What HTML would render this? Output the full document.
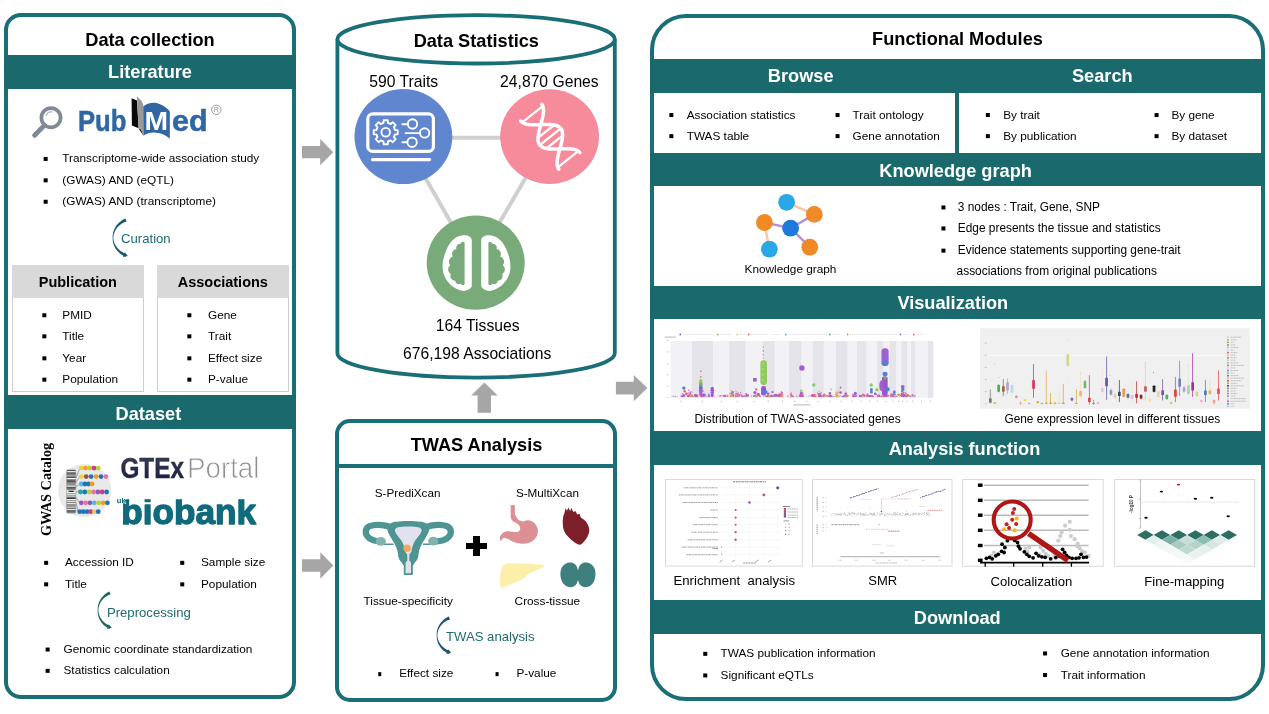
<!DOCTYPE html>
<html lang="en">
<head>
<meta charset="utf-8">
<title>TWAS Atlas overview</title>
<style>
html,body{margin:0;padding:0;background:#fff}
body{width:1269px;height:714px;position:relative;overflow:hidden;font-family:"Liberation Sans", Arial, sans-serif}
.abs{position:absolute;display:block}
.t{position:absolute;white-space:nowrap;margin:0}
.b{position:absolute;display:block;left:0;top:0;width:3.5px;height:3.5px;background:#000}
svg{overflow:visible}
</style>
</head>
<body>
<!-- left: data collection -->
<div class="abs" style="left:4px;top:13px;width:292px;height:686px;box-sizing:border-box;border:4px solid #1a6e75;border-radius:17px;background:#fff">
</div>
<div class="t" style="top:28.9px;font-size:18.2px;line-height:23.7px;color:#000;font-weight:700;left:-50.0px;width:400px;text-align:center;">Data collection</div>
<div class="abs" style="left:4px;top:55px;width:292px;height:33.8px;background:#1a6a6d">
</div>
<div class="t" style="top:61.1px;font-size:18.2px;line-height:23.7px;color:#fff;font-weight:700;left:-50.0px;width:400px;text-align:center;">Literature</div>
<svg class="abs" style="left:28px;top:94px" width="200" height="48" viewBox="28 94 200 48">
<g fill="none" stroke="#7f8a96" stroke-linecap="round">
<circle cx="51.0" cy="117.7" r="9.6" stroke-width="3.7"/>
<path d="M44.4 125.4 L34.6 135.2" stroke-width="4.8"/>
<path d="M46.0 115.6 A5.6 5.6 0 0 1 52.4 112.0" stroke-width="1.2" stroke="#aeb6bf"/>
</g>
<text x="78.0" y="131.0" font-family='"Liberation Sans", Arial, sans-serif' font-weight="700" font-size="28.6" fill="#2f66a3" stroke="#2f66a3" stroke-width="0.5" textLength="48.4" lengthAdjust="spacingAndGlyphs">Pub</text>
<path d="M131.6 98.3 L137 100.5 L138.6 128.5 L143.4 135.6 L141 129.2 L131.9 125.4 Z" fill="#0a0a0a"/>
<path d="M137 96.2 L141.6 101 L143.2 104.6 L143.2 133.6 L138.4 126.4 L137.2 100.6 Z" fill="#9a9a9a"/>
<path d="M143.2 106.6 C147.5 102.6 155 101.2 160.6 104.6 C164.2 106.2 167.6 108.6 169.8 111.4 L169.8 138.8 C164 133.4 152 129.6 143.4 135.8 Z" fill="#2f66a3"/>
<text x="144.6" y="129.6" font-family='"Liberation Sans", Arial, sans-serif' font-weight="700" font-size="25" fill="#fff" textLength="23.6" lengthAdjust="spacingAndGlyphs">M</text>
<text x="172.0" y="131.0" font-family='"Liberation Sans", Arial, sans-serif' font-weight="700" font-size="28.6" fill="#2f66a3" stroke="#2f66a3" stroke-width="0.5" textLength="35.6" lengthAdjust="spacingAndGlyphs">ed</text>
<circle cx="216.3" cy="109.8" r="4.7" fill="none" stroke="#8e9399" stroke-width="0.9"/>
<text x="216.3" y="112.3" font-family='"Liberation Sans", Arial, sans-serif' font-size="7" fill="#8e9399" text-anchor="middle">R</text>
</svg>
<i class="b" style="transform:translate(43.65px,156.95px)">
</i>
<div class="t" style="top:151.4px;font-size:11.8px;line-height:15.3px;color:#000;left:62.3px;">Transcriptome-wide association study</div>
<i class="b" style="transform:translate(43.65px,178.35px)">
</i>
<div class="t" style="top:172.8px;font-size:11.8px;line-height:15.3px;color:#000;left:62.3px;">(GWAS) AND (eQTL)</div>
<i class="b" style="transform:translate(43.65px,199.75px)">
</i>
<div class="t" style="top:194.2px;font-size:11.8px;line-height:15.3px;color:#000;left:62.3px;">(GWAS) AND (transcriptome)</div>
<svg class="abs" style="left:110.4px;top:216.0px" width="23.0" height="44.400000000000006" viewBox="110.4 216.0 23.0 44.400000000000006">
<path d="M125.84 218.50 L124.53 219.12 L123.27 219.82 L122.06 220.58 L120.91 221.42 L119.83 222.32 L118.81 223.28 L117.87 224.30 L117.00 225.37 L116.22 226.48 L115.51 227.64 L114.90 228.83 L114.37 230.05 L113.92 231.30 L113.57 232.56 L113.31 233.84 L113.14 235.13 L113.05 236.41 L113.05 237.70 L113.05 238.99 L113.14 240.27 L113.31 241.56 L113.57 242.84 L113.92 244.10 L114.37 245.35 L114.90 246.57 L115.51 247.76 L116.22 248.92 L117.00 250.03 L117.87 251.10 L118.81 252.12 L119.83 253.08 L120.91 253.98 L122.06 254.82 L123.33 255.46 L124.59 256.14 L125.90 256.75 L126.90 254.05 L125.70 253.64 L124.53 253.16 L123.47 252.48 L122.38 251.87 L121.33 251.18 L120.34 250.44 L119.39 249.63 L118.51 248.76 L117.69 247.83 L116.94 246.86 L116.25 245.83 L115.65 244.77 L115.12 243.66 L114.67 242.52 L114.30 241.34 L114.03 240.15 L113.84 238.93 L113.75 237.70 L113.84 236.47 L114.03 235.25 L114.30 234.06 L114.67 232.88 L115.12 231.74 L115.65 230.63 L116.25 229.57 L116.94 228.54 L117.69 227.57 L118.51 226.64 L119.39 225.77 L120.34 224.96 L121.33 224.22 L122.38 223.53 L123.47 222.92 L124.60 222.37 L125.76 221.90 L126.96 221.50 Z" fill="#1d5870"/>
<path d="M128.28 256.10 L123.28 256.91 L125.02 252.22 Z" fill="#1d5870"/>
</svg>
<div class="t" style="top:229.6px;font-size:13.15px;line-height:17.1px;color:#1f6b70;left:121.0px;">Curation</div>
<div class="abs" style="left:12px;top:265.3px;width:131.7px;height:127px;box-sizing:border-box;border:1px solid #cdcdcd;background:#fff">
</div>
<div class="abs" style="left:12px;top:265.3px;width:131.7px;height:32.9px;background:#d9d9d9">
</div>
<div class="t" style="top:273.4px;font-size:14.5px;line-height:18.9px;color:#000;font-weight:700;left:-122.2px;width:400px;text-align:center;">Publication</div>
<i class="b" style="transform:translate(42.35px,313.25px)">
</i>
<div class="t" style="top:307.8px;font-size:11.8px;line-height:15.3px;color:#000;left:62.3px;">PMID</div>
<i class="b" style="transform:translate(42.35px,334.35px)">
</i>
<div class="t" style="top:328.9px;font-size:11.8px;line-height:15.3px;color:#000;left:62.3px;">Title</div>
<i class="b" style="transform:translate(42.35px,356.35px)">
</i>
<div class="t" style="top:350.9px;font-size:11.8px;line-height:15.3px;color:#000;left:62.3px;">Year</div>
<i class="b" style="transform:translate(42.35px,377.65px)">
</i>
<div class="t" style="top:372.2px;font-size:11.8px;line-height:15.3px;color:#000;left:62.3px;">Population</div>
<div class="abs" style="left:157px;top:265.3px;width:131.7px;height:127px;box-sizing:border-box;border:1px solid #cdcdcd;background:#fff">
</div>
<div class="abs" style="left:157px;top:265.3px;width:131.7px;height:32.9px;background:#d9d9d9">
</div>
<div class="t" style="top:273.4px;font-size:14.5px;line-height:18.9px;color:#000;font-weight:700;left:22.8px;width:400px;text-align:center;">Associations</div>
<i class="b" style="transform:translate(187.35px,313.25px)">
</i>
<div class="t" style="top:307.8px;font-size:11.8px;line-height:15.3px;color:#000;left:208.0px;">Gene</div>
<i class="b" style="transform:translate(187.35px,334.35px)">
</i>
<div class="t" style="top:328.9px;font-size:11.8px;line-height:15.3px;color:#000;left:208.0px;">Trait</div>
<i class="b" style="transform:translate(187.35px,356.35px)">
</i>
<div class="t" style="top:350.9px;font-size:11.8px;line-height:15.3px;color:#000;left:208.0px;">Effect size</div>
<i class="b" style="transform:translate(187.35px,377.65px)">
</i>
<div class="t" style="top:372.2px;font-size:11.8px;line-height:15.3px;color:#000;left:208.0px;">P-value</div>
<div class="abs" style="left:4px;top:395px;width:292px;height:33.8px;background:#1a6a6d">
</div>
<div class="t" style="top:402.8px;font-size:18.2px;line-height:23.7px;color:#fff;font-weight:700;left:-51.6px;width:400px;text-align:center;">Dataset</div>
<svg class="abs" style="left:55px;top:462px" width="60" height="58" viewBox="55 462 60 58">
<circle cx="84.7" cy="490.5" r="26.6" fill="#e9e9ea"/>
<path d="M75.8 478.2 L79.8 468.1" stroke="#555" stroke-width="0.45" fill="none"/>
<path d="M75.8 482.9 L79.8 476.6" stroke="#555" stroke-width="0.45" fill="none"/>
<path d="M75.8 486.9 L79.8 484.0" stroke="#555" stroke-width="0.45" fill="none"/>
<path d="M75.8 491.3 L79.0 492.0" stroke="#555" stroke-width="0.45" fill="none"/>
<path d="M75.8 497.3 L79.8 502.8" stroke="#555" stroke-width="0.45" fill="none"/>
<path d="M75.8 502.2 L78.2 511.7" stroke="#555" stroke-width="0.45" fill="none"/>
<rect x="66.6" y="469.7" width="9.2" height="43.9" rx="2" fill="#fafafa" stroke="#666" stroke-width="0.4"/>
<rect x="66.8" y="470.2" width="8.8" height="0.9" fill="#333"/>
<rect x="66.8" y="472.4" width="8.8" height="0.5" fill="#111"/>
<rect x="66.8" y="473.3" width="8.8" height="0.9" fill="#222"/>
<rect x="66.8" y="474.6" width="8.8" height="0.7" fill="#111"/>
<rect x="66.8" y="475.7" width="8.8" height="1.2" fill="#777"/>
<rect x="66.8" y="477.3" width="8.8" height="0.7" fill="#111"/>
<rect x="66.8" y="479.3" width="8.8" height="0.5" fill="#222"/>
<rect x="66.8" y="480.2" width="8.8" height="0.7" fill="#222"/>
<rect x="66.8" y="481.3" width="8.8" height="1.2" fill="#111"/>
<rect x="66.8" y="483.1" width="8.8" height="0.5" fill="#222"/>
<rect x="66.8" y="484.2" width="8.8" height="0.9" fill="#777"/>
<rect x="66.8" y="485.7" width="8.8" height="0.5" fill="#222"/>
<rect x="66.8" y="487.1" width="8.8" height="0.7" fill="#111"/>
<rect x="66.8" y="488.4" width="8.8" height="0.9" fill="#111"/>
<rect x="66.8" y="489.7" width="8.8" height="0.5" fill="#222"/>
<rect x="66.8" y="490.8" width="8.8" height="1.2" fill="#222"/>
<rect x="66.8" y="493.3" width="8.8" height="0.9" fill="#777"/>
<rect x="66.8" y="495.5" width="8.8" height="0.9" fill="#555"/>
<rect x="66.8" y="497.0" width="8.8" height="0.7" fill="#333"/>
<rect x="66.8" y="498.1" width="8.8" height="0.9" fill="#222"/>
<rect x="66.8" y="500.3" width="8.8" height="0.9" fill="#777"/>
<rect x="66.8" y="502.1" width="8.8" height="0.5" fill="#111"/>
<rect x="66.8" y="503.9" width="8.8" height="0.7" fill="#555"/>
<rect x="66.8" y="505.2" width="8.8" height="1.2" fill="#777"/>
<rect x="66.8" y="506.8" width="8.8" height="0.5" fill="#222"/>
<rect x="66.8" y="508.2" width="8.8" height="0.9" fill="#555"/>
<rect x="66.8" y="510.4" width="8.8" height="1.2" fill="#111"/>
<rect x="66.8" y="512.0" width="8.8" height="0.9" fill="#777"/>
<path d="M66.6 489.6 L69.6 491 L66.6 492.4 Z M75.8 489.6 L72.8 491 L75.8 492.4 Z" fill="#e9e9ea"/>
<circle cx="81.3" cy="468.1" r="2.4" fill="#e6d447"/>
<circle cx="85.5" cy="468.1" r="2.4" fill="#f39a2c"/>
<circle cx="89.8" cy="468.1" r="2.4" fill="#b9d531"/>
<circle cx="94.0" cy="468.1" r="2.4" fill="#d6338a"/>
<circle cx="98.2" cy="468.1" r="2.4" fill="#b9d531"/>
<circle cx="81.3" cy="476.6" r="2.4" fill="#e6d447"/>
<circle cx="86.2" cy="476.6" r="2.4" fill="#a0522d"/>
<circle cx="91.1" cy="476.6" r="2.4" fill="#1f74b7"/>
<circle cx="96.1" cy="476.6" r="2.4" fill="#f39a2c"/>
<circle cx="101.0" cy="476.6" r="2.4" fill="#1f74b7"/>
<circle cx="105.9" cy="476.6" r="2.4" fill="#ee6fa8"/>
<circle cx="81.3" cy="484.0" r="2.4" fill="#56b4e9"/>
<circle cx="84.9" cy="484.0" r="2.4" fill="#1f74b7"/>
<circle cx="88.5" cy="484.0" r="2.4" fill="#1f74b7"/>
<circle cx="92.1" cy="484.0" r="2.4" fill="#f39a2c"/>
<circle cx="80.5" cy="492.0" r="2.4" fill="#1aa6a6"/>
<circle cx="84.8" cy="492.0" r="2.4" fill="#1f74b7"/>
<circle cx="89.2" cy="492.0" r="2.4" fill="#b9d531"/>
<circle cx="93.5" cy="492.0" r="2.4" fill="#ee6fa8"/>
<circle cx="97.9" cy="492.0" r="2.4" fill="#8e5bb5"/>
<circle cx="102.2" cy="492.0" r="2.4" fill="#d6338a"/>
<circle cx="106.6" cy="492.0" r="2.4" fill="#1f74b7"/>
<circle cx="81.3" cy="502.8" r="2.4" fill="#8e5bb5"/>
<circle cx="85.7" cy="502.8" r="2.4" fill="#ee6fa8"/>
<circle cx="90.0" cy="502.8" r="2.4" fill="#8e5bb5"/>
<circle cx="94.3" cy="502.8" r="2.4" fill="#56b4e9"/>
<circle cx="98.7" cy="502.8" r="2.4" fill="#b9d531"/>
<circle cx="103.1" cy="502.8" r="2.4" fill="#f39a2c"/>
<circle cx="107.4" cy="502.8" r="2.4" fill="#1f74b7"/>
<circle cx="79.7" cy="511.7" r="2.4" fill="#1f74b7"/>
<circle cx="83.4" cy="511.7" r="2.4" fill="#1f74b7"/>
<circle cx="87.1" cy="511.7" r="2.4" fill="#1f74b7"/>
<circle cx="90.8" cy="511.7" r="2.4" fill="#d6338a"/>
<circle cx="94.5" cy="511.7" r="2.4" fill="#e6d447"/>
<circle cx="98.2" cy="511.7" r="2.4" fill="#1f74b7"/>
</svg>
<svg class="abs" style="left:38px;top:438px" width="20" height="102" viewBox="38 438 20 102">
<text transform="translate(51.4 536) rotate(-90)" font-family='"Liberation Serif","Times New Roman",serif' font-weight="700" font-size="14.25" fill="#000" textLength="93.2" lengthAdjust="spacingAndGlyphs">GWAS Catalog</text>
</svg>
<svg class="abs" style="left:112px;top:450px" width="152" height="80" viewBox="112 450 152 80">
<defs>
<linearGradient id="gtx" x1="0" y1="0" x2="0" y2="1">
<stop offset="0" stop-color="#3a4258"/>
<stop offset="1" stop-color="#141c3c"/>
</linearGradient>
</defs>
<text x="120.4" y="478.0" font-family='"Liberation Sans", Arial, sans-serif' font-weight="700" font-size="28.6" fill="url(#gtx)" stroke="#232a45" stroke-width="0.4" textLength="63.6" lengthAdjust="spacingAndGlyphs">GTEx</text>
<text x="186.9" y="478.0" font-family='"Liberation Sans", Arial, sans-serif' font-size="28.6" fill="#8f8f8f" stroke="#fff" stroke-width="0.75" style="paint-order:fill stroke" textLength="72.6" lengthAdjust="spacingAndGlyphs">Portal</text>
<clipPath id="bbclip">
<rect x="112" y="499.3" width="152" height="32"/>
</clipPath>
<text x="121.3" y="523.8" clip-path="url(#bbclip)" font-family='"Liberation Sans", Arial, sans-serif' font-weight="700" font-size="34.6" fill="#0f6a7c" stroke="#0f6a7c" stroke-width="1.3" stroke-linejoin="round" textLength="134.8" lengthAdjust="spacingAndGlyphs">biobank</text>
<text x="116.8" y="503.4" font-family='"Liberation Sans", Arial, sans-serif' font-weight="700" font-size="7.6" fill="#0f6a7c" stroke="#fff" stroke-width="0.9" style="paint-order:stroke fill">uk</text>
</svg>
<i class="b" style="transform:translate(44.15px,560.85px)">
</i>
<div class="t" style="top:555.4px;font-size:11.8px;line-height:15.3px;color:#000;left:65.0px;">Accession ID</div>
<i class="b" style="transform:translate(180.25px,560.85px)">
</i>
<div class="t" style="top:555.4px;font-size:11.8px;line-height:15.3px;color:#000;left:201.0px;">Sample size</div>
<i class="b" style="transform:translate(44.15px,582.35px)">
</i>
<div class="t" style="top:576.9px;font-size:11.8px;line-height:15.3px;color:#000;left:65.0px;">Title</div>
<i class="b" style="transform:translate(180.25px,582.35px)">
</i>
<div class="t" style="top:576.9px;font-size:11.8px;line-height:15.3px;color:#000;left:201.0px;">Population</div>
<svg class="abs" style="left:95.0px;top:589.2px" width="22.0" height="43.39999999999998" viewBox="95.0 589.2 22.0 43.39999999999998">
<path d="M109.42 591.71 L108.20 592.32 L107.03 593.00 L105.91 593.75 L104.85 594.57 L103.85 595.45 L102.92 596.39 L102.05 597.38 L101.25 598.42 L100.53 599.50 L99.89 600.63 L99.32 601.79 L98.84 602.97 L98.43 604.18 L98.11 605.41 L97.88 606.65 L97.72 607.90 L97.65 609.15 L97.65 610.40 L97.65 611.65 L97.72 612.90 L97.88 614.15 L98.11 615.39 L98.43 616.62 L98.84 617.83 L99.32 619.01 L99.89 620.17 L100.53 621.30 L101.25 622.38 L102.05 623.42 L102.92 624.41 L103.85 625.35 L104.85 626.23 L105.91 627.05 L107.10 627.67 L108.26 628.34 L109.48 628.94 L110.52 626.26 L109.42 625.86 L108.35 625.40 L107.38 624.75 L106.37 624.16 L105.40 623.50 L104.48 622.77 L103.61 621.99 L102.79 621.15 L102.03 620.25 L101.33 619.30 L100.69 618.31 L100.13 617.27 L99.63 616.19 L99.21 615.08 L98.87 613.94 L98.61 612.78 L98.44 611.60 L98.35 610.40 L98.44 609.20 L98.61 608.02 L98.87 606.86 L99.21 605.72 L99.63 604.61 L100.13 603.53 L100.69 602.49 L101.33 601.50 L102.03 600.55 L102.79 599.65 L103.61 598.81 L104.48 598.03 L105.40 597.30 L106.37 596.64 L107.38 596.05 L108.42 595.53 L109.49 595.07 L110.58 594.69 Z" fill="#1f6866"/>
<path d="M111.86 628.33 L106.85 629.06 L108.67 624.40 Z" fill="#1f6866"/>
</svg>
<div class="t" style="top:604.0px;font-size:13.15px;line-height:17.1px;color:#1f6b70;left:106.9px;">Preprocessing</div>
<i class="b" style="transform:translate(45.65px,647.55px)">
</i>
<div class="t" style="top:642.1px;font-size:11.8px;line-height:15.3px;color:#000;left:63.5px;">Genomic coordinate standardization</div>
<i class="b" style="transform:translate(45.65px,668.85px)">
</i>
<div class="t" style="top:663.4px;font-size:11.8px;line-height:15.3px;color:#000;left:63.5px;">Statistics calculation</div>
<!-- middle: statistics + TWAS analysis -->
<svg class="abs" style="left:330px;top:8px" width="294" height="378" viewBox="330 8 294 378">
<path d="M337.4 39.3 V353.2 A138.7 24.4 0 0 0 614.8 353.2 V39.3" fill="#fff" stroke="#1a6e75" stroke-width="3.8"/>
<ellipse cx="476.1" cy="39.3" rx="138.7" ry="24.2" fill="#fff" stroke="#1a6e75" stroke-width="3.8"/>
<g stroke="#cfcfcf" stroke-width="4">
<path d="M403.4 137.8 H549.5"/>
<path d="M401.6 136.6 L473.9 262.7"/>
<path d="M549.8 136.6 L476.0 262.7"/>
</g>
<ellipse cx="403.4" cy="136.6" rx="48.9" ry="47.5" fill="#6086cf"/>
<ellipse cx="549.6" cy="136.6" rx="49.4" ry="47.3" fill="#f58b9b"/>
<ellipse cx="475.7" cy="262.7" rx="49.0" ry="47.1" fill="#79aa79"/>
<g fill="none" stroke="#fff" stroke-linecap="round" stroke-linejoin="round">
<rect x="367.8" y="113.8" width="65.6" height="37.6" rx="5" stroke-width="3.2"/>
<path d="M372.5 159.6 H429.6" stroke-width="3.1"/>
<path d="M397.7 130.1 L397.7 134.3 L395.0 134.4 L393.9 137.2 L395.7 139.2 L392.7 142.2 L390.7 140.4 L387.9 141.5 L387.8 144.2 L383.6 144.2 L383.5 141.5 L380.7 140.4 L378.7 142.2 L375.7 139.2 L377.5 137.2 L376.4 134.4 L373.7 134.3 L373.7 130.1 L376.4 130.0 L377.5 127.2 L375.7 125.2 L378.7 122.2 L380.7 124.0 L383.5 122.9 L383.6 120.2 L387.8 120.2 L387.9 122.9 L390.7 124.0 L392.7 122.2 L395.7 125.2 L393.9 127.2 L395.0 130.0 Z" stroke-width="1.9"/>
<circle cx="385.7" cy="132.2" r="4.3" stroke-width="1.9"/>
<circle cx="412.5" cy="124.0" r="4.7" stroke-width="1.9"/>
<path d="M402.4 124.2 H407.6" stroke-width="1.9"/>
<circle cx="424.6" cy="132.9" r="4.7" stroke-width="1.9"/>
<path d="M405.6 133.1 H419.6" stroke-width="1.9"/>
<circle cx="412.1" cy="142.3" r="4.7" stroke-width="1.9"/>
<path d="M402.4 142.3 H407.2" stroke-width="1.9"/>
</g>
<g fill="none" stroke="#fff" stroke-linecap="round" stroke-linejoin="round">
<path d="M520.7 120.9 L521.4 121.7 L522.2 122.3 L523.1 122.9 L524.1 123.4 L525.3 123.8 L526.5 124.2 L527.8 124.4 L529.3 124.6 L530.8 124.7 L532.3 124.8 L533.9 124.8 L535.6 124.8 L537.3 124.8 L539.0 124.7 L540.8 124.7 L542.5 124.6 L544.2 124.6 L545.9 124.5 L547.6 124.5 L549.2 124.5 L550.7 124.6 L552.2 124.7 L553.7 124.9 L555.0 125.2 L556.2 125.5 L557.4 125.9 L558.4 126.4 L559.3 127.0 L560.1 127.7 L560.8 128.4 L561.4 129.3 L561.9 130.2 L562.2 131.3 L562.4 132.4 L562.6 133.6 L562.6 134.9 L562.6 136.2 L562.4 137.6 L562.2 139.1 L561.9 140.6 L561.6 142.2 L561.2 143.8 L560.8 145.5 L560.3 147.2 L559.9 148.8 L559.4 150.5 L558.9 152.2 L558.5 153.8 L558.1 155.4 L557.8 157.0 L557.5 158.5 L557.3 160.0 L557.1 161.4 L557.1 162.8 L557.1 164.1 L557.3 165.3 L557.5 166.4 L557.8 167.4 L558.3 168.4 L558.9 169.2" stroke-width="3.5"/>
<path d="M541.7 104.3 L542.3 105.1 L542.8 106.1 L543.1 107.1 L543.3 108.2 L543.5 109.4 L543.5 110.7 L543.5 112.1 L543.3 113.5 L543.1 115.0 L542.8 116.5 L542.5 118.1 L542.1 119.7 L541.7 121.3 L541.2 123.0 L540.8 124.7 L540.3 126.3 L539.8 128.0 L539.4 129.7 L539.0 131.3 L538.7 132.9 L538.4 134.4 L538.2 135.9 L538.0 137.3 L538.0 138.6 L538.0 139.9 L538.2 141.1 L538.4 142.2 L538.7 143.3 L539.2 144.2 L539.8 145.1 L540.5 145.8 L541.3 146.5 L542.2 147.1 L543.2 147.6 L544.4 148.0 L545.6 148.3 L546.9 148.6 L548.4 148.8 L549.9 148.9 L551.4 149.0 L553.0 149.0 L554.7 149.0 L556.4 148.9 L558.1 148.9 L559.9 148.8 L561.6 148.8 L563.3 148.7 L565.0 148.7 L566.7 148.7 L568.3 148.7 L569.8 148.8 L571.3 148.9 L572.8 149.1 L574.1 149.3 L575.3 149.7 L576.5 150.1 L577.5 150.6 L578.4 151.2 L579.2 151.8 L579.9 152.6" stroke-width="3.5"/>
<path d="M522.3 122.4 L542.8 106.2" stroke-width="2.3"/>
<path d="M538.0 137.8 L554.2 125.0" stroke-width="2.3"/>
<path d="M539.8 145.1 L560.8 128.4" stroke-width="2.3"/>
<path d="M546.4 148.5 L562.6 135.7" stroke-width="2.3"/>
<path d="M557.8 167.3 L578.3 151.1" stroke-width="2.3"/>
</g>
<g>
<path d="M471.8 240.6 C471.8 236.8 468 234.9 463 235.3 C456 236 450 241 446.4 250 C443 258 441.4 266 443.4 273 C445.4 280.4 451 286.4 458 289.6 C463 291.8 468.4 291.6 471.8 286.6 Z" fill="#fff"/>
<path d="M464.6 242.4 A2.54 2.54 0 0 0 460.6 243.8 A4.01 4.01 0 0 0 456.4 249.0 A4.94 4.94 0 0 0 452.8 256.4 A5.51 5.51 0 0 0 450.2 265.2 A5.41 5.41 0 0 0 450.8 274.2 A4.76 4.76 0 0 0 455.2 280.8 A3.71 3.71 0 0 0 460.6 283.8 A2.41 2.41 0 0 0 464.6 284.2 Z" fill="#79aa79"/>
</g>
<g transform="translate(953.0 0) scale(-1 1)">
<path d="M471.8 240.6 C471.8 236.8 468 234.9 463 235.3 C456 236 450 241 446.4 250 C443 258 441.4 266 443.4 273 C445.4 280.4 451 286.4 458 289.6 C463 291.8 468.4 291.6 471.8 286.6 Z" fill="#fff"/>
<path d="M464.6 242.4 A2.54 2.54 0 0 0 460.6 243.8 A4.01 4.01 0 0 0 456.4 249.0 A4.94 4.94 0 0 0 452.8 256.4 A5.51 5.51 0 0 0 450.2 265.2 A5.41 5.41 0 0 0 450.8 274.2 A4.76 4.76 0 0 0 455.2 280.8 A3.71 3.71 0 0 0 460.6 283.8 A2.41 2.41 0 0 0 464.6 284.2 Z" fill="#79aa79"/>
</g>
</svg>
<div class="t" style="top:29.9px;font-size:18.2px;line-height:23.7px;color:#000;font-weight:700;left:276.3px;width:400px;text-align:center;">Data Statistics</div>
<div class="t" style="top:72.0px;font-size:15.7px;line-height:20.4px;color:#000;left:203.7px;width:400px;text-align:center;">590 Traits</div>
<div class="t" style="top:72.0px;font-size:15.7px;line-height:20.4px;color:#000;left:349.4px;width:400px;text-align:center;">24,870 Genes</div>
<div class="t" style="top:315.6px;font-size:15.7px;line-height:20.4px;color:#000;left:277.7px;width:400px;text-align:center;">164 Tissues</div>
<div class="t" style="top:343.6px;font-size:15.7px;line-height:20.4px;color:#000;left:277.2px;width:400px;text-align:center;">676,198 Associations</div>
<svg class="abs" style="left:0;top:0" width="1269" height="714" viewBox="0 0 1269 714">
<path d="M302 146.1 H320.2 V139.1 L333.2 152.2 L320.2 165.29999999999998 V158.29999999999998 H302 Z" fill="#a6a6a6"/>
<path d="M302 559.3 H320.3 V552.2 L333.4 565.5 L320.3 578.8 V571.7 H302 Z" fill="#a6a6a6"/>
<path d="M615.9 381.8 H633.8 V375.0 L647.3 388.1 L633.8 401.20000000000005 V394.40000000000003 H615.9 Z" fill="#a6a6a6"/>
<path d="M477.6 412.8 V395.6 H471.2 L484.4 382.4 L497.7 395.6 H491 V412.8 Z" fill="#a6a6a6"/>
</svg>
<div class="abs" style="left:335px;top:419px;width:282px;height:283px;box-sizing:border-box;border:4px solid #1a6e75;border-radius:15px;background:#fff">
</div>
<div class="abs" style="left:337px;top:464px;width:279px;height:4px;background:#1a6e75">
</div>
<div class="t" style="top:433.9px;font-size:18.2px;line-height:23.7px;color:#000;font-weight:700;left:276.5px;width:400px;text-align:center;">TWAS Analysis</div>
<div class="t" style="top:484.9px;font-size:11.7px;line-height:15.2px;color:#000;left:207.6px;width:400px;text-align:center;">S-PrediXcan</div>
<div class="t" style="top:484.9px;font-size:11.7px;line-height:15.2px;color:#000;left:347.4px;width:400px;text-align:center;">S-MultiXcan</div>
<svg class="abs" style="left:358px;top:516px" width="100" height="64" viewBox="358 516 100 64">
<g fill="none" stroke="#4d9492" stroke-width="6.3" stroke-linecap="round">
<path d="M391 527.4 C384 524.2 374 524.4 369.6 526.2 C364.6 528.6 364.6 534.6 369 538 C372.4 540.6 376.6 541.2 380 541.4"/>
<path d="M425.6 527.4 C432.6 524.2 442.6 524.4 447 526.2 C452 528.6 452 534.6 447.6 538 C444.2 540.6 440 541.2 436.6 541.4"/>
</g>
<path d="M384 544.2 H393.6 M423 544.2 H432.6" stroke="#4d9492" stroke-width="1.4"/>
<path d="M387.4 528 C388 524 392 521.6 397 521.8 C401 520.6 415.6 520.6 419.6 521.8 C424.6 521.6 428.6 524 429.2 528 C429.6 532 426.4 536 423.6 541 C420.6 546 419 549.6 418.6 554 C418.4 558 417 560.4 414.8 562.6 L412.8 566 V575 H403.8 V566 L401.8 562.6 C399.6 560.4 398.2 558 398 554 C397.6 549.6 396 546 393 541 C390.2 536 387 532 387.4 528 Z" fill="#4d9492"/>
<path d="M395.0 530.2 C395.0 527.2 399.4 526.4 408.3 526.4 C417.2 526.4 421.6 527.2 421.6 530.2 C421.6 533.4 417.6 536.6 414.6 541.6 C412.6 545.4 411.8 548.6 411.4 551.6 L409.4 554.6 L409.2 560.6 L411 562.4 V573.2 H405.6 V562.4 L407.4 560.6 L407.2 554.6 L405 551.6 C404.8 548.6 404 545.4 402 541.6 C399 536.6 395.0 533.4 395.0 530.2 Z" fill="#e2e2ef"/>
<circle cx="407.1" cy="548.2" r="3.7" fill="#f7a85a"/>
<ellipse cx="380.8" cy="541.4" rx="5.1" ry="4.4" fill="#80b3af"/>
<ellipse cx="433.2" cy="541.1" rx="5.1" ry="4.4" fill="#80b3af"/>
</svg>
<svg class="abs" style="left:495px;top:500px" width="106" height="94" viewBox="495 500 106 94">
<path d="M512.8 516.0 C513.5 515.5 514.1 514.0 514.9 514.6 C515.8 515.2 516.8 518.5 518.0 519.6 C519.3 520.8 520.8 521.2 522.5 521.3 C524.2 521.4 526.2 520.0 528.1 520.2 C530.0 520.4 532.5 521.3 534.1 522.7 C535.7 524.1 537.1 526.5 537.6 528.6 C538.1 530.8 537.9 533.5 537.1 535.6 C536.2 537.7 534.5 539.9 532.3 541.2 C530.1 542.6 526.5 543.5 523.6 543.7 C520.8 544.0 517.7 543.4 515.2 542.6 C512.7 541.9 510.2 540.1 508.5 539.3 C506.7 538.4 505.7 537.8 504.7 537.7 C503.7 537.6 502.9 538.2 502.3 538.7 C501.7 539.2 501.5 541.1 501.1 540.9 C500.6 540.8 499.7 538.9 499.8 537.7 C499.9 536.5 500.9 534.7 501.9 533.7 C503.0 532.6 504.4 531.7 506.1 531.4 C507.9 531.1 510.5 531.6 512.4 531.7 C514.3 531.8 516.1 532.3 517.3 532.0 C518.6 531.6 519.6 530.7 520.0 529.7 C520.4 528.8 520.2 527.4 519.7 526.4 C519.2 525.3 518.1 524.5 516.9 523.6 C515.7 522.7 513.7 522.1 512.7 521.1 C511.7 520.0 510.8 518.2 510.9 517.4 C510.9 516.6 512.2 516.5 512.8 516.0 Z" fill="#dc9094"/>
<rect x="510.7" y="505.1" width="4.2" height="12" fill="#dc9094"/>
<path d="M563.4 516.0 C564.0 514.1 564.6 513.3 566.3 512.9 C568.1 512.5 571.6 512.7 574.0 513.5 C576.4 514.2 578.8 516.1 580.8 517.4 C582.7 518.7 584.2 519.5 585.5 521.1 C586.8 522.6 588.1 524.9 588.7 526.7 C589.3 528.4 589.4 530.0 589.2 531.7 C588.9 533.4 588.3 535.2 587.3 537.0 C586.4 538.8 584.6 541.1 583.3 542.3 C582.0 543.6 581.2 544.8 579.6 544.7 C578.1 544.6 575.9 543.2 574.0 541.9 C572.2 540.6 570.0 538.8 568.4 537.0 C566.8 535.3 565.3 533.5 564.4 531.4 C563.4 529.3 563.0 527.0 562.8 524.4 C562.7 521.8 562.8 517.9 563.4 516.0 Z" fill="#7d1f2a"/>
<path d="M563.7 516.0 L565.6 508.3 L567.0 510.7 L568.4 507.6 L570.1 511.0 L571.4 508.0 L573.1 511.8 L575.7 511.2 L577.1 514.6 L579.6 513.8 L580.8 518.1 L574.0 518.8 L565.6 518.8 Z" fill="#7d1f2a"/>
<path d="M500.5 573.4 C500.9 571.2 501.8 567.1 502.9 565.7 C504.0 564.3 505.7 563.6 508.2 563.3 C510.7 563.1 517.1 563.5 520.8 563.6 C524.5 563.7 531.4 564.0 534.8 564.2 C538.2 564.4 544.2 564.6 544.9 565.3 C545.6 566.0 541.5 568.0 539.7 568.9 C537.9 569.9 533.8 571.4 532.0 572.3 C530.2 573.2 528.0 574.6 526.7 575.5 C525.4 576.5 524.1 578.1 522.5 579.0 C520.9 580.0 517.4 581.6 515.2 582.5 C513.0 583.5 508.8 585.0 506.8 585.8 C504.8 586.5 502.1 588.3 501.2 587.7 C500.3 587.2 500.2 583.8 500.1 581.8 C500.0 579.8 500.1 575.7 500.5 573.4 Z" fill="#fbefaa"/>
<path d="M560.4 574.1 C560.4 572.0 560.8 569.6 561.7 567.8 C562.6 566.1 564.0 564.6 565.6 563.8 C567.2 562.9 569.6 562.4 571.2 562.6 C572.9 562.9 574.6 563.9 575.7 565.0 C576.8 566.2 577.3 567.9 577.7 569.5 C578.1 571.1 578.2 573.0 578.2 574.8 C578.2 576.7 578.1 578.8 577.7 580.4 C577.3 582.1 576.8 583.8 575.7 584.9 C574.6 586.0 572.7 587.1 571.0 587.2 C569.2 587.3 566.9 586.5 565.4 585.5 C563.8 584.4 562.5 582.6 561.7 580.7 C560.9 578.8 560.4 576.3 560.4 574.1 Z" fill="#3f7f7e"/>
<path d="M595.5 574.1 C595.5 572.0 595.1 569.6 594.2 567.8 C593.3 566.1 591.9 564.6 590.3 563.8 C588.7 562.9 586.4 562.4 584.7 562.6 C583.0 562.9 581.3 563.9 580.2 565.0 C579.1 566.2 578.7 567.9 578.2 569.5 C577.8 571.1 577.7 573.0 577.7 574.8 C577.7 576.7 577.8 578.8 578.2 580.4 C578.7 582.1 579.1 583.8 580.2 584.9 C581.3 586.0 583.2 587.1 585.0 587.2 C586.7 587.3 589.0 586.5 590.6 585.5 C592.1 584.4 593.4 582.6 594.2 580.7 C595.0 578.8 595.5 576.3 595.5 574.1 Z" fill="#3f7f7e"/>
<rect x="576.4" y="570.2" width="3.2" height="10.6" fill="#3f7f7e"/>
</svg>
<div class="abs" style="left:466.1px;top:542.9px;width:21px;height:6.3px;background:#000">
</div>
<div class="abs" style="left:473.1px;top:535.9px;width:7px;height:20.3px;background:#000">
</div>
<div class="t" style="top:593.5px;font-size:11.8px;line-height:15.3px;color:#000;left:208.2px;width:400px;text-align:center;">Tissue-specificity</div>
<div class="t" style="top:593.5px;font-size:11.8px;line-height:15.3px;color:#000;left:347.4px;width:400px;text-align:center;">Cross-tissue</div>
<svg class="abs" style="left:434.0px;top:614.0px" width="22.399999999999977" height="43.39999999999998" viewBox="434.0 614.0 22.399999999999977 43.39999999999998">
<path d="M448.83 616.50 L447.58 617.11 L446.37 617.79 L445.22 618.54 L444.12 619.36 L443.09 620.24 L442.12 621.17 L441.22 622.17 L440.40 623.21 L439.65 624.29 L438.98 625.42 L438.39 626.58 L437.89 627.76 L437.47 628.98 L437.14 630.21 L436.89 631.45 L436.73 632.70 L436.65 633.95 L436.65 635.20 L436.65 636.45 L436.73 637.70 L436.89 638.95 L437.14 640.19 L437.47 641.42 L437.89 642.64 L438.39 643.82 L438.98 644.98 L439.65 646.11 L440.40 647.19 L441.22 648.23 L442.12 649.23 L443.09 650.16 L444.12 651.04 L445.22 651.86 L446.44 652.48 L447.64 653.15 L448.89 653.75 L449.91 651.05 L448.77 650.66 L447.66 650.19 L446.65 649.54 L445.61 648.94 L444.61 648.28 L443.66 647.56 L442.76 646.78 L441.92 645.94 L441.13 645.04 L440.41 644.09 L439.76 643.10 L439.17 642.06 L438.67 640.99 L438.23 639.88 L437.88 638.74 L437.62 637.58 L437.44 636.39 L437.35 635.20 L437.44 634.01 L437.62 632.82 L437.88 631.66 L438.23 630.52 L438.67 629.41 L439.17 628.34 L439.76 627.30 L440.41 626.31 L441.13 625.36 L441.92 624.46 L442.76 623.62 L443.66 622.84 L444.61 622.12 L445.61 621.46 L446.65 620.86 L447.72 620.34 L448.83 619.88 L449.97 619.50 Z" fill="#1d5474"/>
<path d="M451.27 653.11 L446.27 653.89 L448.04 649.21 Z" fill="#1d5474"/>
</svg>
<div class="t" style="top:627.7px;font-size:13.15px;line-height:17.1px;color:#1f6b70;left:446.0px;">TWAS analysis</div>
<i class="b" style="width:2.9px;height:3.5px;transform:translate(378.25px,672.15px)">
</i>
<div class="t" style="top:666.4px;font-size:11.8px;line-height:15.3px;color:#000;left:399.2px;">Effect size</div>
<i class="b" style="width:2.9px;height:3.5px;transform:translate(495.55px,672.15px)">
</i>
<div class="t" style="top:666.4px;font-size:11.8px;line-height:15.3px;color:#000;left:516.4px;">P-value</div>
<!-- right: functional modules -->
<div class="abs" style="left:650px;top:14px;width:615px;height:686.5px;box-sizing:border-box;border:4px solid #1a6e75;border-radius:36px;background:#fff">
</div>
<div class="t" style="top:28.1px;font-size:18.2px;line-height:23.7px;color:#000;font-weight:700;left:757.5px;width:400px;text-align:center;">Functional Modules</div>
<div class="abs" style="left:650px;top:58.7px;width:615px;height:34.6px;background:#1a6a6d">
</div>
<div class="t" style="top:64.8px;font-size:18.2px;line-height:23.7px;color:#fff;font-weight:700;left:600.7px;width:400px;text-align:center;">Browse</div>
<div class="t" style="top:64.8px;font-size:18.2px;line-height:23.7px;color:#fff;font-weight:700;left:902.3px;width:400px;text-align:center;">Search</div>
<div class="abs" style="left:954.6px;top:93px;width:4.5px;height:61px;background:#1a6a6d">
</div>
<i class="b" style="transform:translate(669.35px,113.05px)">
</i>
<div class="t" style="top:107.5px;font-size:11.8px;line-height:15.3px;color:#000;left:686.7px;">Association statistics</div>
<i class="b" style="transform:translate(835.55px,113.05px)">
</i>
<div class="t" style="top:107.5px;font-size:11.8px;line-height:15.3px;color:#000;left:852.6px;">Trait ontology</div>
<i class="b" style="transform:translate(669.35px,134.15px)">
</i>
<div class="t" style="top:128.7px;font-size:11.8px;line-height:15.3px;color:#000;left:686.7px;">TWAS table</div>
<i class="b" style="transform:translate(835.55px,134.15px)">
</i>
<div class="t" style="top:128.7px;font-size:11.8px;line-height:15.3px;color:#000;left:852.6px;">Gene annotation</div>
<i class="b" style="transform:translate(985.85px,113.05px)">
</i>
<div class="t" style="top:107.5px;font-size:11.8px;line-height:15.3px;color:#000;left:1003.2px;">By trait</div>
<i class="b" style="transform:translate(1154.55px,113.05px)">
</i>
<div class="t" style="top:107.5px;font-size:11.8px;line-height:15.3px;color:#000;left:1171.4px;">By gene</div>
<i class="b" style="transform:translate(985.85px,134.15px)">
</i>
<div class="t" style="top:128.7px;font-size:11.8px;line-height:15.3px;color:#000;left:1003.2px;">By publication</div>
<i class="b" style="transform:translate(1154.55px,134.15px)">
</i>
<div class="t" style="top:128.7px;font-size:11.8px;line-height:15.3px;color:#000;left:1171.4px;">By dataset</div>
<div class="abs" style="left:650px;top:153.1px;width:615px;height:33.0px;background:#1a6a6d">
</div>
<div class="t" style="top:159.8px;font-size:18.2px;line-height:23.7px;color:#fff;font-weight:700;left:755.6px;width:400px;text-align:center;">Knowledge graph</div>
<svg class="abs" style="left:750px;top:190px" width="80" height="72" viewBox="750 190 80 72">
<path d="M786.6 202.3 L814.3 214.4" stroke="#f6c6a8" stroke-width="2.4"/>
<path d="M764.4 222.5 L790.6 228.2" stroke="#b590d2" stroke-width="2.4"/>
<path d="M790.6 228.2 L814.3 214.4" stroke="#b590d2" stroke-width="2.4"/>
<path d="M790.6 228.2 L809.8 247.2" stroke="#b590d2" stroke-width="2.4"/>
<path d="M764.4 222.5 L769.4 249.2" stroke="#f6c6a8" stroke-width="2.4"/>
<circle cx="786.6" cy="202.3" r="8.4" fill="#2aa7e6"/>
<circle cx="814.3" cy="214.4" r="8.4" fill="#f08a26"/>
<circle cx="764.4" cy="222.5" r="8.4" fill="#f08a26"/>
<circle cx="790.6" cy="228.2" r="8.4" fill="#1d7ad9"/>
<circle cx="769.4" cy="249.2" r="8.4" fill="#2aa7e6"/>
<circle cx="809.8" cy="247.2" r="8.4" fill="#f08a26"/>
</svg>
<div class="t" style="top:261.5px;font-size:11.8px;line-height:15.3px;color:#000;left:590.5px;width:400px;text-align:center;">Knowledge graph</div>
<i class="b" style="transform:translate(941.45px,205.45px)">
</i>
<div class="t" style="top:199.8px;font-size:11.9px;line-height:15.5px;color:#000;left:957.8px;">3 nodes : Trait, Gene, SNP</div>
<i class="b" style="transform:translate(941.45px,226.45px)">
</i>
<div class="t" style="top:220.8px;font-size:11.9px;line-height:15.5px;color:#000;left:957.8px;">Edge presents the tissue and statistics</div>
<i class="b" style="transform:translate(941.45px,248.65px)">
</i>
<div class="t" style="top:243.1px;font-size:11.9px;line-height:15.5px;color:#000;left:957.8px;">Evidence statements supporting gene-trait</div>
<div class="t" style="top:263.6px;font-size:11.9px;line-height:15.5px;color:#000;left:956.6px;">associations from original publications</div>
<div class="abs" style="left:650px;top:285.7px;width:615px;height:33.3px;background:#1a6a6d">
</div>
<div class="t" style="top:291.8px;font-size:18.2px;line-height:23.7px;color:#fff;font-weight:700;left:752.8px;width:400px;text-align:center;">Visualization</div>
<svg class="abs" style="left:660px;top:326px" width="282" height="84" viewBox="660 326 282 84">
<rect x="670.6" y="341.0" width="262.6" height="56.8" fill="#f1f1f6"/>
<rect x="692.0" y="341.0" width="21.0" height="56.8" fill="#e4e4ea"/>
<rect x="729.1" y="341.0" width="16.5" height="56.8" fill="#e4e4ea"/>
<rect x="763.0" y="341.0" width="11.7" height="56.8" fill="#e4e4ea"/>
<rect x="789.1" y="341.0" width="12.1" height="56.8" fill="#e4e4ea"/>
<rect x="812.7" y="341.0" width="11.0" height="56.8" fill="#e4e4ea"/>
<rect x="835.9" y="341.0" width="11.3" height="56.8" fill="#e4e4ea"/>
<rect x="857.0" y="341.0" width="9.3" height="56.8" fill="#e4e4ea"/>
<rect x="877.3" y="341.0" width="6.0" height="56.8" fill="#e4e4ea"/>
<rect x="889.5" y="341.0" width="6.6" height="56.8" fill="#e4e4ea"/>
<rect x="901.4" y="341.0" width="5.7" height="56.8" fill="#e4e4ea"/>
<rect x="911.1" y="341.0" width="4.0" height="56.8" fill="#e4e4ea"/>
<rect x="928.1" y="341.0" width="5.1" height="56.8" fill="#e4e4ea"/>
<circle cx="680.3" cy="334.5" r="0.9" fill="#5b6fd1"/>
<circle cx="717.8" cy="334.5" r="0.9" fill="#8ecb60"/>
<circle cx="737.2" cy="334.5" r="0.9" fill="#f2c94c"/>
<circle cx="748.7" cy="334.5" r="0.9" fill="#e26a5a"/>
<circle cx="785.8" cy="334.5" r="0.9" fill="#59b7d6"/>
<circle cx="829.9" cy="334.5" r="0.9" fill="#4fae8c"/>
<circle cx="847.6" cy="334.5" r="0.9" fill="#ec8b3a"/>
<circle cx="900.5" cy="334.5" r="0.9" fill="#a56ad0"/>
<circle cx="913.8" cy="334.5" r="0.9" fill="#e26ab8"/>
<path d="M682.9 334.5 H713.0" stroke="#c9c9d2" stroke-width="0.6" stroke-dasharray="1.2 0.8"/>
<path d="M720.0 334.5 H731.9" stroke="#c9c9d2" stroke-width="0.6" stroke-dasharray="1.2 0.8"/>
<path d="M739.4 334.5 H746.5" stroke="#c9c9d2" stroke-width="0.6" stroke-dasharray="1.2 0.8"/>
<path d="M750.9 334.5 H768.6" stroke="#c9c9d2" stroke-width="0.6" stroke-dasharray="1.2 0.8"/>
<path d="M772.5 334.5 H780.9" stroke="#c9c9d2" stroke-width="0.6" stroke-dasharray="1.2 0.8"/>
<path d="M788.0 334.5 H827.7" stroke="#c9c9d2" stroke-width="0.6" stroke-dasharray="1.2 0.8"/>
<path d="M832.6 334.5 H840.5" stroke="#c9c9d2" stroke-width="0.6" stroke-dasharray="1.2 0.8"/>
<path d="M849.8 334.5 H897.2" stroke="#c9c9d2" stroke-width="0.6" stroke-dasharray="1.2 0.8"/>
<path d="M902.7 334.5 H909.3" stroke="#c9c9d2" stroke-width="0.6" stroke-dasharray="1.2 0.8"/>
<path d="M916.0 334.5 H923.9" stroke="#c9c9d2" stroke-width="0.6" stroke-dasharray="1.2 0.8"/>
<path d="M664.9 337.1 H675.9" stroke="#9a9aa4" stroke-width="0.7"/>
<path d="M666.6 340.4 H668.8" stroke="#b5b5be" stroke-width="0.6"/>
<path d="M666.6 351.9 H668.8" stroke="#b5b5be" stroke-width="0.6"/>
<path d="M666.6 363.8 H668.8" stroke="#b5b5be" stroke-width="0.6"/>
<path d="M666.6 374.9 H668.8" stroke="#b5b5be" stroke-width="0.6"/>
<path d="M666.6 386.3 H668.8" stroke="#b5b5be" stroke-width="0.6"/>
<path d="M666.6 397.4 H668.8" stroke="#b5b5be" stroke-width="0.6"/>
<path d="M681.0 400.7 V402.0" stroke="#8f8f9a" stroke-width="0.6"/>
<path d="M702.4 400.7 V402.0" stroke="#8f8f9a" stroke-width="0.6"/>
<path d="M721.3 400.7 V402.0" stroke="#8f8f9a" stroke-width="0.6"/>
<path d="M737.2 400.7 V402.0" stroke="#8f8f9a" stroke-width="0.6"/>
<path d="M753.8 400.7 V402.0" stroke="#8f8f9a" stroke-width="0.6"/>
<path d="M768.1 400.7 V402.0" stroke="#8f8f9a" stroke-width="0.6"/>
<path d="M782.5 400.7 V402.0" stroke="#8f8f9a" stroke-width="0.6"/>
<path d="M794.6 400.7 V402.0" stroke="#8f8f9a" stroke-width="0.6"/>
<path d="M806.7 400.7 V402.0" stroke="#8f8f9a" stroke-width="0.6"/>
<path d="M817.8 400.7 V402.0" stroke="#8f8f9a" stroke-width="0.6"/>
<path d="M829.9 400.7 V402.0" stroke="#8f8f9a" stroke-width="0.6"/>
<path d="M840.9 400.7 V402.0" stroke="#8f8f9a" stroke-width="0.6"/>
<path d="M852.0 400.7 V402.0" stroke="#8f8f9a" stroke-width="0.6"/>
<path d="M861.2 400.7 V402.0" stroke="#8f8f9a" stroke-width="0.6"/>
<path d="M869.6 400.7 V402.0" stroke="#8f8f9a" stroke-width="0.6"/>
<path d="M877.3 400.7 V402.0" stroke="#8f8f9a" stroke-width="0.6"/>
<path d="M886.2 400.7 V402.0" stroke="#8f8f9a" stroke-width="0.6"/>
<path d="M892.8 400.7 V402.0" stroke="#8f8f9a" stroke-width="0.6"/>
<path d="M898.7 400.7 V402.0" stroke="#8f8f9a" stroke-width="0.6"/>
<path d="M902.7 400.7 V402.0" stroke="#8f8f9a" stroke-width="0.6"/>
<path d="M907.1 400.7 V402.0" stroke="#8f8f9a" stroke-width="0.6"/>
<path d="M912.6 400.7 V402.0" stroke="#8f8f9a" stroke-width="0.6"/>
<path d="M921.5 400.7 V402.0" stroke="#8f8f9a" stroke-width="0.6"/>
<path d="M930.3 400.7 V402.0" stroke="#8f8f9a" stroke-width="0.6"/>
<path d="M793.5 404.9 H810.5" stroke="#a5a5ae" stroke-width="0.8"/>
<circle cx="781.4" cy="395.5" r="0.47" fill="#a35fd0"/>
<circle cx="879.7" cy="396.1" r="0.40" fill="#a35fd0"/>
<circle cx="787.1" cy="396.3" r="0.46" fill="#e2689a"/>
<circle cx="693.2" cy="396.3" r="0.55" fill="#d352b4"/>
<circle cx="816.3" cy="396.1" r="0.53" fill="#e2689a"/>
<circle cx="823.1" cy="396.2" r="0.56" fill="#a35fd0"/>
<circle cx="685.6" cy="396.4" r="0.36" fill="#d352b4"/>
<circle cx="815.3" cy="396.2" r="0.40" fill="#c452c8"/>
<circle cx="827.3" cy="395.8" r="0.46" fill="#e2784e"/>
<circle cx="770.3" cy="396.5" r="0.49" fill="#a35fd0"/>
<circle cx="843.8" cy="396.4" r="0.42" fill="#a35fd0"/>
<circle cx="808.5" cy="396.2" r="0.38" fill="#a35fd0"/>
<circle cx="877.6" cy="395.6" r="0.56" fill="#d352b4"/>
<circle cx="723.1" cy="395.7" r="0.58" fill="#d352b4"/>
<circle cx="910.3" cy="396.3" r="0.51" fill="#e2784e"/>
<circle cx="753.2" cy="396.4" r="0.43" fill="#d352b4"/>
<circle cx="906.3" cy="396.5" r="0.41" fill="#a35fd0"/>
<circle cx="673.7" cy="396.2" r="0.47" fill="#d352b4"/>
<circle cx="714.4" cy="396.0" r="0.40" fill="#e2689a"/>
<circle cx="773.3" cy="396.3" r="0.45" fill="#7d6ad6"/>
<circle cx="773.7" cy="396.4" r="0.59" fill="#e2784e"/>
<circle cx="914.6" cy="396.1" r="0.35" fill="#e2689a"/>
<circle cx="767.3" cy="396.1" r="0.38" fill="#e2689a"/>
<circle cx="723.1" cy="395.9" r="0.41" fill="#f0a03c"/>
<circle cx="873.7" cy="396.3" r="0.40" fill="#c452c8"/>
<circle cx="674.8" cy="396.4" r="0.44" fill="#d352b4"/>
<circle cx="702.1" cy="395.7" r="0.38" fill="#7d6ad6"/>
<circle cx="708.6" cy="396.0" r="0.58" fill="#c452c8"/>
<circle cx="709.7" cy="396.1" r="0.52" fill="#7d6ad6"/>
<circle cx="886.3" cy="396.0" r="0.50" fill="#7d6ad6"/>
<circle cx="682.6" cy="396.0" r="0.41" fill="#7d6ad6"/>
<circle cx="733.7" cy="396.1" r="0.56" fill="#d352b4"/>
<circle cx="742.6" cy="396.1" r="0.37" fill="#c452c8"/>
<circle cx="788.0" cy="395.8" r="0.51" fill="#a35fd0"/>
<circle cx="739.4" cy="396.2" r="0.35" fill="#e2784e"/>
<circle cx="771.4" cy="396.3" r="0.41" fill="#d352b4"/>
<circle cx="714.0" cy="396.1" r="0.38" fill="#f0a03c"/>
<circle cx="704.8" cy="396.0" r="0.46" fill="#f0a03c"/>
<circle cx="831.4" cy="396.3" r="0.39" fill="#d352b4"/>
<circle cx="896.4" cy="395.9" r="0.47" fill="#f0a03c"/>
<circle cx="842.1" cy="396.4" r="0.51" fill="#d352b4"/>
<circle cx="687.4" cy="396.5" r="0.43" fill="#e2689a"/>
<circle cx="914.9" cy="395.9" r="0.53" fill="#e2689a"/>
<circle cx="864.6" cy="396.2" r="0.58" fill="#f0a03c"/>
<circle cx="691.8" cy="396.3" r="0.56" fill="#d352b4"/>
<circle cx="881.8" cy="396.5" r="0.49" fill="#7d6ad6"/>
<circle cx="763.6" cy="396.3" r="0.37" fill="#a35fd0"/>
<circle cx="913.4" cy="396.5" r="0.57" fill="#f0a03c"/>
<circle cx="765.8" cy="396.4" r="0.46" fill="#a35fd0"/>
<circle cx="691.5" cy="395.9" r="0.54" fill="#d352b4"/>
<circle cx="746.7" cy="396.4" r="0.59" fill="#a35fd0"/>
<circle cx="792.4" cy="396.4" r="0.50" fill="#d352b4"/>
<circle cx="733.5" cy="396.1" r="0.52" fill="#c452c8"/>
<circle cx="797.5" cy="396.5" r="0.54" fill="#f0a03c"/>
<circle cx="832.1" cy="395.5" r="0.43" fill="#e2784e"/>
<circle cx="719.5" cy="396.1" r="0.46" fill="#c452c8"/>
<circle cx="885.9" cy="396.0" r="0.43" fill="#e2689a"/>
<circle cx="703.9" cy="396.1" r="0.44" fill="#d352b4"/>
<circle cx="844.6" cy="396.1" r="0.39" fill="#d352b4"/>
<circle cx="897.0" cy="396.4" r="0.56" fill="#7d6ad6"/>
<circle cx="823.7" cy="396.1" r="0.56" fill="#d352b4"/>
<circle cx="873.3" cy="396.5" r="0.42" fill="#d352b4"/>
<circle cx="836.6" cy="396.4" r="0.51" fill="#d352b4"/>
<circle cx="827.5" cy="396.0" r="0.45" fill="#c452c8"/>
<circle cx="677.1" cy="396.3" r="0.39" fill="#d352b4"/>
<circle cx="911.2" cy="396.2" r="0.38" fill="#a35fd0"/>
<circle cx="824.8" cy="396.0" r="0.59" fill="#c452c8"/>
<circle cx="719.7" cy="395.8" r="0.47" fill="#e2689a"/>
<circle cx="845.3" cy="396.5" r="0.36" fill="#c452c8"/>
<circle cx="737.5" cy="395.9" r="0.44" fill="#a35fd0"/>
<circle cx="793.2" cy="396.2" r="0.56" fill="#c452c8"/>
<circle cx="692.3" cy="396.5" r="0.58" fill="#7d6ad6"/>
<circle cx="702.7" cy="395.8" r="0.58" fill="#7d6ad6"/>
<circle cx="830.3" cy="396.3" r="0.48" fill="#f0a03c"/>
<circle cx="830.0" cy="396.3" r="0.55" fill="#a35fd0"/>
<circle cx="723.1" cy="395.7" r="0.57" fill="#a35fd0"/>
<circle cx="909.5" cy="395.7" r="0.43" fill="#d352b4"/>
<circle cx="756.1" cy="396.3" r="0.37" fill="#d352b4"/>
<circle cx="754.5" cy="396.1" r="0.58" fill="#c452c8"/>
<circle cx="868.5" cy="396.3" r="0.37" fill="#d352b4"/>
<circle cx="713.2" cy="396.1" r="0.39" fill="#e2689a"/>
<circle cx="915.0" cy="395.8" r="0.58" fill="#a35fd0"/>
<circle cx="876.0" cy="396.1" r="0.47" fill="#a35fd0"/>
<circle cx="856.0" cy="395.4" r="0.46" fill="#a35fd0"/>
<circle cx="741.8" cy="396.4" r="0.48" fill="#a35fd0"/>
<circle cx="733.6" cy="395.8" r="0.52" fill="#c452c8"/>
<circle cx="745.3" cy="396.1" r="0.42" fill="#d352b4"/>
<circle cx="720.1" cy="396.0" r="0.48" fill="#a35fd0"/>
<circle cx="672.2" cy="396.1" r="0.36" fill="#7d6ad6"/>
<circle cx="912.5" cy="396.1" r="0.38" fill="#a35fd0"/>
<circle cx="839.7" cy="395.9" r="0.45" fill="#7d6ad6"/>
<circle cx="736.7" cy="396.2" r="0.47" fill="#e2689a"/>
<circle cx="753.9" cy="395.6" r="0.58" fill="#a35fd0"/>
<circle cx="821.8" cy="395.8" r="0.58" fill="#e2689a"/>
<circle cx="842.4" cy="396.4" r="0.39" fill="#d352b4"/>
<circle cx="838.7" cy="396.5" r="0.43" fill="#f0a03c"/>
<circle cx="730.7" cy="395.9" r="0.50" fill="#a35fd0"/>
<circle cx="823.2" cy="396.5" r="0.53" fill="#a35fd0"/>
<circle cx="885.5" cy="395.8" r="0.56" fill="#e2689a"/>
<circle cx="802.4" cy="396.4" r="0.57" fill="#a35fd0"/>
<circle cx="826.8" cy="395.6" r="0.50" fill="#e2689a"/>
<circle cx="727.8" cy="396.3" r="0.54" fill="#f0a03c"/>
<circle cx="891.3" cy="396.3" r="0.58" fill="#c452c8"/>
<circle cx="861.0" cy="396.1" r="0.40" fill="#a35fd0"/>
<circle cx="703.7" cy="396.4" r="0.41" fill="#a35fd0"/>
<circle cx="777.1" cy="395.7" r="0.59" fill="#a35fd0"/>
<circle cx="863.8" cy="396.1" r="0.52" fill="#d352b4"/>
<circle cx="694.5" cy="396.1" r="0.49" fill="#f0a03c"/>
<circle cx="893.4" cy="396.3" r="0.48" fill="#f0a03c"/>
<circle cx="793.7" cy="396.4" r="0.52" fill="#c452c8"/>
<circle cx="867.0" cy="396.4" r="0.54" fill="#a35fd0"/>
<circle cx="891.9" cy="396.5" r="0.47" fill="#c452c8"/>
<circle cx="720.8" cy="395.7" r="0.58" fill="#a35fd0"/>
<circle cx="812.5" cy="395.2" r="0.38" fill="#d352b4"/>
<circle cx="690.0" cy="396.1" r="0.46" fill="#f0a03c"/>
<circle cx="776.0" cy="396.2" r="0.50" fill="#d352b4"/>
<circle cx="825.8" cy="396.2" r="0.45" fill="#f0a03c"/>
<circle cx="769.9" cy="396.4" r="0.40" fill="#e2689a"/>
<circle cx="694.2" cy="396.4" r="0.37" fill="#7d6ad6"/>
<circle cx="810.1" cy="396.1" r="0.40" fill="#f0a03c"/>
<circle cx="867.4" cy="396.4" r="0.54" fill="#e2689a"/>
<circle cx="869.8" cy="395.4" r="0.45" fill="#f0a03c"/>
<circle cx="885.8" cy="396.2" r="0.54" fill="#7d6ad6"/>
<circle cx="721.5" cy="395.7" r="0.40" fill="#f0a03c"/>
<circle cx="744.7" cy="395.7" r="0.60" fill="#d352b4"/>
<circle cx="727.7" cy="395.9" r="0.59" fill="#e2784e"/>
<circle cx="753.5" cy="396.2" r="0.48" fill="#7d6ad6"/>
<circle cx="796.6" cy="396.0" r="0.47" fill="#c452c8"/>
<circle cx="842.2" cy="396.4" r="0.36" fill="#a35fd0"/>
<circle cx="733.7" cy="395.1" r="0.45" fill="#d352b4"/>
<circle cx="856.8" cy="396.4" r="0.41" fill="#e2784e"/>
<circle cx="892.0" cy="396.4" r="0.49" fill="#a35fd0"/>
<circle cx="772.5" cy="395.6" r="0.37" fill="#d352b4"/>
<circle cx="868.6" cy="396.4" r="0.37" fill="#d352b4"/>
<circle cx="765.3" cy="396.0" r="0.59" fill="#d352b4"/>
<circle cx="803.3" cy="396.3" r="0.50" fill="#7d6ad6"/>
<circle cx="901.7" cy="396.0" r="0.50" fill="#f0a03c"/>
<circle cx="800.5" cy="396.2" r="0.47" fill="#e2784e"/>
<circle cx="807.9" cy="396.3" r="0.42" fill="#d352b4"/>
<circle cx="859.6" cy="395.7" r="0.50" fill="#e2689a"/>
<circle cx="770.8" cy="396.4" r="0.43" fill="#7d6ad6"/>
<circle cx="683.3" cy="396.3" r="0.60" fill="#f0a03c"/>
<circle cx="689.0" cy="396.1" r="0.47" fill="#c452c8"/>
<circle cx="682.1" cy="396.2" r="0.37" fill="#d352b4"/>
<circle cx="706.3" cy="396.1" r="0.53" fill="#d352b4"/>
<circle cx="823.4" cy="396.4" r="0.46" fill="#c452c8"/>
<circle cx="881.2" cy="396.3" r="0.44" fill="#e2689a"/>
<circle cx="834.0" cy="396.3" r="0.46" fill="#e2784e"/>
<circle cx="827.1" cy="396.3" r="0.54" fill="#e2689a"/>
<circle cx="903.5" cy="396.1" r="0.53" fill="#c452c8"/>
<circle cx="788.4" cy="396.1" r="0.48" fill="#f0a03c"/>
<circle cx="738.1" cy="396.5" r="0.50" fill="#c452c8"/>
<circle cx="825.5" cy="396.5" r="0.41" fill="#c452c8"/>
<circle cx="885.5" cy="396.2" r="0.36" fill="#d352b4"/>
<circle cx="673.3" cy="396.5" r="0.36" fill="#c452c8"/>
<circle cx="803.2" cy="396.4" r="0.37" fill="#a35fd0"/>
<circle cx="893.8" cy="396.3" r="0.60" fill="#d352b4"/>
<circle cx="787.8" cy="396.2" r="0.40" fill="#f0a03c"/>
<circle cx="791.7" cy="395.8" r="0.55" fill="#d352b4"/>
<circle cx="868.5" cy="395.8" r="0.51" fill="#c452c8"/>
<circle cx="779.5" cy="396.5" r="0.39" fill="#e2689a"/>
<circle cx="830.6" cy="396.0" r="0.60" fill="#f0a03c"/>
<circle cx="742.0" cy="396.4" r="0.40" fill="#f0a03c"/>
<circle cx="812.7" cy="395.6" r="0.47" fill="#f0a03c"/>
<circle cx="690.2" cy="395.9" r="0.47" fill="#d352b4"/>
<circle cx="744.0" cy="396.2" r="0.54" fill="#a35fd0"/>
<circle cx="746.7" cy="395.9" r="0.52" fill="#d352b4"/>
<circle cx="848.0" cy="396.1" r="0.52" fill="#e2784e"/>
<circle cx="886.2" cy="396.4" r="0.43" fill="#a35fd0"/>
<circle cx="778.7" cy="395.8" r="0.50" fill="#e2784e"/>
<circle cx="777.9" cy="396.4" r="0.43" fill="#7d6ad6"/>
<circle cx="907.2" cy="396.1" r="0.53" fill="#a35fd0"/>
<circle cx="731.6" cy="396.2" r="0.44" fill="#7d6ad6"/>
<circle cx="813.8" cy="396.1" r="0.55" fill="#f0a03c"/>
<circle cx="865.6" cy="395.6" r="0.49" fill="#e2689a"/>
<circle cx="692.9" cy="396.3" r="0.46" fill="#e2784e"/>
<circle cx="869.2" cy="396.5" r="0.39" fill="#e2784e"/>
<circle cx="906.9" cy="396.3" r="0.51" fill="#7d6ad6"/>
<circle cx="686.7" cy="395.7" r="0.37" fill="#a35fd0"/>
<circle cx="737.8" cy="396.2" r="0.38" fill="#f0a03c"/>
<circle cx="691.7" cy="396.3" r="0.54" fill="#7d6ad6"/>
<circle cx="730.9" cy="396.3" r="0.41" fill="#a35fd0"/>
<circle cx="753.6" cy="396.1" r="0.55" fill="#f0a03c"/>
<circle cx="835.1" cy="396.4" r="0.47" fill="#a35fd0"/>
<circle cx="867.4" cy="395.9" r="0.36" fill="#f0a03c"/>
<circle cx="879.3" cy="396.2" r="0.55" fill="#a35fd0"/>
<circle cx="887.9" cy="395.8" r="0.48" fill="#d352b4"/>
<circle cx="866.8" cy="396.3" r="0.46" fill="#7d6ad6"/>
<circle cx="894.5" cy="396.5" r="0.51" fill="#e2689a"/>
<circle cx="766.0" cy="396.2" r="0.48" fill="#e2784e"/>
<circle cx="907.7" cy="396.1" r="0.38" fill="#e2689a"/>
<circle cx="860.4" cy="396.3" r="0.39" fill="#d352b4"/>
<circle cx="854.8" cy="395.9" r="0.55" fill="#f0a03c"/>
<circle cx="697.6" cy="396.4" r="0.40" fill="#c452c8"/>
<circle cx="814.6" cy="396.0" r="0.48" fill="#d352b4"/>
<circle cx="739.6" cy="396.2" r="0.39" fill="#e2784e"/>
<circle cx="824.0" cy="395.9" r="0.56" fill="#d352b4"/>
<circle cx="887.6" cy="396.3" r="0.58" fill="#f0a03c"/>
<circle cx="832.2" cy="396.5" r="0.57" fill="#7d6ad6"/>
<circle cx="683.2" cy="396.3" r="0.59" fill="#7d6ad6"/>
<circle cx="909.2" cy="396.3" r="0.55" fill="#d352b4"/>
<circle cx="831.5" cy="395.7" r="0.41" fill="#d352b4"/>
<circle cx="884.3" cy="396.1" r="0.41" fill="#7d6ad6"/>
<circle cx="818.9" cy="396.2" r="0.39" fill="#e2689a"/>
<circle cx="859.4" cy="395.8" r="0.55" fill="#e2689a"/>
<circle cx="826.5" cy="395.7" r="0.60" fill="#e2784e"/>
<circle cx="796.9" cy="395.9" r="0.39" fill="#c452c8"/>
<circle cx="871.5" cy="396.3" r="0.56" fill="#e2689a"/>
<circle cx="691.1" cy="396.4" r="0.37" fill="#d352b4"/>
<circle cx="840.3" cy="395.7" r="0.37" fill="#a35fd0"/>
<circle cx="880.3" cy="396.2" r="0.45" fill="#a35fd0"/>
<circle cx="861.7" cy="395.7" r="0.46" fill="#d352b4"/>
<circle cx="799.3" cy="396.0" r="0.43" fill="#e2784e"/>
<circle cx="770.0" cy="395.7" r="0.49" fill="#d352b4"/>
<circle cx="833.8" cy="396.3" r="0.39" fill="#7d6ad6"/>
<circle cx="836.0" cy="396.4" r="0.54" fill="#a35fd0"/>
<circle cx="830.6" cy="396.0" r="0.53" fill="#c452c8"/>
<circle cx="742.7" cy="396.5" r="0.38" fill="#d352b4"/>
<circle cx="879.9" cy="396.1" r="0.58" fill="#e2689a"/>
<circle cx="741.9" cy="395.9" r="0.44" fill="#a35fd0"/>
<circle cx="854.0" cy="395.7" r="0.49" fill="#a35fd0"/>
<circle cx="733.6" cy="396.3" r="0.40" fill="#a35fd0"/>
<circle cx="751.4" cy="395.9" r="0.53" fill="#f0a03c"/>
<circle cx="780.1" cy="396.3" r="0.45" fill="#a35fd0"/>
<circle cx="705.4" cy="395.9" r="0.53" fill="#e2689a"/>
<circle cx="718.2" cy="396.1" r="0.36" fill="#d352b4"/>
<circle cx="815.7" cy="396.2" r="0.39" fill="#a35fd0"/>
<circle cx="776.9" cy="396.3" r="0.54" fill="#f0a03c"/>
<circle cx="895.7" cy="396.0" r="0.51" fill="#e2689a"/>
<circle cx="871.4" cy="396.2" r="0.45" fill="#f0a03c"/>
<circle cx="895.9" cy="395.9" r="0.50" fill="#f0a03c"/>
<circle cx="910.7" cy="395.9" r="0.55" fill="#a35fd0"/>
<circle cx="675.6" cy="396.3" r="0.51" fill="#a35fd0"/>
<circle cx="721.0" cy="396.1" r="0.43" fill="#e2784e"/>
<circle cx="872.4" cy="396.3" r="0.54" fill="#e2784e"/>
<circle cx="757.1" cy="396.3" r="0.48" fill="#e2689a"/>
<circle cx="811.2" cy="396.1" r="0.60" fill="#c452c8"/>
<circle cx="809.5" cy="395.4" r="0.36" fill="#c452c8"/>
<circle cx="860.6" cy="396.1" r="0.45" fill="#f0a03c"/>
<circle cx="751.4" cy="396.1" r="0.58" fill="#f0a03c"/>
<circle cx="736.6" cy="393.5" r="0.43" fill="#e2689a"/>
<circle cx="737.1" cy="395.8" r="0.67" fill="#f0a03c"/>
<circle cx="738.2" cy="393.5" r="0.80" fill="#e2689a"/>
<circle cx="736.5" cy="393.4" r="0.67" fill="#e2689a"/>
<circle cx="737.0" cy="394.1" r="0.75" fill="#e2689a"/>
<circle cx="740.7" cy="392.8" r="0.74" fill="#e2689a"/>
<circle cx="738.0" cy="392.3" r="0.47" fill="#d352b4"/>
<circle cx="736.2" cy="396.2" r="0.45" fill="#e2689a"/>
<circle cx="735.5" cy="395.3" r="0.51" fill="#e2689a"/>
<circle cx="736.8" cy="396.2" r="0.58" fill="#e2689a"/>
<circle cx="735.9" cy="396.5" r="0.80" fill="#e2689a"/>
<circle cx="737.9" cy="394.9" r="0.53" fill="#e2689a"/>
<circle cx="737.5" cy="394.8" r="0.77" fill="#7d6ad6"/>
<circle cx="736.9" cy="395.7" r="0.64" fill="#f0a03c"/>
<circle cx="733.9" cy="394.4" r="0.42" fill="#e2689a"/>
<circle cx="736.0" cy="391.5" r="0.74" fill="#f0a03c"/>
<circle cx="735.9" cy="393.5" r="0.46" fill="#e2689a"/>
<circle cx="735.0" cy="395.6" r="0.42" fill="#e2689a"/>
<circle cx="735.9" cy="393.8" r="0.54" fill="#e2689a"/>
<circle cx="735.7" cy="395.4" r="0.81" fill="#e2689a"/>
<circle cx="906.0" cy="393.5" r="0.81" fill="#e2689a"/>
<circle cx="907.1" cy="394.6" r="0.64" fill="#e2689a"/>
<circle cx="905.7" cy="396.5" r="0.53" fill="#e2689a"/>
<circle cx="905.5" cy="395.9" r="0.58" fill="#a35fd0"/>
<circle cx="904.8" cy="394.6" r="0.41" fill="#e2689a"/>
<circle cx="906.4" cy="395.6" r="0.82" fill="#e2689a"/>
<circle cx="906.8" cy="396.2" r="0.53" fill="#e2689a"/>
<circle cx="907.6" cy="394.7" r="0.78" fill="#e2689a"/>
<circle cx="904.9" cy="394.9" r="0.80" fill="#e2689a"/>
<circle cx="906.3" cy="396.5" r="0.83" fill="#c452c8"/>
<circle cx="907.1" cy="396.1" r="0.77" fill="#e2689a"/>
<circle cx="906.5" cy="396.1" r="0.80" fill="#e2689a"/>
<circle cx="904.3" cy="392.6" r="0.44" fill="#7d6ad6"/>
<circle cx="905.8" cy="395.0" r="0.52" fill="#c452c8"/>
<circle cx="845.3" cy="395.3" r="0.50" fill="#a35fd0"/>
<circle cx="845.5" cy="394.0" r="0.46" fill="#e2784e"/>
<circle cx="845.7" cy="395.4" r="0.81" fill="#e2784e"/>
<circle cx="847.8" cy="395.4" r="0.66" fill="#e2784e"/>
<circle cx="845.3" cy="396.2" r="0.47" fill="#e2784e"/>
<circle cx="846.7" cy="396.4" r="0.73" fill="#e2784e"/>
<circle cx="847.6" cy="396.1" r="0.80" fill="#e2784e"/>
<circle cx="844.8" cy="394.7" r="0.40" fill="#e2784e"/>
<circle cx="846.4" cy="396.2" r="0.75" fill="#e2784e"/>
<circle cx="891.2" cy="396.2" r="0.73" fill="#a35fd0"/>
<circle cx="891.1" cy="395.9" r="0.67" fill="#a35fd0"/>
<circle cx="892.0" cy="394.0" r="0.52" fill="#c452c8"/>
<circle cx="890.7" cy="395.2" r="0.42" fill="#e2784e"/>
<circle cx="891.1" cy="394.4" r="0.79" fill="#d352b4"/>
<circle cx="892.1" cy="395.3" r="0.62" fill="#d352b4"/>
<circle cx="891.3" cy="395.5" r="0.76" fill="#d352b4"/>
<circle cx="893.2" cy="394.2" r="0.64" fill="#d352b4"/>
<circle cx="892.1" cy="394.8" r="0.54" fill="#d352b4"/>
<circle cx="892.5" cy="396.0" r="0.75" fill="#a35fd0"/>
<circle cx="892.0" cy="393.8" r="0.48" fill="#a35fd0"/>
<circle cx="891.9" cy="395.1" r="0.43" fill="#d352b4"/>
<circle cx="772.2" cy="395.4" r="0.47" fill="#e2689a"/>
<circle cx="770.2" cy="396.1" r="0.51" fill="#d352b4"/>
<circle cx="771.6" cy="396.2" r="0.53" fill="#d352b4"/>
<circle cx="771.1" cy="396.3" r="0.85" fill="#d352b4"/>
<circle cx="771.4" cy="395.0" r="0.51" fill="#d352b4"/>
<circle cx="770.9" cy="396.3" r="0.82" fill="#d352b4"/>
<circle cx="770.9" cy="395.9" r="0.42" fill="#c452c8"/>
<circle cx="767.5" cy="396.0" r="0.61" fill="#e2689a"/>
<circle cx="768.0" cy="395.9" r="0.75" fill="#f0a03c"/>
<circle cx="769.7" cy="396.0" r="0.65" fill="#f0a03c"/>
<circle cx="769.9" cy="396.2" r="0.61" fill="#f0a03c"/>
<circle cx="769.1" cy="396.0" r="0.79" fill="#e2689a"/>
<circle cx="769.8" cy="396.0" r="0.71" fill="#f0a03c"/>
<circle cx="760.0" cy="396.1" r="0.82" fill="#a35fd0"/>
<circle cx="759.7" cy="396.1" r="0.47" fill="#a35fd0"/>
<circle cx="760.3" cy="396.3" r="0.41" fill="#a35fd0"/>
<circle cx="759.5" cy="396.0" r="0.80" fill="#a35fd0"/>
<circle cx="759.3" cy="395.7" r="0.42" fill="#a35fd0"/>
<circle cx="767.8" cy="395.9" r="0.54" fill="#c452c8"/>
<circle cx="766.7" cy="396.2" r="0.72" fill="#c452c8"/>
<circle cx="767.3" cy="395.7" r="0.80" fill="#e2689a"/>
<circle cx="767.7" cy="395.9" r="0.46" fill="#c452c8"/>
<circle cx="766.8" cy="396.4" r="0.57" fill="#c452c8"/>
<circle cx="819.1" cy="396.1" r="0.70" fill="#e2784e"/>
<circle cx="820.7" cy="396.1" r="0.56" fill="#d352b4"/>
<circle cx="820.4" cy="395.9" r="0.75" fill="#d352b4"/>
<circle cx="819.8" cy="395.6" r="0.62" fill="#d352b4"/>
<circle cx="818.8" cy="396.4" r="0.72" fill="#d352b4"/>
<circle cx="725.8" cy="395.7" r="0.44" fill="#a35fd0"/>
<circle cx="724.9" cy="395.7" r="0.66" fill="#d352b4"/>
<circle cx="725.2" cy="395.4" r="0.81" fill="#d352b4"/>
<circle cx="727.8" cy="395.1" r="0.42" fill="#e2784e"/>
<circle cx="723.9" cy="396.5" r="0.55" fill="#d352b4"/>
<circle cx="725.7" cy="396.3" r="0.80" fill="#d352b4"/>
<circle cx="724.7" cy="396.2" r="0.69" fill="#e2689a"/>
<circle cx="724.8" cy="395.9" r="0.66" fill="#d352b4"/>
<circle cx="727.8" cy="395.9" r="0.58" fill="#a35fd0"/>
<circle cx="724.8" cy="396.1" r="0.57" fill="#d352b4"/>
<circle cx="891.9" cy="395.6" r="0.41" fill="#a35fd0"/>
<circle cx="891.7" cy="396.1" r="0.50" fill="#a35fd0"/>
<circle cx="891.1" cy="396.3" r="0.51" fill="#d352b4"/>
<circle cx="891.4" cy="396.4" r="0.68" fill="#a35fd0"/>
<circle cx="891.3" cy="395.9" r="0.52" fill="#f0a03c"/>
<circle cx="696.9" cy="394.3" r="0.55" fill="#e2689a"/>
<circle cx="697.0" cy="395.0" r="0.59" fill="#7d6ad6"/>
<circle cx="696.9" cy="395.5" r="0.69" fill="#7d6ad6"/>
<circle cx="696.9" cy="395.4" r="0.79" fill="#e2689a"/>
<circle cx="697.8" cy="396.4" r="0.45" fill="#e2784e"/>
<circle cx="782.5" cy="392.5" r="0.56" fill="#d352b4"/>
<circle cx="779.7" cy="394.2" r="0.72" fill="#e2784e"/>
<circle cx="781.2" cy="392.8" r="0.55" fill="#d352b4"/>
<circle cx="781.4" cy="392.0" r="0.69" fill="#7d6ad6"/>
<circle cx="782.6" cy="393.8" r="0.47" fill="#d352b4"/>
<circle cx="781.7" cy="393.4" r="0.69" fill="#d352b4"/>
<circle cx="782.5" cy="396.1" r="0.52" fill="#e2689a"/>
<circle cx="781.1" cy="394.7" r="0.82" fill="#7d6ad6"/>
<circle cx="781.6" cy="396.4" r="0.79" fill="#a35fd0"/>
<circle cx="781.6" cy="394.4" r="0.76" fill="#d352b4"/>
<circle cx="779.2" cy="393.6" r="0.48" fill="#d352b4"/>
<circle cx="782.4" cy="395.5" r="0.50" fill="#e2784e"/>
<circle cx="781.0" cy="394.1" r="0.66" fill="#d352b4"/>
<circle cx="780.9" cy="395.0" r="0.79" fill="#d352b4"/>
<circle cx="779.2" cy="394.9" r="0.80" fill="#d352b4"/>
<circle cx="782.1" cy="394.8" r="0.80" fill="#d352b4"/>
<circle cx="781.1" cy="393.5" r="0.58" fill="#d352b4"/>
<circle cx="781.0" cy="395.6" r="0.65" fill="#d352b4"/>
<circle cx="709.0" cy="396.5" r="0.76" fill="#a35fd0"/>
<circle cx="709.1" cy="396.4" r="0.56" fill="#a35fd0"/>
<circle cx="708.4" cy="395.9" r="0.68" fill="#a35fd0"/>
<circle cx="708.9" cy="395.7" r="0.53" fill="#a35fd0"/>
<circle cx="708.8" cy="394.4" r="0.82" fill="#a35fd0"/>
<circle cx="683.9" cy="396.3" r="0.74" fill="#a35fd0"/>
<circle cx="682.9" cy="395.6" r="0.49" fill="#a35fd0"/>
<circle cx="683.7" cy="396.5" r="0.76" fill="#a35fd0"/>
<circle cx="684.0" cy="395.3" r="0.76" fill="#a35fd0"/>
<circle cx="684.5" cy="395.3" r="0.82" fill="#a35fd0"/>
<circle cx="681.1" cy="396.3" r="0.80" fill="#a35fd0"/>
<circle cx="683.4" cy="396.4" r="0.55" fill="#a35fd0"/>
<circle cx="683.3" cy="395.6" r="0.85" fill="#a35fd0"/>
<circle cx="682.5" cy="395.9" r="0.43" fill="#a35fd0"/>
<circle cx="830.1" cy="395.8" r="0.46" fill="#f0a03c"/>
<circle cx="829.8" cy="395.7" r="0.47" fill="#f0a03c"/>
<circle cx="829.6" cy="396.0" r="0.58" fill="#f0a03c"/>
<circle cx="830.4" cy="396.3" r="0.41" fill="#c452c8"/>
<circle cx="830.2" cy="396.1" r="0.66" fill="#f0a03c"/>
<circle cx="829.5" cy="395.3" r="0.58" fill="#d352b4"/>
<circle cx="829.8" cy="395.8" r="0.70" fill="#f0a03c"/>
<circle cx="830.8" cy="396.2" r="0.56" fill="#f0a03c"/>
<circle cx="830.5" cy="396.4" r="0.81" fill="#7d6ad6"/>
<circle cx="831.2" cy="395.9" r="0.60" fill="#f0a03c"/>
<circle cx="845.4" cy="395.6" r="0.70" fill="#a35fd0"/>
<circle cx="844.1" cy="396.2" r="0.67" fill="#a35fd0"/>
<circle cx="843.9" cy="396.1" r="0.68" fill="#a35fd0"/>
<circle cx="843.8" cy="396.2" r="0.82" fill="#a35fd0"/>
<circle cx="845.3" cy="395.9" r="0.48" fill="#f0a03c"/>
<circle cx="843.8" cy="396.3" r="0.84" fill="#a35fd0"/>
<circle cx="855.2" cy="395.1" r="0.77" fill="#e2689a"/>
<circle cx="854.5" cy="395.7" r="0.48" fill="#a35fd0"/>
<circle cx="855.2" cy="396.4" r="0.56" fill="#c452c8"/>
<circle cx="854.1" cy="396.4" r="0.62" fill="#c452c8"/>
<circle cx="855.0" cy="396.4" r="0.60" fill="#c452c8"/>
<circle cx="854.2" cy="395.2" r="0.62" fill="#c452c8"/>
<circle cx="856.5" cy="396.0" r="0.76" fill="#a35fd0"/>
<circle cx="854.7" cy="396.0" r="0.42" fill="#c452c8"/>
<circle cx="754.2" cy="395.7" r="0.71" fill="#a35fd0"/>
<circle cx="754.3" cy="396.2" r="0.69" fill="#a35fd0"/>
<circle cx="754.6" cy="396.3" r="0.65" fill="#c452c8"/>
<circle cx="756.9" cy="396.5" r="0.78" fill="#f0a03c"/>
<circle cx="757.4" cy="395.9" r="0.49" fill="#a35fd0"/>
<circle cx="755.8" cy="395.8" r="0.42" fill="#a35fd0"/>
<circle cx="755.5" cy="395.6" r="0.68" fill="#a35fd0"/>
<circle cx="755.6" cy="396.4" r="0.49" fill="#a35fd0"/>
<circle cx="755.2" cy="394.2" r="0.47" fill="#c452c8"/>
<circle cx="754.8" cy="395.6" r="0.53" fill="#7d6ad6"/>
<circle cx="756.1" cy="396.0" r="0.63" fill="#a35fd0"/>
<circle cx="754.4" cy="395.8" r="0.46" fill="#a35fd0"/>
<circle cx="884.2" cy="395.8" r="0.59" fill="#d352b4"/>
<circle cx="884.3" cy="395.6" r="0.55" fill="#d352b4"/>
<circle cx="882.3" cy="396.0" r="0.70" fill="#d352b4"/>
<circle cx="885.8" cy="396.4" r="0.57" fill="#d352b4"/>
<circle cx="881.7" cy="395.8" r="0.53" fill="#d352b4"/>
<circle cx="886.2" cy="395.7" r="0.65" fill="#a35fd0"/>
<circle cx="886.3" cy="395.7" r="0.56" fill="#d352b4"/>
<circle cx="882.5" cy="395.8" r="0.85" fill="#f0a03c"/>
<circle cx="869.9" cy="396.3" r="0.62" fill="#d352b4"/>
<circle cx="869.0" cy="396.3" r="0.41" fill="#d352b4"/>
<circle cx="869.6" cy="395.7" r="0.64" fill="#d352b4"/>
<circle cx="869.6" cy="396.3" r="0.76" fill="#7d6ad6"/>
<circle cx="870.6" cy="396.1" r="0.62" fill="#d352b4"/>
<circle cx="870.0" cy="395.7" r="0.76" fill="#d352b4"/>
<circle cx="872.4" cy="396.4" r="0.70" fill="#e2784e"/>
<circle cx="870.6" cy="396.3" r="0.61" fill="#7d6ad6"/>
<circle cx="871.7" cy="396.3" r="0.45" fill="#d352b4"/>
<circle cx="771.6" cy="395.8" r="0.66" fill="#a35fd0"/>
<circle cx="772.2" cy="396.3" r="0.53" fill="#a35fd0"/>
<circle cx="772.0" cy="396.0" r="0.42" fill="#a35fd0"/>
<circle cx="772.1" cy="395.8" r="0.61" fill="#a35fd0"/>
<circle cx="772.2" cy="396.2" r="0.46" fill="#e2689a"/>
<circle cx="771.4" cy="396.3" r="0.59" fill="#a35fd0"/>
<circle cx="772.4" cy="396.5" r="0.47" fill="#7d6ad6"/>
<circle cx="800.2" cy="394.9" r="0.58" fill="#d352b4"/>
<circle cx="800.4" cy="396.1" r="0.70" fill="#d352b4"/>
<circle cx="799.8" cy="395.8" r="0.85" fill="#d352b4"/>
<circle cx="800.3" cy="396.4" r="0.58" fill="#a35fd0"/>
<circle cx="800.3" cy="395.5" r="0.57" fill="#d352b4"/>
<circle cx="775.6" cy="395.9" r="0.64" fill="#7d6ad6"/>
<circle cx="776.3" cy="395.3" r="0.77" fill="#7d6ad6"/>
<circle cx="775.3" cy="394.5" r="0.56" fill="#7d6ad6"/>
<circle cx="776.8" cy="396.0" r="0.73" fill="#7d6ad6"/>
<circle cx="775.1" cy="395.1" r="0.71" fill="#7d6ad6"/>
<circle cx="775.5" cy="395.7" r="0.78" fill="#f0a03c"/>
<circle cx="776.2" cy="394.1" r="0.48" fill="#7d6ad6"/>
<circle cx="776.9" cy="394.9" r="0.79" fill="#7d6ad6"/>
<circle cx="776.1" cy="394.6" r="0.69" fill="#7d6ad6"/>
<circle cx="775.6" cy="396.0" r="0.44" fill="#7d6ad6"/>
<circle cx="768.3" cy="396.4" r="0.53" fill="#f0a03c"/>
<circle cx="767.5" cy="391.9" r="0.58" fill="#f0a03c"/>
<circle cx="768.2" cy="396.2" r="0.72" fill="#f0a03c"/>
<circle cx="767.4" cy="395.3" r="0.65" fill="#f0a03c"/>
<circle cx="768.3" cy="395.3" r="0.68" fill="#f0a03c"/>
<circle cx="768.9" cy="395.4" r="0.44" fill="#f0a03c"/>
<circle cx="767.9" cy="395.9" r="0.76" fill="#7d6ad6"/>
<circle cx="780.8" cy="396.3" r="0.72" fill="#a35fd0"/>
<circle cx="778.1" cy="395.9" r="0.82" fill="#a35fd0"/>
<circle cx="780.0" cy="395.8" r="0.78" fill="#a35fd0"/>
<circle cx="781.5" cy="395.6" r="0.41" fill="#a35fd0"/>
<circle cx="778.5" cy="396.2" r="0.62" fill="#d352b4"/>
<circle cx="779.2" cy="395.9" r="0.65" fill="#a35fd0"/>
<circle cx="781.0" cy="395.6" r="0.41" fill="#a35fd0"/>
<circle cx="780.5" cy="395.6" r="0.76" fill="#a35fd0"/>
<circle cx="837.4" cy="395.2" r="0.55" fill="#7d6ad6"/>
<circle cx="837.1" cy="394.9" r="0.73" fill="#f0a03c"/>
<circle cx="836.8" cy="395.7" r="0.77" fill="#f0a03c"/>
<circle cx="836.4" cy="393.9" r="0.68" fill="#f0a03c"/>
<circle cx="835.3" cy="394.2" r="0.57" fill="#d352b4"/>
<circle cx="837.7" cy="395.5" r="0.63" fill="#e2784e"/>
<circle cx="838.8" cy="390.5" r="0.47" fill="#f0a03c"/>
<circle cx="836.4" cy="396.3" r="0.84" fill="#f0a03c"/>
<circle cx="836.9" cy="394.9" r="0.47" fill="#f0a03c"/>
<circle cx="838.9" cy="396.1" r="0.45" fill="#f0a03c"/>
<circle cx="837.4" cy="393.4" r="0.71" fill="#f0a03c"/>
<circle cx="836.0" cy="392.2" r="0.67" fill="#e2784e"/>
<circle cx="838.4" cy="390.7" r="0.56" fill="#f0a03c"/>
<circle cx="838.1" cy="392.2" r="0.51" fill="#e2784e"/>
<circle cx="703.8" cy="395.6" r="0.79" fill="#d352b4"/>
<circle cx="704.8" cy="394.5" r="0.64" fill="#a35fd0"/>
<circle cx="703.8" cy="395.1" r="0.54" fill="#e2784e"/>
<circle cx="702.6" cy="395.6" r="0.51" fill="#a35fd0"/>
<circle cx="703.2" cy="396.2" r="0.52" fill="#a35fd0"/>
<circle cx="703.7" cy="394.1" r="0.65" fill="#d352b4"/>
<circle cx="702.2" cy="395.3" r="0.81" fill="#e2784e"/>
<circle cx="704.8" cy="395.6" r="0.84" fill="#d352b4"/>
<circle cx="703.3" cy="394.3" r="0.70" fill="#d352b4"/>
<circle cx="688.2" cy="396.3" r="0.64" fill="#a35fd0"/>
<circle cx="688.3" cy="395.8" r="0.72" fill="#a35fd0"/>
<circle cx="688.2" cy="396.0" r="0.62" fill="#a35fd0"/>
<circle cx="687.7" cy="395.8" r="0.46" fill="#a35fd0"/>
<circle cx="688.4" cy="395.8" r="0.84" fill="#e2689a"/>
<circle cx="899.8" cy="394.4" r="0.82" fill="#f0a03c"/>
<circle cx="903.0" cy="395.4" r="0.45" fill="#d352b4"/>
<circle cx="901.3" cy="395.0" r="0.41" fill="#7d6ad6"/>
<circle cx="902.6" cy="394.1" r="0.66" fill="#d352b4"/>
<circle cx="901.8" cy="393.2" r="0.43" fill="#d352b4"/>
<circle cx="902.6" cy="391.7" r="0.56" fill="#7d6ad6"/>
<circle cx="901.9" cy="394.7" r="0.52" fill="#c452c8"/>
<circle cx="900.3" cy="395.4" r="0.70" fill="#d352b4"/>
<circle cx="900.7" cy="396.1" r="0.49" fill="#e2689a"/>
<circle cx="902.0" cy="394.6" r="0.81" fill="#d352b4"/>
<circle cx="902.4" cy="394.0" r="0.66" fill="#a35fd0"/>
<circle cx="901.4" cy="396.3" r="0.43" fill="#d352b4"/>
<circle cx="899.5" cy="396.3" r="0.42" fill="#d352b4"/>
<circle cx="901.7" cy="395.7" r="0.51" fill="#a35fd0"/>
<circle cx="901.9" cy="394.7" r="0.70" fill="#f0a03c"/>
<circle cx="902.1" cy="396.2" r="0.59" fill="#e2689a"/>
<circle cx="901.2" cy="395.3" r="0.57" fill="#c452c8"/>
<circle cx="743.6" cy="396.3" r="0.41" fill="#d352b4"/>
<circle cx="742.5" cy="396.3" r="0.43" fill="#d352b4"/>
<circle cx="742.1" cy="395.9" r="0.54" fill="#d352b4"/>
<circle cx="741.8" cy="396.2" r="0.83" fill="#f0a03c"/>
<circle cx="741.7" cy="396.2" r="0.57" fill="#d352b4"/>
<circle cx="741.2" cy="395.0" r="0.79" fill="#d352b4"/>
<circle cx="743.0" cy="396.4" r="0.54" fill="#a35fd0"/>
<circle cx="701.8" cy="395.5" r="0.43" fill="#d352b4"/>
<circle cx="701.3" cy="392.8" r="0.48" fill="#a35fd0"/>
<circle cx="703.0" cy="395.8" r="0.62" fill="#a35fd0"/>
<circle cx="702.7" cy="394.5" r="0.85" fill="#a35fd0"/>
<circle cx="701.6" cy="396.4" r="0.61" fill="#a35fd0"/>
<circle cx="701.4" cy="394.2" r="0.64" fill="#a35fd0"/>
<circle cx="701.7" cy="395.8" r="0.77" fill="#a35fd0"/>
<circle cx="702.0" cy="396.4" r="0.83" fill="#a35fd0"/>
<circle cx="701.6" cy="395.9" r="0.55" fill="#a35fd0"/>
<circle cx="703.0" cy="391.1" r="0.78" fill="#a35fd0"/>
<circle cx="700.6" cy="395.1" r="0.73" fill="#a35fd0"/>
<circle cx="702.0" cy="395.4" r="0.68" fill="#a35fd0"/>
<circle cx="700.7" cy="395.2" r="0.83" fill="#a35fd0"/>
<circle cx="700.5" cy="396.3" r="0.61" fill="#e2689a"/>
<circle cx="700.0" cy="394.5" r="0.51" fill="#f0a03c"/>
<circle cx="812.7" cy="394.9" r="0.62" fill="#e2784e"/>
<circle cx="813.7" cy="395.0" r="0.71" fill="#7d6ad6"/>
<circle cx="812.9" cy="395.3" r="0.78" fill="#e2784e"/>
<circle cx="813.0" cy="396.3" r="0.69" fill="#e2784e"/>
<circle cx="813.4" cy="396.2" r="0.64" fill="#e2784e"/>
<circle cx="813.5" cy="396.1" r="0.66" fill="#e2784e"/>
<circle cx="813.0" cy="396.2" r="0.68" fill="#e2784e"/>
<circle cx="696.1" cy="396.5" r="0.78" fill="#a35fd0"/>
<circle cx="696.2" cy="396.5" r="0.50" fill="#a35fd0"/>
<circle cx="697.5" cy="395.7" r="0.71" fill="#e2689a"/>
<circle cx="697.2" cy="395.7" r="0.45" fill="#e2689a"/>
<circle cx="695.8" cy="396.4" r="0.76" fill="#a35fd0"/>
<circle cx="904.5" cy="395.1" r="0.70" fill="#7d6ad6"/>
<circle cx="905.4" cy="392.3" r="0.51" fill="#e2784e"/>
<circle cx="901.8" cy="393.9" r="0.72" fill="#7d6ad6"/>
<circle cx="902.1" cy="393.4" r="0.79" fill="#7d6ad6"/>
<circle cx="903.4" cy="392.4" r="0.82" fill="#e2784e"/>
<circle cx="902.4" cy="394.4" r="0.56" fill="#7d6ad6"/>
<circle cx="903.8" cy="396.3" r="0.50" fill="#c452c8"/>
<circle cx="902.8" cy="395.7" r="0.59" fill="#7d6ad6"/>
<circle cx="901.6" cy="395.7" r="0.52" fill="#7d6ad6"/>
<circle cx="903.2" cy="395.4" r="0.42" fill="#7d6ad6"/>
<circle cx="904.4" cy="396.0" r="0.54" fill="#7d6ad6"/>
<circle cx="902.8" cy="396.3" r="0.50" fill="#7d6ad6"/>
<circle cx="903.5" cy="396.4" r="0.72" fill="#7d6ad6"/>
<circle cx="904.8" cy="395.3" r="0.53" fill="#7d6ad6"/>
<circle cx="904.1" cy="395.6" r="0.58" fill="#7d6ad6"/>
<circle cx="901.8" cy="391.5" r="0.79" fill="#7d6ad6"/>
<circle cx="903.9" cy="394.2" r="0.81" fill="#7d6ad6"/>
<circle cx="861.6" cy="396.2" r="0.68" fill="#a35fd0"/>
<circle cx="864.0" cy="395.1" r="0.83" fill="#a35fd0"/>
<circle cx="861.8" cy="396.1" r="0.44" fill="#a35fd0"/>
<circle cx="864.5" cy="394.8" r="0.65" fill="#e2689a"/>
<circle cx="862.6" cy="395.5" r="0.52" fill="#f0a03c"/>
<circle cx="863.0" cy="396.3" r="0.43" fill="#a35fd0"/>
<circle cx="866.1" cy="396.3" r="0.51" fill="#a35fd0"/>
<circle cx="864.3" cy="396.0" r="0.61" fill="#a35fd0"/>
<circle cx="818.9" cy="395.2" r="0.69" fill="#d352b4"/>
<circle cx="820.0" cy="394.2" r="0.72" fill="#d352b4"/>
<circle cx="821.0" cy="396.1" r="0.41" fill="#d352b4"/>
<circle cx="821.9" cy="395.7" r="0.45" fill="#d352b4"/>
<circle cx="823.1" cy="395.5" r="0.66" fill="#d352b4"/>
<circle cx="819.3" cy="391.7" r="0.54" fill="#d352b4"/>
<circle cx="821.2" cy="392.9" r="0.58" fill="#d352b4"/>
<circle cx="818.6" cy="394.2" r="0.76" fill="#d352b4"/>
<circle cx="820.4" cy="394.6" r="0.60" fill="#d352b4"/>
<circle cx="819.7" cy="396.0" r="0.79" fill="#7d6ad6"/>
<circle cx="820.3" cy="395.9" r="0.60" fill="#a35fd0"/>
<circle cx="818.8" cy="393.8" r="0.80" fill="#7d6ad6"/>
<circle cx="821.5" cy="395.9" r="0.67" fill="#d352b4"/>
<circle cx="817.3" cy="393.0" r="0.50" fill="#d352b4"/>
<circle cx="820.2" cy="394.1" r="0.66" fill="#d352b4"/>
<circle cx="820.5" cy="394.2" r="0.78" fill="#d352b4"/>
<circle cx="755.5" cy="395.8" r="0.74" fill="#c452c8"/>
<circle cx="754.5" cy="396.2" r="0.50" fill="#7d6ad6"/>
<circle cx="755.2" cy="396.3" r="0.74" fill="#f0a03c"/>
<circle cx="754.9" cy="396.3" r="0.58" fill="#a35fd0"/>
<circle cx="755.5" cy="396.4" r="0.76" fill="#f0a03c"/>
<circle cx="755.2" cy="396.5" r="0.64" fill="#f0a03c"/>
<circle cx="791.6" cy="392.4" r="0.47" fill="#d352b4"/>
<circle cx="791.4" cy="394.9" r="0.85" fill="#d352b4"/>
<circle cx="790.7" cy="394.0" r="0.74" fill="#d352b4"/>
<circle cx="792.1" cy="395.6" r="0.77" fill="#f0a03c"/>
<circle cx="791.5" cy="395.2" r="0.64" fill="#d352b4"/>
<circle cx="792.2" cy="396.1" r="0.75" fill="#e2689a"/>
<circle cx="791.1" cy="393.3" r="0.48" fill="#c452c8"/>
<circle cx="791.9" cy="395.8" r="0.52" fill="#c452c8"/>
<circle cx="791.0" cy="396.2" r="0.77" fill="#d352b4"/>
<circle cx="792.0" cy="395.2" r="0.55" fill="#f0a03c"/>
<circle cx="885.6" cy="395.6" r="0.67" fill="#e2784e"/>
<circle cx="884.8" cy="396.4" r="0.68" fill="#f0a03c"/>
<circle cx="885.2" cy="391.6" r="0.60" fill="#f0a03c"/>
<circle cx="883.5" cy="394.7" r="0.61" fill="#e2689a"/>
<circle cx="884.0" cy="395.2" r="0.79" fill="#f0a03c"/>
<circle cx="884.5" cy="394.3" r="0.72" fill="#f0a03c"/>
<circle cx="885.2" cy="395.4" r="0.78" fill="#f0a03c"/>
<circle cx="883.7" cy="395.7" r="0.42" fill="#f0a03c"/>
<circle cx="883.4" cy="391.1" r="0.43" fill="#7d6ad6"/>
<circle cx="884.5" cy="396.2" r="0.65" fill="#e2689a"/>
<circle cx="682.3" cy="396.3" r="0.56" fill="#d352b4"/>
<circle cx="682.5" cy="395.7" r="0.52" fill="#d352b4"/>
<circle cx="683.1" cy="396.4" r="0.52" fill="#d352b4"/>
<circle cx="683.4" cy="394.7" r="0.63" fill="#d352b4"/>
<circle cx="682.3" cy="393.7" r="0.71" fill="#d352b4"/>
<circle cx="682.2" cy="396.5" r="0.63" fill="#d352b4"/>
<circle cx="682.2" cy="396.1" r="0.75" fill="#d352b4"/>
<circle cx="887.8" cy="396.4" r="0.53" fill="#d352b4"/>
<circle cx="888.2" cy="395.5" r="0.71" fill="#d352b4"/>
<circle cx="887.8" cy="395.9" r="0.65" fill="#e2784e"/>
<circle cx="889.0" cy="395.4" r="0.43" fill="#c452c8"/>
<circle cx="887.8" cy="395.1" r="0.63" fill="#e2784e"/>
<circle cx="746.4" cy="396.4" r="0.72" fill="#7d6ad6"/>
<circle cx="747.0" cy="394.9" r="0.67" fill="#7d6ad6"/>
<circle cx="746.6" cy="396.4" r="0.61" fill="#a35fd0"/>
<circle cx="748.5" cy="395.2" r="0.60" fill="#a35fd0"/>
<circle cx="745.9" cy="396.1" r="0.68" fill="#a35fd0"/>
<circle cx="747.9" cy="396.4" r="0.67" fill="#c452c8"/>
<circle cx="747.0" cy="395.3" r="0.80" fill="#a35fd0"/>
<circle cx="743.6" cy="395.9" r="0.48" fill="#a35fd0"/>
<circle cx="747.3" cy="395.5" r="0.55" fill="#a35fd0"/>
<circle cx="746.7" cy="394.3" r="0.73" fill="#d352b4"/>
<circle cx="748.4" cy="395.1" r="0.81" fill="#e2784e"/>
<circle cx="746.9" cy="395.2" r="0.40" fill="#a35fd0"/>
<circle cx="746.0" cy="393.9" r="0.80" fill="#a35fd0"/>
<circle cx="828.8" cy="396.4" r="0.53" fill="#7d6ad6"/>
<circle cx="831.7" cy="395.9" r="0.48" fill="#7d6ad6"/>
<circle cx="830.8" cy="395.8" r="0.84" fill="#a35fd0"/>
<circle cx="830.3" cy="395.5" r="0.72" fill="#7d6ad6"/>
<circle cx="830.5" cy="396.5" r="0.57" fill="#7d6ad6"/>
<circle cx="830.5" cy="396.4" r="0.84" fill="#7d6ad6"/>
<circle cx="830.3" cy="396.0" r="0.67" fill="#7d6ad6"/>
<circle cx="892.8" cy="395.9" r="0.49" fill="#d352b4"/>
<circle cx="893.1" cy="396.3" r="0.46" fill="#d352b4"/>
<circle cx="892.9" cy="396.2" r="0.57" fill="#d352b4"/>
<circle cx="893.4" cy="396.1" r="0.77" fill="#f0a03c"/>
<circle cx="893.3" cy="396.2" r="0.41" fill="#d352b4"/>
<circle cx="884.4" cy="396.0" r="0.67" fill="#d352b4"/>
<circle cx="884.1" cy="396.1" r="0.60" fill="#d352b4"/>
<circle cx="884.8" cy="396.1" r="0.77" fill="#d352b4"/>
<circle cx="884.2" cy="395.8" r="0.74" fill="#d352b4"/>
<circle cx="884.1" cy="396.5" r="0.84" fill="#d352b4"/>
<circle cx="885.3" cy="396.3" r="0.80" fill="#7d6ad6"/>
<circle cx="814.8" cy="394.7" r="0.81" fill="#a35fd0"/>
<circle cx="814.7" cy="396.2" r="0.74" fill="#e2689a"/>
<circle cx="814.4" cy="394.7" r="0.68" fill="#e2689a"/>
<circle cx="814.6" cy="395.7" r="0.65" fill="#e2689a"/>
<circle cx="814.7" cy="395.7" r="0.85" fill="#e2784e"/>
<circle cx="814.7" cy="395.0" r="0.52" fill="#e2689a"/>
<circle cx="813.8" cy="396.5" r="0.60" fill="#d352b4"/>
<circle cx="813.7" cy="396.1" r="0.49" fill="#7d6ad6"/>
<circle cx="780.8" cy="395.9" r="0.78" fill="#a35fd0"/>
<circle cx="780.8" cy="395.9" r="0.40" fill="#e2784e"/>
<circle cx="780.3" cy="396.5" r="0.52" fill="#e2784e"/>
<circle cx="782.0" cy="396.5" r="0.72" fill="#e2784e"/>
<circle cx="780.4" cy="395.9" r="0.82" fill="#d352b4"/>
<circle cx="779.3" cy="396.3" r="0.54" fill="#e2784e"/>
<circle cx="780.2" cy="395.9" r="0.81" fill="#e2689a"/>
<circle cx="829.9" cy="395.7" r="0.73" fill="#a35fd0"/>
<circle cx="828.7" cy="396.0" r="0.57" fill="#d352b4"/>
<circle cx="831.2" cy="396.3" r="0.71" fill="#e2784e"/>
<circle cx="827.9" cy="396.0" r="0.45" fill="#e2689a"/>
<circle cx="830.3" cy="396.4" r="0.41" fill="#e2689a"/>
<circle cx="830.8" cy="396.3" r="0.46" fill="#e2689a"/>
<circle cx="828.5" cy="395.6" r="0.45" fill="#e2689a"/>
<circle cx="829.5" cy="395.4" r="0.69" fill="#a35fd0"/>
<circle cx="830.5" cy="396.2" r="0.55" fill="#e2689a"/>
<circle cx="779.6" cy="394.6" r="0.67" fill="#d352b4"/>
<circle cx="778.7" cy="396.4" r="0.46" fill="#d352b4"/>
<circle cx="778.7" cy="394.8" r="0.43" fill="#e2784e"/>
<circle cx="778.9" cy="395.3" r="0.83" fill="#d352b4"/>
<circle cx="778.9" cy="392.6" r="0.44" fill="#f0a03c"/>
<circle cx="780.1" cy="394.6" r="0.83" fill="#d352b4"/>
<circle cx="780.1" cy="395.9" r="0.44" fill="#d352b4"/>
<circle cx="779.5" cy="395.5" r="0.57" fill="#e2784e"/>
<circle cx="779.8" cy="395.7" r="0.80" fill="#d352b4"/>
<circle cx="779.1" cy="396.4" r="0.80" fill="#d352b4"/>
<circle cx="853.0" cy="396.1" r="0.82" fill="#e2784e"/>
<circle cx="853.0" cy="396.1" r="0.65" fill="#a35fd0"/>
<circle cx="853.5" cy="396.4" r="0.81" fill="#c452c8"/>
<circle cx="853.2" cy="395.0" r="0.61" fill="#e2689a"/>
<circle cx="852.9" cy="394.8" r="0.69" fill="#c452c8"/>
<circle cx="689.0" cy="393.1" r="0.77" fill="#d352b4"/>
<circle cx="690.1" cy="392.0" r="0.65" fill="#e2689a"/>
<circle cx="689.7" cy="395.1" r="0.79" fill="#e2689a"/>
<circle cx="689.0" cy="395.5" r="0.70" fill="#e2689a"/>
<circle cx="692.0" cy="392.5" r="0.43" fill="#e2689a"/>
<circle cx="688.9" cy="396.4" r="0.59" fill="#e2689a"/>
<circle cx="690.8" cy="394.3" r="0.43" fill="#e2689a"/>
<circle cx="690.2" cy="393.3" r="0.44" fill="#e2689a"/>
<circle cx="688.3" cy="396.4" r="0.58" fill="#7d6ad6"/>
<circle cx="689.1" cy="394.7" r="0.56" fill="#e2689a"/>
<circle cx="689.2" cy="394.8" r="0.78" fill="#e2689a"/>
<circle cx="690.5" cy="393.2" r="0.71" fill="#7d6ad6"/>
<circle cx="691.1" cy="395.9" r="0.84" fill="#e2689a"/>
<circle cx="691.2" cy="391.9" r="0.69" fill="#e2689a"/>
<circle cx="688.7" cy="390.3" r="0.68" fill="#e2689a"/>
<circle cx="687.7" cy="395.6" r="0.44" fill="#e2689a"/>
<circle cx="691.8" cy="395.0" r="0.82" fill="#e2784e"/>
<circle cx="690.3" cy="394.6" r="0.49" fill="#e2689a"/>
<circle cx="687.8" cy="394.8" r="0.41" fill="#e2689a"/>
<circle cx="689.4" cy="396.0" r="0.41" fill="#a35fd0"/>
<circle cx="782.6" cy="396.2" r="0.84" fill="#f0a03c"/>
<circle cx="780.3" cy="394.0" r="0.46" fill="#a35fd0"/>
<circle cx="781.8" cy="395.9" r="0.44" fill="#f0a03c"/>
<circle cx="782.5" cy="395.7" r="0.85" fill="#f0a03c"/>
<circle cx="779.8" cy="395.1" r="0.69" fill="#d352b4"/>
<circle cx="780.0" cy="396.1" r="0.63" fill="#e2689a"/>
<circle cx="782.9" cy="394.6" r="0.44" fill="#d352b4"/>
<circle cx="781.8" cy="396.1" r="0.83" fill="#f0a03c"/>
<circle cx="781.3" cy="395.1" r="0.65" fill="#f0a03c"/>
<circle cx="781.4" cy="394.1" r="0.78" fill="#f0a03c"/>
<circle cx="781.7" cy="396.4" r="0.44" fill="#f0a03c"/>
<circle cx="885.3" cy="395.8" r="0.61" fill="#e2689a"/>
<circle cx="885.7" cy="394.7" r="0.46" fill="#e2689a"/>
<circle cx="885.9" cy="395.1" r="0.40" fill="#e2689a"/>
<circle cx="886.4" cy="396.3" r="0.47" fill="#e2689a"/>
<circle cx="886.2" cy="393.6" r="0.74" fill="#e2689a"/>
<circle cx="886.1" cy="394.0" r="0.45" fill="#e2689a"/>
<circle cx="711.6" cy="396.4" r="0.51" fill="#d352b4"/>
<circle cx="711.4" cy="395.7" r="0.83" fill="#7d6ad6"/>
<circle cx="712.8" cy="396.3" r="0.71" fill="#a35fd0"/>
<circle cx="711.8" cy="395.9" r="0.47" fill="#d352b4"/>
<circle cx="712.4" cy="396.3" r="0.41" fill="#d352b4"/>
<circle cx="692.0" cy="396.3" r="0.54" fill="#f0a03c"/>
<circle cx="692.0" cy="395.6" r="0.55" fill="#7d6ad6"/>
<circle cx="691.6" cy="395.7" r="0.74" fill="#f0a03c"/>
<circle cx="691.9" cy="394.9" r="0.49" fill="#c452c8"/>
<circle cx="690.8" cy="395.1" r="0.42" fill="#e2784e"/>
<circle cx="691.0" cy="396.5" r="0.84" fill="#f0a03c"/>
<circle cx="691.6" cy="396.4" r="0.55" fill="#f0a03c"/>
<circle cx="800.7" cy="396.1" r="0.81" fill="#c452c8"/>
<circle cx="800.9" cy="395.6" r="0.44" fill="#c452c8"/>
<circle cx="799.8" cy="395.2" r="0.53" fill="#c452c8"/>
<circle cx="801.0" cy="395.1" r="0.43" fill="#c452c8"/>
<circle cx="800.7" cy="395.3" r="0.58" fill="#c452c8"/>
<circle cx="800.0" cy="395.6" r="0.75" fill="#c452c8"/>
<circle cx="800.3" cy="395.4" r="0.82" fill="#c452c8"/>
<circle cx="801.8" cy="394.2" r="0.52" fill="#d352b4"/>
<circle cx="802.8" cy="395.9" r="0.45" fill="#d352b4"/>
<circle cx="803.0" cy="396.0" r="0.80" fill="#d352b4"/>
<circle cx="801.8" cy="394.5" r="0.41" fill="#d352b4"/>
<circle cx="803.2" cy="394.1" r="0.62" fill="#d352b4"/>
<circle cx="801.6" cy="393.3" r="0.76" fill="#d352b4"/>
<circle cx="803.0" cy="392.2" r="0.61" fill="#e2784e"/>
<circle cx="801.3" cy="395.9" r="0.77" fill="#d352b4"/>
<circle cx="802.4" cy="395.9" r="0.67" fill="#a35fd0"/>
<circle cx="802.4" cy="396.1" r="0.57" fill="#d352b4"/>
<circle cx="802.6" cy="396.0" r="0.46" fill="#d352b4"/>
<circle cx="802.3" cy="393.8" r="0.77" fill="#e2784e"/>
<circle cx="801.7" cy="395.6" r="0.80" fill="#7d6ad6"/>
<circle cx="859.7" cy="395.5" r="0.82" fill="#7d6ad6"/>
<circle cx="859.8" cy="396.5" r="0.55" fill="#7d6ad6"/>
<circle cx="860.9" cy="395.7" r="0.76" fill="#a35fd0"/>
<circle cx="860.5" cy="395.9" r="0.48" fill="#7d6ad6"/>
<circle cx="859.4" cy="396.0" r="0.46" fill="#7d6ad6"/>
<circle cx="859.9" cy="396.4" r="0.50" fill="#a35fd0"/>
<circle cx="730.8" cy="394.9" r="0.44" fill="#e2689a"/>
<circle cx="731.5" cy="392.8" r="0.70" fill="#d352b4"/>
<circle cx="731.5" cy="395.8" r="0.79" fill="#f0a03c"/>
<circle cx="730.4" cy="395.7" r="0.81" fill="#f0a03c"/>
<circle cx="730.8" cy="395.9" r="0.81" fill="#f0a03c"/>
<circle cx="731.4" cy="390.7" r="0.73" fill="#f0a03c"/>
<circle cx="731.6" cy="395.1" r="0.50" fill="#e2689a"/>
<circle cx="733.1" cy="395.1" r="0.78" fill="#7d6ad6"/>
<circle cx="731.6" cy="393.8" r="0.73" fill="#f0a03c"/>
<circle cx="732.0" cy="392.7" r="0.43" fill="#f0a03c"/>
<circle cx="731.1" cy="393.8" r="0.78" fill="#d352b4"/>
<circle cx="731.4" cy="394.6" r="0.43" fill="#f0a03c"/>
<circle cx="732.6" cy="396.1" r="0.72" fill="#f0a03c"/>
<circle cx="729.6" cy="393.4" r="0.60" fill="#f0a03c"/>
<circle cx="873.2" cy="396.3" r="0.50" fill="#e2689a"/>
<circle cx="869.3" cy="395.9" r="0.70" fill="#d352b4"/>
<circle cx="870.6" cy="396.0" r="0.48" fill="#d352b4"/>
<circle cx="872.1" cy="395.9" r="0.85" fill="#d352b4"/>
<circle cx="871.6" cy="395.7" r="0.61" fill="#d352b4"/>
<circle cx="870.3" cy="396.5" r="0.61" fill="#d352b4"/>
<circle cx="872.2" cy="396.4" r="0.56" fill="#f0a03c"/>
<circle cx="872.8" cy="396.4" r="0.67" fill="#d352b4"/>
<circle cx="879.5" cy="395.7" r="0.55" fill="#a35fd0"/>
<circle cx="876.0" cy="394.2" r="0.52" fill="#d352b4"/>
<circle cx="878.0" cy="396.1" r="0.58" fill="#d352b4"/>
<circle cx="879.3" cy="395.6" r="0.76" fill="#d352b4"/>
<circle cx="876.5" cy="394.4" r="0.64" fill="#d352b4"/>
<circle cx="878.2" cy="396.3" r="0.80" fill="#d352b4"/>
<circle cx="877.8" cy="395.5" r="0.52" fill="#d352b4"/>
<circle cx="877.8" cy="396.4" r="0.53" fill="#d352b4"/>
<circle cx="879.0" cy="395.1" r="0.79" fill="#e2689a"/>
<circle cx="683.8" cy="388.1" r="1.7" fill="#4f7fd6"/>
<circle cx="684.7" cy="391.2" r="1.2" fill="#d86a4a"/>
<circle cx="686.5" cy="393.8" r="1.3" fill="#d352b4"/>
<circle cx="695.3" cy="395.2" r="1.3" fill="#a35fd0"/>
<circle cx="704.1" cy="394.7" r="1.2" fill="#a35fd0"/>
<circle cx="732.8" cy="392.1" r="1.2" fill="#8a7ad6"/>
<circle cx="732.8" cy="394.3" r="1.1" fill="#e2784e"/>
<circle cx="739.4" cy="395.2" r="1.0" fill="#a35fd0"/>
<circle cx="756.2" cy="389.4" r="1.2" fill="#e2689a"/>
<circle cx="754.9" cy="392.5" r="1.6" fill="#a35fd0"/>
<circle cx="758.2" cy="394.3" r="1.6" fill="#d352b4"/>
<circle cx="768.1" cy="393.8" r="1.3" fill="#a35fd0"/>
<circle cx="772.5" cy="392.1" r="1.1" fill="#c452c8"/>
<circle cx="774.7" cy="395.2" r="1.2" fill="#a35fd0"/>
<circle cx="780.3" cy="395.2" r="1.0" fill="#e2784e"/>
<circle cx="801.2" cy="390.8" r="1.2" fill="#8ecb60"/>
<circle cx="801.2" cy="393.4" r="1.4" fill="#a35fd0"/>
<circle cx="812.3" cy="395.2" r="1.2" fill="#d352b4"/>
<circle cx="818.9" cy="394.3" r="1.2" fill="#e2689a"/>
<circle cx="824.4" cy="394.7" r="1.2" fill="#e2784e"/>
<circle cx="829.9" cy="393.4" r="1.3" fill="#a35fd0"/>
<circle cx="831.0" cy="389.4" r="0.8" fill="#f0a03c"/>
<circle cx="840.5" cy="387.7" r="0.9" fill="#7d6ad6"/>
<circle cx="840.5" cy="392.5" r="1.3" fill="#a35fd0"/>
<circle cx="845.8" cy="393.8" r="1.4" fill="#c452c8"/>
<circle cx="855.3" cy="393.4" r="1.6" fill="#a35fd0"/>
<circle cx="863.0" cy="394.7" r="1.1" fill="#e2689a"/>
<circle cx="871.4" cy="389.4" r="1.5" fill="#4f7fd6"/>
<circle cx="871.4" cy="391.9" r="1.5" fill="#4f7fd6"/>
<circle cx="875.1" cy="393.8" r="1.3" fill="#a35fd0"/>
<circle cx="867.4" cy="394.7" r="1.2" fill="#d352b4"/>
<circle cx="894.3" cy="391.9" r="1.4" fill="#4f7fd6"/>
<circle cx="894.3" cy="394.3" r="1.2" fill="#a35fd0"/>
<circle cx="898.3" cy="394.7" r="1.0" fill="#e2784e"/>
<circle cx="902.7" cy="386.8" r="1.9" fill="#a35fd0"/>
<circle cx="902.7" cy="389.4" r="1.7" fill="#4f7fd6"/>
<circle cx="902.7" cy="394.3" r="1.2" fill="#d352b4"/>
<circle cx="908.2" cy="395.2" r="1.0" fill="#e2784e"/>
<circle cx="912.6" cy="395.2" r="1.0" fill="#d352b4"/>
<circle cx="700.8" cy="371.3" r="0.8" fill="#d352b4"/>
<circle cx="700.8" cy="376.9" r="0.8" fill="#e2784e"/>
<circle cx="700.8" cy="380.6" r="1.6" fill="#8ecb60"/>
<circle cx="700.8" cy="382.8" r="1.9" fill="#8ecb60"/>
<circle cx="700.8" cy="385.0" r="1.9" fill="#6fae6a"/>
<circle cx="700.8" cy="388.1" r="2.0" fill="#5a6fd0"/>
<circle cx="700.8" cy="390.3" r="1.9" fill="#a35fd0"/>
<circle cx="700.8" cy="392.5" r="1.7" fill="#a35fd0"/>
<circle cx="700.8" cy="394.7" r="1.6" fill="#d352b4"/>
<circle cx="712.3" cy="388.3" r="1.5" fill="#9a55c8"/>
<circle cx="712.3" cy="390.3" r="1.8" fill="#9a55c8"/>
<circle cx="712.3" cy="392.5" r="1.6" fill="#9a55c8"/>
<circle cx="712.3" cy="394.7" r="1.4" fill="#9a55c8"/>
<rect x="760.4" y="360.3" width="6.6" height="24.7" rx="3.2" fill="#8ecb60"/>
<circle cx="762.8" cy="363.6" r="1.1" fill="#b6d95a"/>
<circle cx="762.8" cy="369.1" r="1.1" fill="#b6d95a"/>
<circle cx="762.8" cy="374.6" r="1.1" fill="#b6d95a"/>
<circle cx="762.8" cy="380.2" r="1.1" fill="#b6d95a"/>
<circle cx="763.3" cy="347.1" r="0.7" fill="#e2689a"/>
<circle cx="763.3" cy="351.0" r="0.7" fill="#d352b4"/>
<circle cx="763.3" cy="354.8" r="0.7" fill="#e2689a"/>
<circle cx="763.3" cy="358.1" r="0.7" fill="#f0a03c"/>
<rect x="761.1" y="385.9" width="4.9" height="9.7" rx="2" fill="#9a55c8"/>
<circle cx="765.0" cy="391.9" r="2.2" fill="#4f7fd6"/>
<rect x="753.1" y="378.0" width="3.6" height="3.6" fill="#a35fd0"/>
<circle cx="801.9" cy="368.0" r="2.7" fill="#a35fd0"/>
<circle cx="813.8" cy="385.0" r="1.7" fill="#8ecb60"/>
<circle cx="871.2" cy="385.0" r="1.7" fill="#8ecb60"/>
<circle cx="876.9" cy="389.7" r="1.7" fill="#8ecb60"/>
<rect x="881.5" y="348.2" width="7.1" height="17.7" rx="3.2" fill="#a35fd0"/>
<ellipse cx="885.1" cy="363.0" rx="3.3" ry="2.6" fill="#4f7fd6"/>
<ellipse cx="885.1" cy="358.1" rx="3.3" ry="2.6" fill="#8a6ad6"/>
<ellipse cx="885.1" cy="374.0" rx="2.6" ry="2.2" fill="#4f7fd6"/>
<rect x="882.0" y="376.2" width="5.7" height="19.4" rx="2.6" fill="#9a55c8"/>
<ellipse cx="881.5" cy="385.7" rx="2.2" ry="5.5" fill="#a35fd0"/>
<circle cx="887.5" cy="389.2" r="2.2" fill="#4f7fd6"/>
<circle cx="885.1" cy="378.0" r="1.6" fill="#6fae6a"/>
</svg>
<svg class="abs" style="left:978px;top:326px" width="274" height="84" viewBox="978 326 274 84">
<rect x="979.9" y="328.2" width="270.1" height="80.5" fill="#f0f0f0"/>
<path d="M986.5 355.3 H1223.8" stroke="#fff" stroke-width="0.7"/>
<path d="M984.6 343.2 H986.8" stroke="#a8a8a8" stroke-width="0.6"/>
<path d="M984.6 355.3 H986.8" stroke="#a8a8a8" stroke-width="0.6"/>
<path d="M984.6 367.4 H986.8" stroke="#a8a8a8" stroke-width="0.6"/>
<path d="M984.6 379.6 H986.8" stroke="#a8a8a8" stroke-width="0.6"/>
<path d="M984.6 391.7 H986.8" stroke="#a8a8a8" stroke-width="0.6"/>
<path d="M984.6 403.8 H986.8" stroke="#a8a8a8" stroke-width="0.6"/>
<path d="M990.3 389.5 V403.4" stroke="#777" stroke-width="0.75"/>
<rect x="989.0" y="398.3" width="2.7" height="4.4" rx="0.4" fill="#777"/>
<path d="M994.7 402.1 V403.8" stroke="#d8b83a" stroke-width="0.75"/>
<rect x="993.4" y="402.3" width="2.7" height="1.3" rx="0.4" fill="#d8b83a"/>
<path d="M998.7 384.0 V392.4" stroke="#4caf50" stroke-width="0.75"/>
<rect x="997.3" y="385.1" width="2.7" height="6.6" rx="0.4" fill="#4caf50"/>
<path d="M1003.3 379.1 V396.1" stroke="#a0663a" stroke-width="0.75"/>
<rect x="1002.0" y="386.2" width="2.7" height="5.5" rx="0.4" fill="#a0663a"/>
<path d="M1007.5 378.5 V393.9" stroke="#b9a0d8" stroke-width="0.75"/>
<rect x="1006.2" y="382.2" width="2.7" height="8.4" rx="0.4" fill="#b9a0d8"/>
<path d="M1011.9 384.4 V393.9" stroke="#bcd7ee" stroke-width="0.35" stroke-dasharray="0.8 0.5"/>
<rect x="1010.6" y="385.1" width="2.7" height="7.7" rx="0.4" fill="#bcd7ee"/>
<path d="M1016.3 395.0 V398.3" stroke="#b59ab0" stroke-width="0.75"/>
<rect x="1015.0" y="395.9" width="2.7" height="1.8" rx="0.4" fill="#b59ab0"/>
<path d="M1020.5 401.2 V404.7" stroke="#e2b93a" stroke-width="0.75"/>
<rect x="1019.2" y="403.0" width="2.7" height="0.9" rx="0.4" fill="#e2b93a"/>
<path d="M1024.9 399.0 V401.2" stroke="#e9c84a" stroke-width="0.75"/>
<rect x="1023.6" y="399.4" width="2.7" height="1.3" rx="0.4" fill="#e9c84a"/>
<path d="M1029.1 402.1 V404.3" stroke="#e2b93a" stroke-width="0.75"/>
<rect x="1027.8" y="403.0" width="2.7" height="0.9" rx="0.4" fill="#e2b93a"/>
<path d="M1033.5 364.1 V397.7" stroke="#d8345a" stroke-width="0.75"/>
<rect x="1032.2" y="380.0" width="2.7" height="8.8" rx="0.4" fill="#d8345a"/>
<path d="M1037.7 401.2 V403.4" stroke="#d9a82e" stroke-width="0.75"/>
<rect x="1036.4" y="401.4" width="2.7" height="1.5" rx="0.4" fill="#d9a82e"/>
<path d="M1041.9 402.5 V404.3" stroke="#d9a82e" stroke-width="0.75"/>
<rect x="1040.6" y="403.0" width="2.7" height="1.1" rx="0.4" fill="#d9a82e"/>
<path d="M1046.3 370.8 V404.3" stroke="#e2b040" stroke-width="0.75"/>
<rect x="1045.0" y="402.5" width="2.7" height="1.5" rx="0.4" fill="#e2b040"/>
<path d="M1050.5 392.8 V404.3" stroke="#d9a82e" stroke-width="0.75"/>
<rect x="1049.2" y="402.5" width="2.7" height="1.5" rx="0.4" fill="#d9a82e"/>
<path d="M1055.0 402.1 V404.3" stroke="#d9a82e" stroke-width="0.75"/>
<rect x="1053.6" y="402.7" width="2.7" height="1.1" rx="0.4" fill="#d9a82e"/>
<path d="M1059.1 392.8 V404.3" stroke="#e9c060" stroke-width="0.35" stroke-dasharray="0.8 0.5"/>
<rect x="1057.8" y="402.7" width="2.7" height="1.1" rx="0.4" fill="#e9c060"/>
<path d="M1063.3 384.0 V404.3" stroke="#d9a82e" stroke-width="0.75"/>
<rect x="1062.0" y="402.5" width="2.7" height="1.5" rx="0.4" fill="#d9a82e"/>
<path d="M1067.7 353.1 V366.3" stroke="#d2d888" stroke-width="0.35" stroke-dasharray="0.8 0.5"/>
<rect x="1066.4" y="354.2" width="2.7" height="11.5" rx="0.4" fill="#d2d888"/>
<path d="M1071.9 397.2 V401.2" stroke="#6a6ad0" stroke-width="0.75"/>
<rect x="1070.6" y="397.9" width="2.7" height="2.6" rx="0.4" fill="#6a6ad0"/>
<path d="M1076.4 389.5 V404.3" stroke="#d9a82e" stroke-width="0.75"/>
<rect x="1075.0" y="403.0" width="2.7" height="1.1" rx="0.4" fill="#d9a82e"/>
<path d="M1080.5 373.0 V397.2" stroke="#f4b66a" stroke-width="0.35" stroke-dasharray="0.8 0.5"/>
<rect x="1079.2" y="391.1" width="2.7" height="5.1" rx="0.4" fill="#f4b66a"/>
<path d="M1085.0 380.0 V388.8" stroke="#6abf69" stroke-width="0.75"/>
<rect x="1083.6" y="381.3" width="2.7" height="6.6" rx="0.4" fill="#6abf69"/>
<path d="M1089.4 375.2 V404.3" stroke="#e04545" stroke-width="0.75"/>
<rect x="1088.0" y="397.7" width="2.7" height="4.4" rx="0.4" fill="#e04545"/>
<path d="M1093.6 399.9 V404.7" stroke="#e26a3a" stroke-width="0.75"/>
<rect x="1092.2" y="403.0" width="2.7" height="1.1" rx="0.4" fill="#e26a3a"/>
<path d="M1098.0 402.1 V403.8" stroke="#f0a0c8" stroke-width="0.75"/>
<rect x="1096.6" y="402.3" width="2.7" height="1.3" rx="0.4" fill="#f0a0c8"/>
<path d="M1102.4 368.5 V397.2" stroke="#f0c0e0" stroke-width="0.35" stroke-dasharray="0.8 0.5"/>
<rect x="1101.0" y="388.0" width="2.7" height="4.0" rx="0.4" fill="#f0c0e0"/>
<path d="M1106.6 356.4 V399.9" stroke="#5c5aa8" stroke-width="0.75"/>
<rect x="1105.2" y="377.8" width="2.7" height="8.4" rx="0.4" fill="#5c5aa8"/>
<path d="M1111.0 388.8 V395.5" stroke="#7d9cc0" stroke-width="0.75"/>
<rect x="1109.6" y="390.2" width="2.7" height="4.4" rx="0.4" fill="#7d9cc0"/>
<path d="M1115.0 392.8 V398.6" stroke="#e8d0a0" stroke-width="0.75"/>
<rect x="1113.6" y="393.9" width="2.7" height="3.8" rx="0.4" fill="#e8d0a0"/>
<path d="M1119.4 380.0 V402.1" stroke="#2f4f5f" stroke-width="0.75"/>
<rect x="1118.0" y="391.7" width="2.7" height="4.4" rx="0.4" fill="#2f4f5f"/>
<path d="M1123.8 388.0 V397.2" stroke="#e8965a" stroke-width="0.75"/>
<rect x="1122.4" y="388.8" width="2.7" height="7.9" rx="0.4" fill="#e8965a"/>
<path d="M1128.0 393.3 V398.3" stroke="#607080" stroke-width="0.75"/>
<rect x="1126.6" y="393.9" width="2.7" height="3.8" rx="0.4" fill="#607080"/>
<path d="M1132.2 381.8 V402.7" stroke="#d6c6e6" stroke-width="0.35" stroke-dasharray="0.8 0.5"/>
<rect x="1130.8" y="395.0" width="2.7" height="4.0" rx="0.4" fill="#d6c6e6"/>
<path d="M1136.6 381.3 V403.4" stroke="#b03030" stroke-width="0.75"/>
<rect x="1135.2" y="393.9" width="2.7" height="3.8" rx="0.4" fill="#b03030"/>
<path d="M1141.0 394.1 V399.4" stroke="#a02020" stroke-width="0.75"/>
<rect x="1139.7" y="395.0" width="2.7" height="3.5" rx="0.4" fill="#a02020"/>
<path d="M1145.4 361.9 V400.5" stroke="#c06060" stroke-width="0.35" stroke-dasharray="0.8 0.5"/>
<rect x="1144.1" y="386.2" width="2.7" height="5.5" rx="0.4" fill="#c06060"/>
<path d="M1149.6 392.8 V403.0" stroke="#f4e6a0" stroke-width="0.35" stroke-dasharray="0.8 0.5"/>
<rect x="1148.3" y="398.3" width="2.7" height="3.8" rx="0.4" fill="#f4e6a0"/>
<path d="M1154.0 385.3 V392.4" stroke="#222" stroke-width="0.75"/>
<rect x="1152.7" y="385.8" width="2.7" height="6.0" rx="0.4" fill="#222"/>
<path d="M1158.2 390.2 V398.1" stroke="#f4d0b0" stroke-width="0.35" stroke-dasharray="0.8 0.5"/>
<rect x="1156.9" y="391.1" width="2.7" height="6.2" rx="0.4" fill="#f4d0b0"/>
<path d="M1162.6 379.1 V400.5" stroke="#8050a0" stroke-width="0.75"/>
<rect x="1161.3" y="390.2" width="2.7" height="4.9" rx="0.4" fill="#8050a0"/>
<path d="M1166.8 394.1 V399.9" stroke="#5aa85a" stroke-width="0.75"/>
<rect x="1165.5" y="395.0" width="2.7" height="4.0" rx="0.4" fill="#5aa85a"/>
<path d="M1171.2 401.6 V404.3" stroke="#d8c090" stroke-width="0.75"/>
<rect x="1169.9" y="402.3" width="2.7" height="1.5" rx="0.4" fill="#d8c090"/>
<path d="M1175.4 376.9 V402.1" stroke="#e04040" stroke-width="0.75"/>
<rect x="1174.1" y="389.5" width="2.7" height="7.3" rx="0.4" fill="#e04040"/>
<path d="M1179.6 360.8 V396.1" stroke="#7080c0" stroke-width="0.75"/>
<rect x="1178.3" y="378.5" width="2.7" height="8.2" rx="0.4" fill="#7080c0"/>
<path d="M1184.0 385.8 V392.8" stroke="#b0a0d8" stroke-width="0.75"/>
<rect x="1182.7" y="387.3" width="2.7" height="4.4" rx="0.4" fill="#b0a0d8"/>
<path d="M1188.4 365.2 V396.1" stroke="#a8d8a0" stroke-width="0.35" stroke-dasharray="0.8 0.5"/>
<rect x="1187.1" y="385.1" width="2.7" height="8.8" rx="0.4" fill="#a8d8a0"/>
<path d="M1192.6 353.1 V396.8" stroke="#a030a0" stroke-width="0.75"/>
<rect x="1191.3" y="382.2" width="2.7" height="8.4" rx="0.4" fill="#a030a0"/>
<path d="M1196.8 391.1 V396.8" stroke="#d8d870" stroke-width="0.75"/>
<rect x="1195.5" y="391.7" width="2.7" height="4.4" rx="0.4" fill="#d8d870"/>
<path d="M1201.2 399.4 V402.5" stroke="#f0b0c8" stroke-width="0.75"/>
<rect x="1199.9" y="399.9" width="2.7" height="2.2" rx="0.4" fill="#f0b0c8"/>
<path d="M1205.4 380.0 V402.1" stroke="#3a80c0" stroke-width="0.75"/>
<rect x="1204.1" y="390.6" width="2.7" height="4.4" rx="0.4" fill="#3a80c0"/>
<path d="M1209.8 379.1 V395.0" stroke="#f0b060" stroke-width="0.35" stroke-dasharray="0.8 0.5"/>
<rect x="1208.5" y="390.2" width="2.7" height="4.0" rx="0.4" fill="#f0b060"/>
<path d="M1214.0 399.4 V404.7" stroke="#f0a090" stroke-width="0.75"/>
<rect x="1212.7" y="399.9" width="2.7" height="2.9" rx="0.4" fill="#f0a090"/>
<path d="M1218.5 370.3 V400.5" stroke="#e05050" stroke-width="0.75"/>
<rect x="1217.1" y="388.4" width="2.7" height="5.5" rx="0.4" fill="#e05050"/>
<circle cx="1067.7" cy="339.4" r="0.45" fill="#b9bf6a"/>
<circle cx="994.5" cy="363.7" r="0.45" fill="#9a9a9a"/>
<circle cx="998.7" cy="377.4" r="0.45" fill="#4caf50"/>
<circle cx="1080.5" cy="372.5" r="0.45" fill="#f4b66a"/>
<circle cx="1153.6" cy="372.5" r="0.45" fill="#333"/>
<circle cx="1188.4" cy="365.7" r="0.45" fill="#a8d8a0"/>
<circle cx="1110.1" cy="375.2" r="0.45" fill="#7d9cc0"/>
<circle cx="1115.0" cy="384.7" r="0.45" fill="#e8d0a0"/>
<circle cx="1196.8" cy="376.7" r="0.45" fill="#d8d870"/>
<circle cx="1067.7" cy="381.8" r="0.45" fill="#c8c8d8"/>
<rect x="1227.3" y="336.4" width="1.4" height="1.7" fill="#d8c878"/>
<path d="M1230.8 337.2 h10.6" stroke="#8a8a8a" stroke-width="0.55" stroke-dasharray="1.1 0.5"/>
<rect x="1227.3" y="339.0" width="1.4" height="1.7" fill="#c8a040"/>
<path d="M1230.8 339.8 h5.7" stroke="#8a8a8a" stroke-width="0.55" stroke-dasharray="1.1 0.5"/>
<rect x="1227.3" y="341.5" width="1.4" height="1.7" fill="#4caf50"/>
<path d="M1230.8 342.3 h3.5" stroke="#8a8a8a" stroke-width="0.55" stroke-dasharray="1.1 0.5"/>
<rect x="1227.3" y="344.1" width="1.4" height="1.7" fill="#a0663a"/>
<path d="M1230.8 344.9 h4.4" stroke="#8a8a8a" stroke-width="0.55" stroke-dasharray="1.1 0.5"/>
<rect x="1227.3" y="346.6" width="1.4" height="1.7" fill="#b9a0d8"/>
<path d="M1230.8 347.4 h7.9" stroke="#8a8a8a" stroke-width="0.55" stroke-dasharray="1.1 0.5"/>
<rect x="1227.3" y="349.2" width="1.4" height="1.7" fill="#bcd7ee"/>
<path d="M1230.8 350.0 h3.5" stroke="#8a8a8a" stroke-width="0.55" stroke-dasharray="1.1 0.5"/>
<rect x="1227.3" y="351.8" width="1.4" height="1.7" fill="#d8345a"/>
<path d="M1230.8 352.6 h6.6" stroke="#8a8a8a" stroke-width="0.55" stroke-dasharray="1.1 0.5"/>
<rect x="1227.3" y="354.3" width="1.4" height="1.7" fill="#e2b93a"/>
<path d="M1230.8 355.1 h4.9" stroke="#8a8a8a" stroke-width="0.55" stroke-dasharray="1.1 0.5"/>
<rect x="1227.3" y="356.9" width="1.4" height="1.7" fill="#6a6ad0"/>
<path d="M1230.8 357.7 h5.7" stroke="#8a8a8a" stroke-width="0.55" stroke-dasharray="1.1 0.5"/>
<rect x="1227.3" y="359.4" width="1.4" height="1.7" fill="#f4b66a"/>
<path d="M1230.8 360.2 h4.4" stroke="#8a8a8a" stroke-width="0.55" stroke-dasharray="1.1 0.5"/>
<rect x="1227.3" y="362.0" width="1.4" height="1.7" fill="#6abf69"/>
<path d="M1230.8 362.8 h7.9" stroke="#8a8a8a" stroke-width="0.55" stroke-dasharray="1.1 0.5"/>
<rect x="1227.3" y="364.6" width="1.4" height="1.7" fill="#e04545"/>
<path d="M1230.8 365.4 h13.2" stroke="#8a8a8a" stroke-width="0.55" stroke-dasharray="1.1 0.5"/>
<rect x="1227.3" y="367.1" width="1.4" height="1.7" fill="#f0c0e0"/>
<path d="M1230.8 367.9 h4.9" stroke="#8a8a8a" stroke-width="0.55" stroke-dasharray="1.1 0.5"/>
<rect x="1227.3" y="369.7" width="1.4" height="1.7" fill="#5c5aa8"/>
<path d="M1230.8 370.5 h7.9" stroke="#8a8a8a" stroke-width="0.55" stroke-dasharray="1.1 0.5"/>
<rect x="1227.3" y="372.2" width="1.4" height="1.7" fill="#7d9cc0"/>
<path d="M1230.8 373.0 h3.5" stroke="#8a8a8a" stroke-width="0.55" stroke-dasharray="1.1 0.5"/>
<rect x="1227.3" y="374.8" width="1.4" height="1.7" fill="#2f4f5f"/>
<path d="M1230.8 375.6 h7.9" stroke="#8a8a8a" stroke-width="0.55" stroke-dasharray="1.1 0.5"/>
<rect x="1227.3" y="377.4" width="1.4" height="1.7" fill="#e8965a"/>
<path d="M1230.8 378.2 h13.2" stroke="#8a8a8a" stroke-width="0.55" stroke-dasharray="1.1 0.5"/>
<rect x="1227.3" y="379.9" width="1.4" height="1.7" fill="#b03030"/>
<path d="M1230.8 380.7 h10.6" stroke="#8a8a8a" stroke-width="0.55" stroke-dasharray="1.1 0.5"/>
<rect x="1227.3" y="382.5" width="1.4" height="1.7" fill="#c06060"/>
<path d="M1230.8 383.3 h6.6" stroke="#8a8a8a" stroke-width="0.55" stroke-dasharray="1.1 0.5"/>
<rect x="1227.3" y="385.0" width="1.4" height="1.7" fill="#222"/>
<path d="M1230.8 385.8 h13.2" stroke="#8a8a8a" stroke-width="0.55" stroke-dasharray="1.1 0.5"/>
<rect x="1227.3" y="387.6" width="1.4" height="1.7" fill="#8050a0"/>
<path d="M1230.8 388.4 h6.6" stroke="#8a8a8a" stroke-width="0.55" stroke-dasharray="1.1 0.5"/>
<rect x="1227.3" y="390.2" width="1.4" height="1.7" fill="#5aa85a"/>
<path d="M1230.8 391.0 h4.9" stroke="#8a8a8a" stroke-width="0.55" stroke-dasharray="1.1 0.5"/>
<rect x="1227.3" y="392.7" width="1.4" height="1.7" fill="#e04040"/>
<path d="M1230.8 393.5 h6.6" stroke="#8a8a8a" stroke-width="0.55" stroke-dasharray="1.1 0.5"/>
<rect x="1227.3" y="395.3" width="1.4" height="1.7" fill="#7080c0"/>
<path d="M1230.8 396.1 h4.4" stroke="#8a8a8a" stroke-width="0.55" stroke-dasharray="1.1 0.5"/>
<rect x="1227.3" y="397.8" width="1.4" height="1.7" fill="#a8d8a0"/>
<path d="M1230.8 398.6 h15.4" stroke="#8a8a8a" stroke-width="0.55" stroke-dasharray="1.1 0.5"/>
<rect x="1227.3" y="400.4" width="1.4" height="1.7" fill="#a030a0"/>
<path d="M1230.8 401.2 h15.4" stroke="#8a8a8a" stroke-width="0.55" stroke-dasharray="1.1 0.5"/>
<rect x="1227.3" y="403.0" width="1.4" height="1.7" fill="#3a80c0"/>
<path d="M1230.8 403.8 h3.5" stroke="#8a8a8a" stroke-width="0.55" stroke-dasharray="1.1 0.5"/>
<rect x="1227.3" y="405.5" width="1.4" height="1.7" fill="#7dc8d8"/>
<path d="M1230.8 406.3 h3.5" stroke="#8a8a8a" stroke-width="0.55" stroke-dasharray="1.1 0.5"/>
</svg>
<div class="t" style="top:411.8px;font-size:11.9px;line-height:15.5px;color:#000;left:597.6px;width:400px;text-align:center;">Distribution of TWAS-associated genes</div>
<div class="t" style="top:411.9px;font-size:11.85px;line-height:15.4px;color:#000;left:912.3px;width:400px;text-align:center;">Gene expression level in different tissues</div>
<div class="abs" style="left:650px;top:431.1px;width:615px;height:33.9px;background:#1a6a6d">
</div>
<div class="t" style="top:437.5px;font-size:18.2px;line-height:23.7px;color:#fff;font-weight:700;left:764.5px;width:400px;text-align:center;">Analysis function</div>
<svg class="abs" style="left:665.1px;top:479.4px" width="137.9" height="87.6" viewBox="665.1 479.4 137.9 87.6">
<rect x="665.6" y="479.9" width="136.9" height="86.6" fill="#fff" stroke="#dadada"/>
<path d="M733.2 482.2 H766.0" stroke="#555" stroke-width="0.8" stroke-dasharray="2.2 0.6 1.2 0.5"/>
<path d="M684.0 488.2 H718.1" stroke="#6e6e6e" stroke-width="0.65" stroke-dasharray="1.5 0.5 2.4 0.6 0.9 0.5"/>
<path d="M721.9 488.2 H781.1" stroke="#ececec" stroke-width="0.4"/>
<path d="M679.0 495.3 H718.1" stroke="#6e6e6e" stroke-width="0.65" stroke-dasharray="1.5 0.5 2.4 0.6 0.9 0.5"/>
<path d="M721.9 495.3 H781.1" stroke="#ececec" stroke-width="0.4"/>
<path d="M682.8 502.9 H718.1" stroke="#6e6e6e" stroke-width="0.65" stroke-dasharray="1.5 0.5 2.4 0.6 0.9 0.5"/>
<path d="M721.9 502.9 H781.1" stroke="#ececec" stroke-width="0.4"/>
<path d="M710.5 510.4 H718.1" stroke="#6e6e6e" stroke-width="0.65" stroke-dasharray="1.5 0.5 2.4 0.6 0.9 0.5"/>
<path d="M721.9 510.4 H781.1" stroke="#ececec" stroke-width="0.4"/>
<path d="M699.2 518.0 H718.1" stroke="#6e6e6e" stroke-width="0.65" stroke-dasharray="1.5 0.5 2.4 0.6 0.9 0.5"/>
<path d="M721.9 518.0 H781.1" stroke="#ececec" stroke-width="0.4"/>
<path d="M692.9 525.1 H718.1" stroke="#6e6e6e" stroke-width="0.65" stroke-dasharray="1.5 0.5 2.4 0.6 0.9 0.5"/>
<path d="M721.9 525.1 H781.1" stroke="#ececec" stroke-width="0.4"/>
<path d="M691.6 532.6 H718.1" stroke="#6e6e6e" stroke-width="0.65" stroke-dasharray="1.5 0.5 2.4 0.6 0.9 0.5"/>
<path d="M721.9 532.6 H781.1" stroke="#ececec" stroke-width="0.4"/>
<path d="M687.8 540.2 H718.1" stroke="#6e6e6e" stroke-width="0.65" stroke-dasharray="1.5 0.5 2.4 0.6 0.9 0.5"/>
<path d="M721.9 540.2 H781.1" stroke="#ececec" stroke-width="0.4"/>
<path d="M681.5 547.5 H718.1" stroke="#6e6e6e" stroke-width="0.65" stroke-dasharray="1.5 0.5 2.4 0.6 0.9 0.5"/>
<path d="M721.9 547.5 H781.1" stroke="#ececec" stroke-width="0.4"/>
<path d="M686.6 555.1 H718.1" stroke="#6e6e6e" stroke-width="0.65" stroke-dasharray="1.5 0.5 2.4 0.6 0.9 0.5"/>
<path d="M721.9 555.1 H781.1" stroke="#ececec" stroke-width="0.4"/>
<path d="M712.5 549.0 H718.1" stroke="#5a5a5a" stroke-width="0.6"/>
<path d="M721.6 546.5 v1.6 M721.6 554.0 v1.6" stroke="#777" stroke-width="0.6"/>
<path d="M735.7 485.2 V558.8" stroke="#f0f0f0" stroke-width="0.4"/>
<path d="M749.6 485.2 V558.8" stroke="#f0f0f0" stroke-width="0.4"/>
<path d="M764.0 485.2 V558.8" stroke="#f0f0f0" stroke-width="0.4"/>
<path d="M777.8 485.2 V558.8" stroke="#f0f0f0" stroke-width="0.4"/>
<circle cx="777.8" cy="488.2" r="1.6" fill="#6a5aa8"/>
<circle cx="764.0" cy="495.3" r="1.4" fill="#c0507a"/>
<circle cx="749.6" cy="502.9" r="1.25" fill="#8a5a9a"/>
<circle cx="735.7" cy="510.4" r="1.0" fill="#d0506a"/>
<circle cx="735.7" cy="518.0" r="1.15" fill="#d0506a"/>
<circle cx="735.7" cy="525.1" r="1.05" fill="#d0506a"/>
<circle cx="735.7" cy="532.6" r="1.15" fill="#d0506a"/>
<circle cx="735.7" cy="540.2" r="1.2" fill="#d0506a"/>
<defs>
<linearGradient id="eg" x1="0" y1="0" x2="0" y2="1">
<stop offset="0" stop-color="#d0506a"/>
<stop offset="1" stop-color="#6a5aa8"/>
</linearGradient>
</defs>
<rect x="783.9" y="508.4" width="2.2" height="9.6" fill="url(#eg)"/>
<path d="M783.1 506.9 H790.2" stroke="#555" stroke-width="0.7"/>
<path d="M787.7 509.4 H798.3" stroke="#777" stroke-width="0.6" stroke-dasharray="1.6 0.6"/>
<path d="M787.7 512.4 H798.3" stroke="#777" stroke-width="0.6" stroke-dasharray="1.6 0.6"/>
<path d="M787.7 515.5 H798.3" stroke="#777" stroke-width="0.6" stroke-dasharray="1.6 0.6"/>
<path d="M787.7 518.0 H798.3" stroke="#777" stroke-width="0.6" stroke-dasharray="1.6 0.6"/>
<path d="M783.6 521.3 H789.2" stroke="#555" stroke-width="0.6"/>
<circle cx="785.7" cy="524.5" r="0.40" fill="#777"/>
<path d="M788.2 524.5 h2.2" stroke="#888" stroke-width="0.5"/>
<circle cx="785.7" cy="527.6" r="0.52" fill="#777"/>
<path d="M788.2 527.6 h2.2" stroke="#888" stroke-width="0.5"/>
<circle cx="785.7" cy="531.1" r="0.64" fill="#777"/>
<path d="M788.2 531.1 h2.2" stroke="#888" stroke-width="0.5"/>
<circle cx="785.7" cy="534.6" r="0.76" fill="#777"/>
<path d="M788.2 534.6 h2.2" stroke="#888" stroke-width="0.5"/>
<path d="M719.6 562.4 L722.6 560.4" stroke="#666" stroke-width="0.6"/>
<path d="M732.2 562.4 L735.2 560.4" stroke="#666" stroke-width="0.6"/>
<path d="M755.6 562.4 L758.7 560.4" stroke="#666" stroke-width="0.6"/>
<path d="M768.3 562.4 L771.3 560.4" stroke="#666" stroke-width="0.6"/>
<path d="M743.3 563.4 H755.9" stroke="#666" stroke-width="0.7" stroke-dasharray="2 0.6"/>
</svg>
<svg class="abs" style="left:812.1px;top:479.4px" width="140.5" height="87.6" viewBox="812.1 479.4 140.5 87.6">
<rect x="812.6" y="479.9" width="139.5" height="86.6" fill="#fff" stroke="#dadada"/>
<path d="M817.2 497.3 V511.7 M817.2 525.1 V534.4" stroke="#888" stroke-width="0.9" stroke-dasharray="1.4 0.6"/>
<path d="M822.5 498.3 h1.6 M825.7 498.3 h0.9" stroke="#999" stroke-width="0.55"/>
<path d="M822.5 502.9 h1.6 M825.7 502.9 h0.9" stroke="#999" stroke-width="0.55"/>
<path d="M822.5 507.4 h1.6 M825.7 507.4 h0.9" stroke="#999" stroke-width="0.55"/>
<path d="M822.5 511.7 h1.6 M825.7 511.7 h0.9" stroke="#999" stroke-width="0.55"/>
<path d="M822.5 516.7 h1.6 M825.7 516.7 h0.9" stroke="#999" stroke-width="0.55"/>
<path d="M822.5 525.1 h1.6 M825.7 525.1 h0.9" stroke="#999" stroke-width="0.55"/>
<path d="M822.5 528.1 h1.6 M825.7 528.1 h0.9" stroke="#999" stroke-width="0.55"/>
<path d="M822.5 531.4 h1.6 M825.7 531.4 h0.9" stroke="#999" stroke-width="0.55"/>
<circle cx="850.4" cy="498.2" r="0.48" fill="#2f338f"/>
<circle cx="851.0" cy="498.3" r="0.48" fill="#2f338f"/>
<circle cx="851.8" cy="497.8" r="0.48" fill="#2f338f"/>
<circle cx="853.3" cy="497.1" r="0.48" fill="#2f338f"/>
<circle cx="853.9" cy="497.3" r="0.48" fill="#2f338f"/>
<circle cx="854.3" cy="496.8" r="0.48" fill="#2f338f"/>
<circle cx="855.7" cy="496.6" r="0.48" fill="#2f338f"/>
<circle cx="856.5" cy="496.1" r="0.48" fill="#2f338f"/>
<circle cx="857.0" cy="495.8" r="0.48" fill="#2f338f"/>
<circle cx="858.0" cy="496.1" r="0.48" fill="#2f338f"/>
<circle cx="858.9" cy="495.7" r="0.48" fill="#2f338f"/>
<circle cx="859.6" cy="495.4" r="0.48" fill="#2f338f"/>
<circle cx="860.2" cy="494.8" r="0.48" fill="#2f338f"/>
<circle cx="861.5" cy="494.8" r="0.48" fill="#2f338f"/>
<circle cx="862.2" cy="494.0" r="0.48" fill="#2f338f"/>
<circle cx="862.9" cy="493.9" r="0.48" fill="#2f338f"/>
<circle cx="863.7" cy="494.1" r="0.48" fill="#2f338f"/>
<circle cx="864.5" cy="493.8" r="0.48" fill="#2f338f"/>
<circle cx="865.9" cy="492.9" r="0.48" fill="#2f338f"/>
<circle cx="866.3" cy="492.9" r="0.48" fill="#2f338f"/>
<circle cx="866.9" cy="492.6" r="0.48" fill="#2f338f"/>
<circle cx="868.4" cy="492.1" r="0.48" fill="#2f338f"/>
<circle cx="869.0" cy="491.8" r="0.48" fill="#2f338f"/>
<circle cx="869.8" cy="492.1" r="0.48" fill="#2f338f"/>
<circle cx="870.4" cy="491.1" r="0.48" fill="#2f338f"/>
<circle cx="871.2" cy="491.3" r="0.48" fill="#2f338f"/>
<circle cx="871.9" cy="490.6" r="0.48" fill="#2f338f"/>
<circle cx="873.1" cy="491.0" r="0.48" fill="#2f338f"/>
<circle cx="873.9" cy="490.3" r="0.48" fill="#2f338f"/>
<circle cx="874.9" cy="489.8" r="0.48" fill="#2f338f"/>
<circle cx="875.7" cy="489.6" r="0.48" fill="#2f338f"/>
<circle cx="876.6" cy="489.9" r="0.48" fill="#2f338f"/>
<circle cx="877.0" cy="489.3" r="0.48" fill="#2f338f"/>
<circle cx="878.3" cy="488.7" r="0.48" fill="#2f338f"/>
<circle cx="891.9" cy="498.2" r="0.48" fill="#d8709a"/>
<circle cx="893.9" cy="497.0" r="0.48" fill="#d8709a"/>
<circle cx="895.2" cy="497.2" r="0.48" fill="#d8709a"/>
<circle cx="896.3" cy="496.5" r="0.48" fill="#d8709a"/>
<circle cx="897.6" cy="495.8" r="0.48" fill="#d8709a"/>
<circle cx="899.6" cy="495.5" r="0.48" fill="#d8709a"/>
<circle cx="901.2" cy="494.6" r="0.48" fill="#d8709a"/>
<circle cx="902.3" cy="494.8" r="0.48" fill="#d8709a"/>
<circle cx="904.0" cy="494.0" r="0.48" fill="#d8709a"/>
<circle cx="905.3" cy="493.9" r="0.48" fill="#d8709a"/>
<circle cx="906.9" cy="492.7" r="0.48" fill="#d8709a"/>
<circle cx="908.6" cy="492.5" r="0.48" fill="#d8709a"/>
<circle cx="909.8" cy="491.9" r="0.48" fill="#d8709a"/>
<circle cx="911.3" cy="491.5" r="0.48" fill="#d8709a"/>
<circle cx="912.5" cy="491.3" r="0.48" fill="#d8709a"/>
<circle cx="914.0" cy="490.9" r="0.48" fill="#d8709a"/>
<circle cx="915.4" cy="490.5" r="0.48" fill="#d8709a"/>
<circle cx="917.5" cy="489.8" r="0.48" fill="#d8709a"/>
<circle cx="892.7" cy="497.6" r="0.48" fill="#7a7ac0"/>
<circle cx="896.2" cy="496.6" r="0.48" fill="#7a7ac0"/>
<circle cx="899.3" cy="496.0" r="0.48" fill="#7a7ac0"/>
<circle cx="902.9" cy="494.4" r="0.48" fill="#7a7ac0"/>
<circle cx="906.7" cy="493.2" r="0.48" fill="#7a7ac0"/>
<circle cx="910.0" cy="492.0" r="0.48" fill="#7a7ac0"/>
<circle cx="913.6" cy="490.9" r="0.48" fill="#7a7ac0"/>
<circle cx="916.4" cy="490.4" r="0.48" fill="#7a7ac0"/>
<circle cx="920.8" cy="498.2" r="0.48" fill="#2f338f"/>
<circle cx="922.3" cy="497.6" r="0.48" fill="#2f338f"/>
<circle cx="922.5" cy="496.9" r="0.48" fill="#2f338f"/>
<circle cx="923.5" cy="496.8" r="0.48" fill="#2f338f"/>
<circle cx="924.7" cy="497.0" r="0.48" fill="#2f338f"/>
<circle cx="925.4" cy="496.0" r="0.48" fill="#2f338f"/>
<circle cx="926.4" cy="495.7" r="0.48" fill="#2f338f"/>
<circle cx="927.0" cy="495.8" r="0.48" fill="#2f338f"/>
<circle cx="928.3" cy="495.1" r="0.48" fill="#2f338f"/>
<circle cx="929.0" cy="495.3" r="0.48" fill="#2f338f"/>
<circle cx="930.1" cy="494.7" r="0.48" fill="#2f338f"/>
<circle cx="931.1" cy="494.3" r="0.48" fill="#2f338f"/>
<circle cx="931.9" cy="494.5" r="0.48" fill="#2f338f"/>
<circle cx="932.9" cy="493.9" r="0.48" fill="#2f338f"/>
<circle cx="933.2" cy="493.3" r="0.48" fill="#2f338f"/>
<circle cx="934.4" cy="493.1" r="0.48" fill="#2f338f"/>
<circle cx="935.3" cy="492.7" r="0.48" fill="#2f338f"/>
<circle cx="936.3" cy="492.5" r="0.48" fill="#2f338f"/>
<circle cx="936.7" cy="492.2" r="0.48" fill="#2f338f"/>
<circle cx="937.9" cy="492.2" r="0.48" fill="#2f338f"/>
<circle cx="938.7" cy="491.6" r="0.48" fill="#2f338f"/>
<circle cx="939.7" cy="491.9" r="0.48" fill="#2f338f"/>
<circle cx="940.6" cy="491.6" r="0.48" fill="#2f338f"/>
<circle cx="941.1" cy="491.3" r="0.48" fill="#2f338f"/>
<circle cx="942.6" cy="490.7" r="0.48" fill="#2f338f"/>
<circle cx="943.3" cy="490.4" r="0.48" fill="#2f338f"/>
<circle cx="944.4" cy="489.7" r="0.48" fill="#2f338f"/>
<circle cx="945.1" cy="489.8" r="0.48" fill="#2f338f"/>
<circle cx="860.4" cy="499.8" r="0.48" fill="#e6b0c0"/>
<circle cx="862.1" cy="499.3" r="0.48" fill="#e6b0c0"/>
<circle cx="863.6" cy="499.5" r="0.48" fill="#e6b0c0"/>
<circle cx="864.9" cy="499.7" r="0.48" fill="#e6b0c0"/>
<circle cx="866.0" cy="499.7" r="0.48" fill="#e6b0c0"/>
<circle cx="867.6" cy="499.9" r="0.48" fill="#e6b0c0"/>
<circle cx="869.0" cy="499.8" r="0.48" fill="#e6b0c0"/>
<circle cx="870.8" cy="499.7" r="0.48" fill="#e6b0c0"/>
<circle cx="898.6" cy="499.2" r="0.48" fill="#e6b0c0"/>
<circle cx="899.9" cy="499.7" r="0.48" fill="#e6b0c0"/>
<circle cx="901.4" cy="499.5" r="0.48" fill="#e6b0c0"/>
<circle cx="902.4" cy="499.3" r="0.48" fill="#e6b0c0"/>
<circle cx="904.3" cy="499.3" r="0.48" fill="#e6b0c0"/>
<circle cx="905.4" cy="499.5" r="0.48" fill="#e6b0c0"/>
<circle cx="907.2" cy="499.6" r="0.48" fill="#e6b0c0"/>
<circle cx="919.9" cy="506.9" r="0.48" fill="#c0c0c0"/>
<circle cx="921.3" cy="506.9" r="0.48" fill="#c0c0c0"/>
<circle cx="922.2" cy="507.0" r="0.48" fill="#c0c0c0"/>
<circle cx="923.8" cy="507.0" r="0.48" fill="#c0c0c0"/>
<circle cx="925.2" cy="506.9" r="0.48" fill="#c0c0c0"/>
<circle cx="841.6" cy="514.1" r="0.42" fill="#bdbdbd"/>
<circle cx="850.1" cy="515.0" r="0.42" fill="#bdbdbd"/>
<circle cx="841.8" cy="514.8" r="0.42" fill="#a8a8a8"/>
<circle cx="868.0" cy="514.6" r="0.42" fill="#a8a8a8"/>
<circle cx="877.5" cy="513.6" r="0.42" fill="#a8a8a8"/>
<circle cx="854.5" cy="514.3" r="0.42" fill="#cfcfcf"/>
<circle cx="906.9" cy="514.4" r="0.42" fill="#cfcfcf"/>
<circle cx="924.8" cy="514.3" r="0.42" fill="#a8a8a8"/>
<circle cx="926.5" cy="513.5" r="0.42" fill="#cfcfcf"/>
<circle cx="878.3" cy="514.3" r="0.42" fill="#cfcfcf"/>
<circle cx="891.2" cy="514.5" r="0.42" fill="#cfcfcf"/>
<circle cx="844.2" cy="514.8" r="0.42" fill="#a8a8a8"/>
<circle cx="910.5" cy="516.0" r="0.42" fill="#9a9a9a"/>
<circle cx="923.5" cy="514.2" r="0.42" fill="#cfcfcf"/>
<circle cx="927.2" cy="515.1" r="0.42" fill="#bdbdbd"/>
<circle cx="872.4" cy="514.9" r="0.42" fill="#cfcfcf"/>
<circle cx="879.9" cy="513.5" r="0.42" fill="#9a9a9a"/>
<circle cx="873.8" cy="515.9" r="0.42" fill="#a8a8a8"/>
<circle cx="858.5" cy="513.3" r="0.42" fill="#9a9a9a"/>
<circle cx="874.7" cy="514.8" r="0.42" fill="#bdbdbd"/>
<circle cx="863.8" cy="514.8" r="0.42" fill="#cfcfcf"/>
<circle cx="885.1" cy="514.6" r="0.42" fill="#bdbdbd"/>
<circle cx="852.0" cy="513.2" r="0.42" fill="#a8a8a8"/>
<circle cx="864.6" cy="515.9" r="0.42" fill="#9a9a9a"/>
<circle cx="926.6" cy="512.7" r="0.42" fill="#9a9a9a"/>
<circle cx="852.0" cy="513.2" r="0.42" fill="#cfcfcf"/>
<circle cx="838.6" cy="514.0" r="0.42" fill="#bdbdbd"/>
<circle cx="917.2" cy="513.6" r="0.42" fill="#cfcfcf"/>
<circle cx="906.9" cy="514.8" r="0.42" fill="#9a9a9a"/>
<circle cx="902.3" cy="513.4" r="0.42" fill="#cfcfcf"/>
<circle cx="922.2" cy="514.6" r="0.42" fill="#cfcfcf"/>
<circle cx="835.2" cy="515.1" r="0.42" fill="#bdbdbd"/>
<circle cx="863.7" cy="514.1" r="0.42" fill="#9a9a9a"/>
<circle cx="895.5" cy="513.4" r="0.42" fill="#9a9a9a"/>
<circle cx="869.7" cy="512.9" r="0.42" fill="#cfcfcf"/>
<circle cx="866.7" cy="513.5" r="0.42" fill="#cfcfcf"/>
<circle cx="851.1" cy="515.5" r="0.42" fill="#bdbdbd"/>
<circle cx="887.7" cy="513.9" r="0.42" fill="#a8a8a8"/>
<circle cx="861.4" cy="515.0" r="0.42" fill="#9a9a9a"/>
<circle cx="921.3" cy="514.0" r="0.42" fill="#a8a8a8"/>
<circle cx="858.1" cy="515.1" r="0.42" fill="#bdbdbd"/>
<circle cx="848.8" cy="515.2" r="0.42" fill="#bdbdbd"/>
<circle cx="905.4" cy="513.8" r="0.42" fill="#cfcfcf"/>
<circle cx="923.3" cy="515.5" r="0.42" fill="#a8a8a8"/>
<circle cx="888.5" cy="512.3" r="0.42" fill="#a8a8a8"/>
<circle cx="876.1" cy="513.9" r="0.42" fill="#cfcfcf"/>
<circle cx="852.0" cy="512.6" r="0.42" fill="#bdbdbd"/>
<circle cx="882.2" cy="513.9" r="0.42" fill="#9a9a9a"/>
<circle cx="832.0" cy="514.2" r="0.42" fill="#cfcfcf"/>
<circle cx="880.3" cy="514.4" r="0.42" fill="#a8a8a8"/>
<circle cx="868.0" cy="515.0" r="0.42" fill="#9a9a9a"/>
<circle cx="893.8" cy="512.7" r="0.42" fill="#bdbdbd"/>
<circle cx="886.3" cy="516.5" r="0.42" fill="#a8a8a8"/>
<circle cx="919.5" cy="513.3" r="0.42" fill="#cfcfcf"/>
<circle cx="919.3" cy="514.7" r="0.42" fill="#bdbdbd"/>
<circle cx="906.6" cy="512.1" r="0.42" fill="#a8a8a8"/>
<circle cx="923.7" cy="513.2" r="0.42" fill="#bdbdbd"/>
<circle cx="833.8" cy="514.1" r="0.42" fill="#bdbdbd"/>
<circle cx="896.3" cy="513.7" r="0.42" fill="#cfcfcf"/>
<circle cx="860.6" cy="515.7" r="0.42" fill="#a8a8a8"/>
<circle cx="838.6" cy="514.8" r="0.42" fill="#9a9a9a"/>
<circle cx="926.9" cy="513.9" r="0.42" fill="#a8a8a8"/>
<circle cx="862.3" cy="515.5" r="0.42" fill="#bdbdbd"/>
<circle cx="894.3" cy="512.9" r="0.42" fill="#9a9a9a"/>
<circle cx="915.0" cy="515.0" r="0.42" fill="#bdbdbd"/>
<circle cx="913.6" cy="512.5" r="0.42" fill="#a8a8a8"/>
<circle cx="926.4" cy="513.9" r="0.42" fill="#9a9a9a"/>
<circle cx="905.4" cy="514.9" r="0.42" fill="#a8a8a8"/>
<circle cx="881.9" cy="513.8" r="0.42" fill="#cfcfcf"/>
<circle cx="891.9" cy="514.5" r="0.42" fill="#cfcfcf"/>
<circle cx="884.4" cy="515.9" r="0.42" fill="#9a9a9a"/>
<circle cx="862.0" cy="514.4" r="0.42" fill="#a8a8a8"/>
<circle cx="851.5" cy="515.5" r="0.42" fill="#a8a8a8"/>
<circle cx="856.3" cy="514.6" r="0.42" fill="#cfcfcf"/>
<circle cx="853.4" cy="515.0" r="0.42" fill="#cfcfcf"/>
<circle cx="867.8" cy="515.6" r="0.42" fill="#cfcfcf"/>
<circle cx="863.1" cy="515.5" r="0.42" fill="#a8a8a8"/>
<circle cx="844.3" cy="513.9" r="0.42" fill="#bdbdbd"/>
<circle cx="839.9" cy="514.6" r="0.42" fill="#9a9a9a"/>
<circle cx="866.6" cy="515.1" r="0.42" fill="#a8a8a8"/>
<circle cx="840.4" cy="513.7" r="0.42" fill="#bdbdbd"/>
<circle cx="836.9" cy="515.0" r="0.42" fill="#bdbdbd"/>
<circle cx="881.5" cy="515.0" r="0.42" fill="#bdbdbd"/>
<circle cx="920.2" cy="513.8" r="0.42" fill="#cfcfcf"/>
<circle cx="902.9" cy="513.5" r="0.42" fill="#bdbdbd"/>
<circle cx="927.8" cy="514.4" r="0.42" fill="#cfcfcf"/>
<circle cx="858.5" cy="514.2" r="0.42" fill="#9a9a9a"/>
<circle cx="905.3" cy="515.4" r="0.42" fill="#a8a8a8"/>
<circle cx="836.7" cy="513.5" r="0.42" fill="#bdbdbd"/>
<circle cx="872.0" cy="515.6" r="0.42" fill="#cfcfcf"/>
<circle cx="875.9" cy="516.5" r="0.42" fill="#9a9a9a"/>
<circle cx="881.6" cy="515.4" r="0.42" fill="#bdbdbd"/>
<circle cx="837.4" cy="515.5" r="0.42" fill="#cfcfcf"/>
<circle cx="873.1" cy="515.4" r="0.42" fill="#a8a8a8"/>
<circle cx="861.7" cy="515.1" r="0.42" fill="#bdbdbd"/>
<circle cx="927.8" cy="514.8" r="0.42" fill="#9a9a9a"/>
<circle cx="847.8" cy="515.2" r="0.42" fill="#a8a8a8"/>
<circle cx="882.6" cy="514.6" r="0.42" fill="#a8a8a8"/>
<circle cx="851.0" cy="513.8" r="0.42" fill="#cfcfcf"/>
<circle cx="899.7" cy="513.9" r="0.42" fill="#bdbdbd"/>
<circle cx="927.6" cy="515.5" r="0.42" fill="#cfcfcf"/>
<circle cx="845.3" cy="515.0" r="0.42" fill="#9a9a9a"/>
<circle cx="919.4" cy="514.8" r="0.42" fill="#9a9a9a"/>
<circle cx="911.3" cy="515.4" r="0.42" fill="#cfcfcf"/>
<circle cx="928.3" cy="512.7" r="0.42" fill="#a8a8a8"/>
<circle cx="889.7" cy="514.4" r="0.42" fill="#9a9a9a"/>
<circle cx="912.6" cy="515.8" r="0.42" fill="#cfcfcf"/>
<circle cx="838.4" cy="515.2" r="0.42" fill="#9a9a9a"/>
<circle cx="847.2" cy="515.7" r="0.42" fill="#9a9a9a"/>
<circle cx="900.3" cy="514.1" r="0.42" fill="#9a9a9a"/>
<circle cx="924.4" cy="514.3" r="0.42" fill="#cfcfcf"/>
<circle cx="874.5" cy="514.4" r="0.42" fill="#a8a8a8"/>
<circle cx="916.5" cy="513.8" r="0.42" fill="#bdbdbd"/>
<circle cx="858.4" cy="514.2" r="0.42" fill="#cfcfcf"/>
<circle cx="881.8" cy="513.4" r="0.42" fill="#cfcfcf"/>
<circle cx="863.2" cy="514.9" r="0.42" fill="#bdbdbd"/>
<circle cx="847.1" cy="515.9" r="0.42" fill="#cfcfcf"/>
<circle cx="863.9" cy="514.3" r="0.42" fill="#a8a8a8"/>
<circle cx="918.6" cy="513.8" r="0.42" fill="#a8a8a8"/>
<circle cx="926.5" cy="515.7" r="0.42" fill="#cfcfcf"/>
<circle cx="860.9" cy="515.3" r="0.42" fill="#9a9a9a"/>
<circle cx="837.9" cy="514.8" r="0.42" fill="#9a9a9a"/>
<circle cx="854.2" cy="514.2" r="0.42" fill="#a8a8a8"/>
<circle cx="929.1" cy="515.3" r="0.42" fill="#bdbdbd"/>
<circle cx="913.6" cy="515.3" r="0.42" fill="#a8a8a8"/>
<circle cx="840.3" cy="513.7" r="0.42" fill="#cfcfcf"/>
<circle cx="831.9" cy="515.7" r="0.42" fill="#9a9a9a"/>
<circle cx="903.9" cy="513.5" r="0.42" fill="#bdbdbd"/>
<circle cx="913.9" cy="514.2" r="0.42" fill="#a8a8a8"/>
<circle cx="906.5" cy="517.1" r="0.42" fill="#bdbdbd"/>
<circle cx="856.0" cy="514.0" r="0.42" fill="#bdbdbd"/>
<circle cx="880.0" cy="514.9" r="0.42" fill="#bdbdbd"/>
<circle cx="871.6" cy="514.3" r="0.42" fill="#bdbdbd"/>
<circle cx="871.1" cy="513.8" r="0.42" fill="#a8a8a8"/>
<circle cx="856.4" cy="515.9" r="0.42" fill="#bdbdbd"/>
<circle cx="905.7" cy="514.4" r="0.42" fill="#9a9a9a"/>
<circle cx="844.4" cy="513.2" r="0.42" fill="#9a9a9a"/>
<circle cx="870.2" cy="514.5" r="0.42" fill="#cfcfcf"/>
<circle cx="844.4" cy="513.6" r="0.42" fill="#cfcfcf"/>
<circle cx="885.3" cy="515.9" r="0.42" fill="#a8a8a8"/>
<circle cx="841.7" cy="515.6" r="0.42" fill="#cfcfcf"/>
<circle cx="895.2" cy="514.5" r="0.42" fill="#9a9a9a"/>
<circle cx="885.1" cy="514.4" r="0.42" fill="#9a9a9a"/>
<circle cx="856.5" cy="514.4" r="0.42" fill="#cfcfcf"/>
<circle cx="846.7" cy="516.0" r="0.42" fill="#cfcfcf"/>
<circle cx="891.8" cy="515.1" r="0.42" fill="#9a9a9a"/>
<circle cx="912.5" cy="514.9" r="0.42" fill="#bdbdbd"/>
<circle cx="911.0" cy="514.9" r="0.42" fill="#a8a8a8"/>
<circle cx="898.8" cy="514.6" r="0.42" fill="#9a9a9a"/>
<circle cx="843.8" cy="514.8" r="0.42" fill="#cfcfcf"/>
<circle cx="889.5" cy="513.5" r="0.42" fill="#cfcfcf"/>
<circle cx="841.7" cy="514.6" r="0.42" fill="#bdbdbd"/>
<circle cx="845.2" cy="514.4" r="0.42" fill="#a8a8a8"/>
<circle cx="887.4" cy="514.4" r="0.42" fill="#cfcfcf"/>
<circle cx="895.3" cy="516.0" r="0.42" fill="#bdbdbd"/>
<circle cx="882.9" cy="514.5" r="0.42" fill="#cfcfcf"/>
<circle cx="924.8" cy="514.4" r="0.42" fill="#cfcfcf"/>
<circle cx="897.2" cy="515.0" r="0.42" fill="#bdbdbd"/>
<circle cx="915.4" cy="515.0" r="0.42" fill="#a8a8a8"/>
<circle cx="903.1" cy="515.9" r="0.42" fill="#a8a8a8"/>
<circle cx="915.5" cy="514.4" r="0.42" fill="#bdbdbd"/>
<circle cx="860.8" cy="514.2" r="0.42" fill="#cfcfcf"/>
<circle cx="885.1" cy="512.1" r="0.42" fill="#bdbdbd"/>
<circle cx="897.8" cy="515.5" r="0.42" fill="#bdbdbd"/>
<circle cx="840.3" cy="515.2" r="0.42" fill="#9a9a9a"/>
<circle cx="913.6" cy="514.9" r="0.42" fill="#bdbdbd"/>
<circle cx="902.3" cy="513.8" r="0.42" fill="#a8a8a8"/>
<circle cx="909.1" cy="513.4" r="0.42" fill="#cfcfcf"/>
<circle cx="907.3" cy="514.4" r="0.42" fill="#cfcfcf"/>
<circle cx="900.1" cy="514.8" r="0.42" fill="#bdbdbd"/>
<circle cx="907.1" cy="513.8" r="0.42" fill="#bdbdbd"/>
<circle cx="848.6" cy="512.5" r="0.42" fill="#a8a8a8"/>
<circle cx="873.5" cy="514.2" r="0.42" fill="#a8a8a8"/>
<circle cx="844.1" cy="513.7" r="0.42" fill="#bdbdbd"/>
<circle cx="896.2" cy="513.5" r="0.42" fill="#9a9a9a"/>
<circle cx="862.6" cy="514.1" r="0.42" fill="#9a9a9a"/>
<circle cx="889.8" cy="514.6" r="0.42" fill="#cfcfcf"/>
<circle cx="875.0" cy="515.5" r="0.42" fill="#9a9a9a"/>
<circle cx="888.1" cy="514.8" r="0.42" fill="#a8a8a8"/>
<circle cx="873.3" cy="514.9" r="0.42" fill="#bdbdbd"/>
<circle cx="864.3" cy="513.5" r="0.42" fill="#bdbdbd"/>
<circle cx="837.5" cy="513.5" r="0.42" fill="#cfcfcf"/>
<circle cx="838.0" cy="514.4" r="0.42" fill="#a8a8a8"/>
<circle cx="880.8" cy="516.2" r="0.42" fill="#9a9a9a"/>
<circle cx="872.1" cy="516.7" r="0.42" fill="#bdbdbd"/>
<circle cx="860.1" cy="513.7" r="0.42" fill="#9a9a9a"/>
<circle cx="913.5" cy="513.7" r="0.42" fill="#bdbdbd"/>
<circle cx="850.8" cy="514.4" r="0.42" fill="#a8a8a8"/>
<circle cx="916.2" cy="513.5" r="0.42" fill="#a8a8a8"/>
<circle cx="909.4" cy="516.1" r="0.42" fill="#9a9a9a"/>
<circle cx="929.0" cy="513.7" r="0.42" fill="#a8a8a8"/>
<circle cx="905.1" cy="514.9" r="0.42" fill="#bdbdbd"/>
<circle cx="906.5" cy="515.1" r="0.42" fill="#a8a8a8"/>
<circle cx="908.2" cy="514.2" r="0.42" fill="#9a9a9a"/>
<circle cx="854.3" cy="514.2" r="0.42" fill="#9a9a9a"/>
<circle cx="836.1" cy="516.4" r="0.42" fill="#9a9a9a"/>
<circle cx="841.5" cy="515.3" r="0.42" fill="#9a9a9a"/>
<circle cx="891.0" cy="514.8" r="0.42" fill="#cfcfcf"/>
<circle cx="865.3" cy="515.5" r="0.42" fill="#bdbdbd"/>
<circle cx="872.0" cy="514.6" r="0.42" fill="#a8a8a8"/>
<circle cx="905.8" cy="513.7" r="0.42" fill="#a8a8a8"/>
<circle cx="893.3" cy="514.8" r="0.42" fill="#9a9a9a"/>
<circle cx="864.9" cy="514.6" r="0.42" fill="#bdbdbd"/>
<circle cx="854.4" cy="514.4" r="0.42" fill="#9a9a9a"/>
<circle cx="930.1" cy="514.2" r="0.42" fill="#a8a8a8"/>
<circle cx="865.6" cy="513.3" r="0.42" fill="#9a9a9a"/>
<circle cx="896.9" cy="515.0" r="0.42" fill="#cfcfcf"/>
<circle cx="920.5" cy="514.3" r="0.42" fill="#bdbdbd"/>
<circle cx="929.5" cy="515.5" r="0.42" fill="#a8a8a8"/>
<circle cx="924.6" cy="512.9" r="0.42" fill="#a8a8a8"/>
<circle cx="873.2" cy="514.1" r="0.42" fill="#bdbdbd"/>
<circle cx="869.6" cy="515.4" r="0.42" fill="#cfcfcf"/>
<circle cx="873.8" cy="513.9" r="0.42" fill="#a8a8a8"/>
<circle cx="838.6" cy="515.1" r="0.42" fill="#a8a8a8"/>
<circle cx="913.6" cy="514.1" r="0.42" fill="#a8a8a8"/>
<circle cx="908.9" cy="515.0" r="0.42" fill="#bdbdbd"/>
<circle cx="888.5" cy="515.7" r="0.42" fill="#cfcfcf"/>
<circle cx="922.5" cy="513.9" r="0.42" fill="#bdbdbd"/>
<circle cx="860.4" cy="512.5" r="0.42" fill="#a8a8a8"/>
<circle cx="915.6" cy="514.5" r="0.42" fill="#bdbdbd"/>
<circle cx="880.8" cy="514.5" r="0.42" fill="#9a9a9a"/>
<circle cx="853.1" cy="513.1" r="0.42" fill="#a8a8a8"/>
<circle cx="861.6" cy="514.7" r="0.42" fill="#cfcfcf"/>
<circle cx="908.5" cy="514.6" r="0.42" fill="#9a9a9a"/>
<circle cx="853.5" cy="514.0" r="0.42" fill="#a8a8a8"/>
<circle cx="831.2" cy="515.0" r="0.42" fill="#cfcfcf"/>
<circle cx="839.1" cy="515.3" r="0.42" fill="#a8a8a8"/>
<circle cx="841.0" cy="513.6" r="0.42" fill="#cfcfcf"/>
<circle cx="852.8" cy="514.2" r="0.42" fill="#9a9a9a"/>
<circle cx="904.9" cy="514.4" r="0.42" fill="#cfcfcf"/>
<circle cx="876.4" cy="516.2" r="0.42" fill="#9a9a9a"/>
<circle cx="855.5" cy="514.2" r="0.42" fill="#cfcfcf"/>
<circle cx="897.8" cy="513.1" r="0.42" fill="#a8a8a8"/>
<circle cx="893.3" cy="514.1" r="0.42" fill="#a8a8a8"/>
<circle cx="892.6" cy="515.6" r="0.42" fill="#a8a8a8"/>
<circle cx="863.9" cy="515.3" r="0.42" fill="#a8a8a8"/>
<circle cx="836.2" cy="515.0" r="0.42" fill="#a8a8a8"/>
<circle cx="870.1" cy="514.4" r="0.42" fill="#bdbdbd"/>
<circle cx="889.3" cy="514.2" r="0.42" fill="#a8a8a8"/>
<circle cx="854.8" cy="517.2" r="0.42" fill="#bdbdbd"/>
<circle cx="854.6" cy="513.0" r="0.42" fill="#a8a8a8"/>
<circle cx="921.6" cy="514.9" r="0.42" fill="#9a9a9a"/>
<circle cx="863.3" cy="515.1" r="0.42" fill="#a8a8a8"/>
<circle cx="924.5" cy="514.8" r="0.42" fill="#a8a8a8"/>
<circle cx="914.5" cy="513.9" r="0.42" fill="#bdbdbd"/>
<circle cx="869.1" cy="515.8" r="0.42" fill="#a8a8a8"/>
<circle cx="918.8" cy="515.7" r="0.42" fill="#9a9a9a"/>
<circle cx="907.5" cy="514.6" r="0.42" fill="#a8a8a8"/>
<circle cx="840.8" cy="515.5" r="0.42" fill="#a8a8a8"/>
<circle cx="896.4" cy="513.9" r="0.42" fill="#bdbdbd"/>
<circle cx="928.1" cy="515.2" r="0.42" fill="#bdbdbd"/>
<circle cx="877.9" cy="514.7" r="0.42" fill="#a8a8a8"/>
<circle cx="852.3" cy="514.0" r="0.42" fill="#9a9a9a"/>
<circle cx="872.6" cy="515.1" r="0.42" fill="#cfcfcf"/>
<circle cx="925.7" cy="517.6" r="0.42" fill="#cfcfcf"/>
<circle cx="899.1" cy="516.5" r="0.42" fill="#bdbdbd"/>
<circle cx="860.9" cy="514.3" r="0.42" fill="#bdbdbd"/>
<circle cx="880.2" cy="514.0" r="0.42" fill="#cfcfcf"/>
<circle cx="888.9" cy="515.3" r="0.42" fill="#cfcfcf"/>
<circle cx="879.6" cy="515.6" r="0.42" fill="#bdbdbd"/>
<circle cx="926.2" cy="515.8" r="0.42" fill="#a8a8a8"/>
<circle cx="873.6" cy="515.4" r="0.42" fill="#bdbdbd"/>
<circle cx="912.4" cy="514.0" r="0.42" fill="#a8a8a8"/>
<circle cx="907.4" cy="514.4" r="0.42" fill="#9a9a9a"/>
<circle cx="872.2" cy="515.6" r="0.42" fill="#cfcfcf"/>
<circle cx="862.6" cy="514.6" r="0.42" fill="#bdbdbd"/>
<circle cx="839.9" cy="514.7" r="0.42" fill="#9a9a9a"/>
<circle cx="900.6" cy="514.4" r="0.42" fill="#9a9a9a"/>
<circle cx="874.3" cy="512.7" r="0.42" fill="#9a9a9a"/>
<circle cx="883.9" cy="513.4" r="0.42" fill="#cfcfcf"/>
<circle cx="894.4" cy="514.7" r="0.42" fill="#bdbdbd"/>
<circle cx="907.9" cy="513.3" r="0.42" fill="#9a9a9a"/>
<circle cx="905.9" cy="514.8" r="0.42" fill="#9a9a9a"/>
<circle cx="834.8" cy="514.1" r="0.42" fill="#bdbdbd"/>
<circle cx="895.4" cy="515.5" r="0.42" fill="#9a9a9a"/>
<circle cx="910.5" cy="516.0" r="0.42" fill="#bdbdbd"/>
<circle cx="845.8" cy="515.6" r="0.42" fill="#9a9a9a"/>
<circle cx="848.4" cy="514.3" r="0.42" fill="#bdbdbd"/>
<circle cx="914.6" cy="513.6" r="0.42" fill="#bdbdbd"/>
<circle cx="884.4" cy="514.9" r="0.42" fill="#a8a8a8"/>
<circle cx="900.9" cy="515.6" r="0.42" fill="#a8a8a8"/>
<circle cx="849.8" cy="513.3" r="0.42" fill="#9a9a9a"/>
<circle cx="834.4" cy="514.0" r="0.42" fill="#bdbdbd"/>
<circle cx="927.3" cy="513.2" r="0.42" fill="#a8a8a8"/>
<circle cx="860.6" cy="513.4" r="0.42" fill="#a8a8a8"/>
<circle cx="898.2" cy="513.0" r="0.42" fill="#cfcfcf"/>
<circle cx="929.1" cy="516.1" r="0.42" fill="#9a9a9a"/>
<circle cx="849.7" cy="515.5" r="0.42" fill="#9a9a9a"/>
<circle cx="849.9" cy="513.8" r="0.42" fill="#9a9a9a"/>
<circle cx="912.6" cy="515.9" r="0.42" fill="#cfcfcf"/>
<circle cx="874.1" cy="513.8" r="0.42" fill="#cfcfcf"/>
<circle cx="902.6" cy="515.5" r="0.42" fill="#9a9a9a"/>
<circle cx="928.5" cy="513.4" r="0.42" fill="#cfcfcf"/>
<circle cx="858.0" cy="514.1" r="0.42" fill="#9a9a9a"/>
<circle cx="916.9" cy="514.8" r="0.42" fill="#bdbdbd"/>
<circle cx="922.6" cy="513.0" r="0.42" fill="#cfcfcf"/>
<circle cx="840.4" cy="514.0" r="0.42" fill="#cfcfcf"/>
<circle cx="918.3" cy="514.8" r="0.42" fill="#a8a8a8"/>
<circle cx="858.2" cy="515.3" r="0.42" fill="#a8a8a8"/>
<circle cx="874.5" cy="515.0" r="0.42" fill="#a8a8a8"/>
<circle cx="874.4" cy="514.5" r="0.42" fill="#9a9a9a"/>
<circle cx="877.2" cy="512.9" r="0.42" fill="#bdbdbd"/>
<circle cx="844.2" cy="514.5" r="0.42" fill="#9a9a9a"/>
<circle cx="866.3" cy="515.8" r="0.42" fill="#9a9a9a"/>
<circle cx="897.8" cy="516.1" r="0.42" fill="#cfcfcf"/>
<circle cx="916.1" cy="515.2" r="0.42" fill="#9a9a9a"/>
<circle cx="918.6" cy="513.5" r="0.42" fill="#9a9a9a"/>
<circle cx="870.2" cy="514.5" r="0.42" fill="#a8a8a8"/>
<circle cx="886.5" cy="514.2" r="0.42" fill="#bdbdbd"/>
<circle cx="834.9" cy="515.5" r="0.42" fill="#9a9a9a"/>
<circle cx="896.2" cy="515.2" r="0.42" fill="#cfcfcf"/>
<circle cx="833.6" cy="513.8" r="0.42" fill="#cfcfcf"/>
<circle cx="849.7" cy="513.9" r="0.42" fill="#a8a8a8"/>
<circle cx="864.5" cy="514.9" r="0.42" fill="#a8a8a8"/>
<circle cx="897.3" cy="514.7" r="0.42" fill="#9a9a9a"/>
<circle cx="870.7" cy="514.1" r="0.42" fill="#9a9a9a"/>
<circle cx="921.0" cy="513.4" r="0.42" fill="#cfcfcf"/>
<circle cx="915.7" cy="513.3" r="0.42" fill="#a8a8a8"/>
<circle cx="894.8" cy="514.0" r="0.42" fill="#9a9a9a"/>
<circle cx="849.1" cy="514.6" r="0.42" fill="#cfcfcf"/>
<circle cx="851.7" cy="512.7" r="0.42" fill="#bdbdbd"/>
<circle cx="894.7" cy="515.4" r="0.42" fill="#9a9a9a"/>
<circle cx="900.1" cy="514.9" r="0.42" fill="#9a9a9a"/>
<circle cx="885.6" cy="513.3" r="0.42" fill="#cfcfcf"/>
<circle cx="864.0" cy="516.4" r="0.42" fill="#bdbdbd"/>
<circle cx="834.6" cy="515.3" r="0.42" fill="#cfcfcf"/>
<circle cx="891.8" cy="514.5" r="0.42" fill="#9a9a9a"/>
<circle cx="834.1" cy="514.0" r="0.42" fill="#bdbdbd"/>
<circle cx="871.3" cy="514.3" r="0.42" fill="#9a9a9a"/>
<circle cx="919.2" cy="514.2" r="0.42" fill="#9a9a9a"/>
<circle cx="859.3" cy="509.5" r="0.35" fill="#cfcfcf"/>
<circle cx="910.2" cy="509.4" r="0.35" fill="#cfcfcf"/>
<circle cx="894.6" cy="508.6" r="0.35" fill="#cfcfcf"/>
<circle cx="870.8" cy="508.3" r="0.35" fill="#cfcfcf"/>
<circle cx="868.6" cy="508.9" r="0.35" fill="#cfcfcf"/>
<circle cx="913.0" cy="506.9" r="0.35" fill="#cfcfcf"/>
<circle cx="900.6" cy="505.9" r="0.35" fill="#cfcfcf"/>
<circle cx="844.3" cy="506.3" r="0.35" fill="#cfcfcf"/>
<circle cx="861.8" cy="507.6" r="0.35" fill="#cfcfcf"/>
<circle cx="870.4" cy="510.0" r="0.35" fill="#cfcfcf"/>
<circle cx="841.3" cy="509.8" r="0.35" fill="#cfcfcf"/>
<circle cx="857.5" cy="506.9" r="0.35" fill="#cfcfcf"/>
<circle cx="877.3" cy="507.6" r="0.35" fill="#cfcfcf"/>
<circle cx="886.2" cy="505.5" r="0.35" fill="#cfcfcf"/>
<circle cx="888.3" cy="505.6" r="0.35" fill="#cfcfcf"/>
<circle cx="850.7" cy="506.8" r="0.35" fill="#cfcfcf"/>
<circle cx="881.1" cy="509.1" r="0.35" fill="#cfcfcf"/>
<circle cx="839.5" cy="505.5" r="0.35" fill="#cfcfcf"/>
<circle cx="872.4" cy="506.5" r="0.35" fill="#cfcfcf"/>
<circle cx="898.9" cy="509.5" r="0.35" fill="#cfcfcf"/>
<circle cx="915.3" cy="510.4" r="0.35" fill="#cfcfcf"/>
<circle cx="920.3" cy="506.6" r="0.35" fill="#cfcfcf"/>
<circle cx="885.9" cy="506.0" r="0.35" fill="#cfcfcf"/>
<circle cx="883.9" cy="508.9" r="0.35" fill="#cfcfcf"/>
<circle cx="891.6" cy="510.3" r="0.35" fill="#cfcfcf"/>
<circle cx="869.3" cy="507.5" r="0.35" fill="#cfcfcf"/>
<circle cx="915.0" cy="509.4" r="0.35" fill="#cfcfcf"/>
<circle cx="852.7" cy="507.4" r="0.35" fill="#cfcfcf"/>
<circle cx="904.0" cy="505.7" r="0.35" fill="#cfcfcf"/>
<circle cx="907.5" cy="509.9" r="0.35" fill="#cfcfcf"/>
<circle cx="892.9" cy="506.0" r="0.35" fill="#cfcfcf"/>
<circle cx="884.6" cy="506.2" r="0.35" fill="#cfcfcf"/>
<circle cx="913.9" cy="506.6" r="0.35" fill="#cfcfcf"/>
<circle cx="841.0" cy="507.7" r="0.35" fill="#cfcfcf"/>
<circle cx="857.2" cy="509.7" r="0.35" fill="#cfcfcf"/>
<circle cx="852.1" cy="506.0" r="0.35" fill="#cfcfcf"/>
<circle cx="869.1" cy="507.6" r="0.35" fill="#cfcfcf"/>
<circle cx="883.6" cy="510.2" r="0.35" fill="#cfcfcf"/>
<circle cx="871.2" cy="509.8" r="0.35" fill="#cfcfcf"/>
<circle cx="848.0" cy="507.8" r="0.35" fill="#cfcfcf"/>
<path d="M881.5 499.1 V511.9" stroke="#ee9aa4" stroke-width="0.5"/>
<path d="M881.5 499.3 H912.2" stroke="#f0b8c0" stroke-width="0.4"/>
<circle cx="881.5" cy="511.9" r="0.8" fill="#d03040"/>
<path d="M927.4 510.7 H942.5" stroke="#e05a6a" stroke-width="0.7" stroke-dasharray="1.6 0.7"/>
<path d="M831.5 525.1 H859.3" stroke="#8a8a8a" stroke-width="0.9" stroke-dasharray="1.8 0.5 1 0.5"/>
<path d="M878.2 525.1 h2" stroke="#aaa" stroke-width="0.6"/>
<path d="M866.3 529.8 H888.3" stroke="#e890a0" stroke-width="0.7" stroke-dasharray="1.2 1.4"/>
<path d="M888.3 531.6 H899.6" stroke="#d8405a" stroke-width="0.8" stroke-dasharray="1.6 0.6"/>
<path d="M871.9 545.0 H880.7 M887.0 546.2 H894.1" stroke="#bdbdbd" stroke-width="0.6" stroke-dasharray="1.4 0.6"/>
<path d="M880.0 553.3 h4" stroke="#999" stroke-width="0.6"/>
<path d="M840.4 557.1 H940.0" stroke="#8a8a8a" stroke-width="0.7"/>
<path d="M838.6 560.6 h3.4" stroke="#999" stroke-width="0.6" stroke-dasharray="1 0.5"/>
<path d="M855.0 560.6 h3.4" stroke="#999" stroke-width="0.6" stroke-dasharray="1 0.5"/>
<path d="M872.6 560.6 h3.4" stroke="#999" stroke-width="0.6" stroke-dasharray="1 0.5"/>
<path d="M887.8 560.6 h3.4" stroke="#999" stroke-width="0.6" stroke-dasharray="1 0.5"/>
<path d="M904.9 560.6 h3.4" stroke="#999" stroke-width="0.6" stroke-dasharray="1 0.5"/>
<path d="M921.8 560.6 h3.4" stroke="#999" stroke-width="0.6" stroke-dasharray="1 0.5"/>
<path d="M938.2 560.6 h3.4" stroke="#999" stroke-width="0.6" stroke-dasharray="1 0.5"/>
<path d="M875.7 563.4 H897.1" stroke="#999" stroke-width="0.7" stroke-dasharray="1.6 0.6"/>
</svg>
<svg class="abs" style="left:962.2px;top:479.4px" width="141.7" height="87.8" viewBox="962.2 479.4 141.7 87.8">
<rect x="962.7" y="479.9" width="140.7" height="86.8" fill="#fff" stroke="#dadada"/>
<path d="M984.1 485.6 H1088.8" stroke="#bababa" stroke-width="1.5"/>
<path d="M984.1 500.7 H1088.8" stroke="#bababa" stroke-width="1.5"/>
<path d="M984.1 515.6 H1088.8" stroke="#bababa" stroke-width="1.5"/>
<path d="M984.1 530.7 H1088.8" stroke="#bababa" stroke-width="1.5"/>
<path d="M984.1 545.9 H1088.8" stroke="#bababa" stroke-width="1.5"/>
<rect x="978.1" y="483.9" width="4.7" height="3.4" fill="#000"/>
<rect x="978.1" y="499.0" width="4.7" height="3.4" fill="#000"/>
<rect x="978.1" y="513.9" width="4.7" height="3.4" fill="#000"/>
<rect x="978.1" y="529.0" width="4.7" height="3.4" fill="#000"/>
<rect x="978.1" y="544.2" width="4.7" height="3.4" fill="#000"/>
<rect x="978.1" y="559.0" width="4.7" height="3.4" fill="#000"/>
<circle cx="994.2" cy="552.9" r="2.1" fill="#cdcdcd"/>
<circle cx="991.7" cy="556.2" r="2.1" fill="#cdcdcd"/>
<circle cx="998.0" cy="554.7" r="2.1" fill="#cdcdcd"/>
<circle cx="1025.7" cy="549.2" r="2.1" fill="#cdcdcd"/>
<circle cx="1029.5" cy="547.9" r="2.1" fill="#cdcdcd"/>
<circle cx="1027.7" cy="552.2" r="2.1" fill="#cdcdcd"/>
<circle cx="1040.9" cy="547.9" r="2.1" fill="#cdcdcd"/>
<circle cx="1043.4" cy="551.2" r="2.1" fill="#cdcdcd"/>
<circle cx="1045.9" cy="554.2" r="2.1" fill="#cdcdcd"/>
<circle cx="1039.6" cy="554.7" r="2.1" fill="#cdcdcd"/>
<circle cx="1058.5" cy="541.1" r="2.1" fill="#cdcdcd"/>
<circle cx="1061.8" cy="532.8" r="2.1" fill="#cdcdcd"/>
<circle cx="1065.3" cy="526.0" r="2.1" fill="#cdcdcd"/>
<circle cx="1069.9" cy="522.2" r="2.1" fill="#cdcdcd"/>
<circle cx="1069.9" cy="530.2" r="2.1" fill="#cdcdcd"/>
<circle cx="1071.1" cy="536.5" r="2.1" fill="#cdcdcd"/>
<circle cx="1074.9" cy="539.6" r="2.1" fill="#cdcdcd"/>
<circle cx="1077.9" cy="544.1" r="2.1" fill="#cdcdcd"/>
<circle cx="1079.9" cy="548.6" r="2.1" fill="#cdcdcd"/>
<circle cx="1082.5" cy="551.7" r="2.1" fill="#cdcdcd"/>
<circle cx="1085.0" cy="552.9" r="2.1" fill="#cdcdcd"/>
<circle cx="1088.8" cy="556.2" r="2.1" fill="#cdcdcd"/>
<circle cx="1060.5" cy="536.5" r="2.1" fill="#cdcdcd"/>
<circle cx="1077.4" cy="546.6" r="2.1" fill="#cdcdcd"/>
<circle cx="1054.7" cy="556.7" r="2.1" fill="#cdcdcd"/>
<circle cx="1048.4" cy="556.2" r="2.1" fill="#cdcdcd"/>
<path d="M980.3 563.0 H1089.3" stroke="#000" stroke-width="1.6"/>
<path d="M985.4 563.0 V567.1" stroke="#000" stroke-width="1.3"/>
<path d="M1013.9 563.0 V567.1" stroke="#000" stroke-width="1.3"/>
<path d="M1042.9 563.0 V567.1" stroke="#000" stroke-width="1.3"/>
<path d="M1071.6 563.0 V567.1" stroke="#000" stroke-width="1.3"/>
<circle cx="986.6" cy="558.7" r="1.9" fill="#000"/>
<circle cx="989.7" cy="557.7" r="1.9" fill="#000"/>
<circle cx="992.4" cy="559.2" r="1.9" fill="#000"/>
<circle cx="996.0" cy="556.2" r="1.9" fill="#000"/>
<circle cx="998.5" cy="554.7" r="1.9" fill="#000"/>
<circle cx="1001.8" cy="551.7" r="1.9" fill="#000"/>
<circle cx="1004.3" cy="552.9" r="1.9" fill="#000"/>
<circle cx="1005.1" cy="547.9" r="1.9" fill="#000"/>
<circle cx="1002.3" cy="544.6" r="1.9" fill="#000"/>
<circle cx="1007.6" cy="541.1" r="1.9" fill="#000"/>
<circle cx="1014.9" cy="540.8" r="1.9" fill="#000"/>
<circle cx="1017.7" cy="542.8" r="1.9" fill="#000"/>
<circle cx="1018.7" cy="546.6" r="1.9" fill="#000"/>
<circle cx="1020.2" cy="549.2" r="1.9" fill="#000"/>
<circle cx="1024.5" cy="552.2" r="1.9" fill="#000"/>
<circle cx="1027.0" cy="554.7" r="1.9" fill="#000"/>
<circle cx="1029.5" cy="556.7" r="1.9" fill="#000"/>
<circle cx="1033.3" cy="558.2" r="1.9" fill="#000"/>
<circle cx="1036.3" cy="553.7" r="1.9" fill="#000"/>
<circle cx="1038.8" cy="556.2" r="1.9" fill="#000"/>
<circle cx="1042.1" cy="557.2" r="1.9" fill="#000"/>
<circle cx="1045.4" cy="557.7" r="1.9" fill="#000"/>
<circle cx="1050.9" cy="559.2" r="1.9" fill="#000"/>
<circle cx="1056.0" cy="558.0" r="1.9" fill="#000"/>
<circle cx="1059.8" cy="556.7" r="1.9" fill="#000"/>
<circle cx="1062.8" cy="549.7" r="1.9" fill="#000"/>
<circle cx="1064.8" cy="552.9" r="1.9" fill="#000"/>
<circle cx="1066.6" cy="555.7" r="1.9" fill="#000"/>
<circle cx="1069.1" cy="557.7" r="1.9" fill="#000"/>
<circle cx="1072.4" cy="558.7" r="1.9" fill="#000"/>
<circle cx="1076.2" cy="558.7" r="1.9" fill="#000"/>
<circle cx="1079.2" cy="558.2" r="1.9" fill="#000"/>
<circle cx="1081.2" cy="554.7" r="1.9" fill="#000"/>
<circle cx="1083.7" cy="557.7" r="1.9" fill="#000"/>
<circle cx="1086.7" cy="557.5" r="1.9" fill="#000"/>
<circle cx="1014.4" cy="509.3" r="2.0" fill="#c41e1e"/>
<circle cx="1013.1" cy="513.3" r="2.0" fill="#c41e1e"/>
<circle cx="1012.4" cy="520.2" r="2.0" fill="#c41e1e"/>
<circle cx="1006.8" cy="524.7" r="2.0" fill="#c41e1e"/>
<circle cx="1016.4" cy="524.4" r="2.0" fill="#c41e1e"/>
<circle cx="1009.3" cy="528.5" r="2.0" fill="#c41e1e"/>
<circle cx="1016.9" cy="518.9" r="2.1" fill="#f5b71e"/>
<circle cx="1004.3" cy="529.7" r="2.1" fill="#f5b71e"/>
<circle cx="1014.9" cy="530.7" r="2.1" fill="#f5b71e"/>
<circle cx="1012.4" cy="520.4" r="18.5" fill="none" stroke="#b01616" stroke-width="4.1"/>
<path d="M1028.8 534.0 L1068.1 561.0" stroke="#b01616" stroke-width="5.4"/>
</svg>
<svg class="abs" style="left:1114px;top:479.4px" width="141.2" height="87.8" viewBox="1114 479.4 141.2 87.8">
<rect x="1114.5" y="479.9" width="140.2" height="86.8" fill="#fff" stroke="#dadada"/>
<path d="M1140.5 480.2 V528.6" stroke="#9a9a9a" stroke-width="0.6"/>
<path d="M1138.7 480.2 H1140.5" stroke="#9a9a9a" stroke-width="0.6"/>
<path d="M1138.7 499.6 H1140.5" stroke="#9a9a9a" stroke-width="0.6"/>
<path d="M1138.7 519.0 H1140.5" stroke="#9a9a9a" stroke-width="0.6"/>
<path d="M1138.7 528.6 H1140.5" stroke="#9a9a9a" stroke-width="0.6"/>
<path d="M1141.7 502.4 H1238.8" stroke="#b5b5b5" stroke-width="0.6" stroke-dasharray="1.3 1.1"/>
<text transform="translate(1133.1 504.4) rotate(-90)" text-anchor="middle" font-family='"Liberation Sans", Arial, sans-serif' font-size="4.6" font-weight="700" fill="#333">-log10 P</text>
<ellipse cx="1146.0" cy="518.2" rx="1.7" ry="0.95" fill="#000"/>
<ellipse cx="1161.4" cy="492.0" rx="1.7" ry="0.95" fill="#000"/>
<ellipse cx="1178.5" cy="485.0" rx="1.7" ry="0.95" fill="#e01010"/>
<ellipse cx="1195.4" cy="499.1" rx="1.7" ry="0.95" fill="#000"/>
<ellipse cx="1211.8" cy="498.1" rx="1.7" ry="0.95" fill="#000"/>
<ellipse cx="1228.2" cy="516.7" rx="1.7" ry="0.95" fill="#000"/>
<path d="M1137.18 535.39 L1145.50 530.60 L1153.82 535.39 L1145.50 540.18 Z" fill="#2d6e63"/>
<path d="M1153.57 535.39 L1161.89 530.60 L1170.21 535.39 L1161.89 540.18 Z" fill="#2d6e63"/>
<path d="M1170.46 535.39 L1178.78 530.60 L1187.10 535.39 L1178.78 540.18 Z" fill="#2d6e63"/>
<path d="M1187.10 535.39 L1195.42 530.60 L1203.74 535.39 L1195.42 540.18 Z" fill="#2d6e63"/>
<path d="M1203.49 535.39 L1211.81 530.60 L1220.13 535.39 L1211.81 540.18 Z" fill="#2d6e63"/>
<path d="M1220.38 535.39 L1228.70 530.60 L1237.02 535.39 L1228.70 540.18 Z" fill="#2d6e63"/>
<path d="M1145.37 540.28 L1153.69 535.49 L1162.01 540.28 L1153.69 545.07 Z" fill="#e3efec"/>
<path d="M1162.01 540.28 L1170.33 535.49 L1178.65 540.28 L1170.33 545.07 Z" fill="#7fb0a5"/>
<path d="M1178.78 540.28 L1187.10 535.49 L1195.42 540.28 L1187.10 545.07 Z" fill="#c8ded8"/>
<path d="M1195.30 540.28 L1203.62 535.49 L1211.94 540.28 L1203.62 545.07 Z" fill="#8fbcb0"/>
<path d="M1211.94 540.28 L1220.26 535.49 L1228.58 540.28 L1220.26 545.07 Z" fill="#e0ece9"/>
<path d="M1153.82 545.17 L1162.14 540.38 L1170.46 545.17 L1162.14 549.96 Z" fill="#eef5f3"/>
<path d="M1170.33 545.17 L1178.65 540.38 L1186.97 545.17 L1178.65 549.96 Z" fill="#a9cbc3"/>
<path d="M1186.97 545.17 L1195.30 540.38 L1203.62 545.17 L1195.30 549.96 Z" fill="#b7d4cc"/>
<path d="M1203.74 545.17 L1212.06 540.38 L1220.38 545.17 L1212.06 549.96 Z" fill="#d6e7e2"/>
<path d="M1162.14 550.07 L1170.46 545.27 L1178.78 550.07 L1170.46 554.86 Z" fill="#f3f8f7"/>
<path d="M1178.53 550.07 L1186.85 545.27 L1195.17 550.07 L1186.85 554.86 Z" fill="#bfd9d2"/>
<path d="M1195.42 550.07 L1203.74 545.27 L1212.06 550.07 L1203.74 554.86 Z" fill="#e6f0ed"/>
<path d="M1170.33 554.96 L1178.65 550.17 L1186.97 554.96 L1178.65 559.75 Z" fill="#f4f9f8"/>
<path d="M1186.97 554.96 L1195.30 550.17 L1203.62 554.96 L1195.30 559.75 Z" fill="#e9f2ef"/>
<path d="M1178.78 559.85 L1187.10 555.06 L1195.42 559.85 L1187.10 564.64 Z" fill="#f6faf9"/>
</svg>
<div class="t" style="top:572.4px;font-size:13.2px;line-height:17.2px;color:#000;left:534.3px;width:400px;text-align:center;">Enrichment&nbsp; analysis</div>
<div class="t" style="top:572.5px;font-size:13.0px;line-height:16.9px;color:#000;left:682.8px;width:400px;text-align:center;">SMR</div>
<div class="t" style="top:572.5px;font-size:13.15px;line-height:17.1px;color:#000;left:831.4px;width:400px;text-align:center;">Colocalization</div>
<div class="t" style="top:572.5px;font-size:13.1px;line-height:17.0px;color:#000;left:984.3px;width:400px;text-align:center;">Fine-mapping</div>
<div class="abs" style="left:650px;top:600px;width:615px;height:33.6px;background:#1a6a6d">
</div>
<div class="t" style="top:607.4px;font-size:18.2px;line-height:23.7px;color:#fff;font-weight:700;left:757.3px;width:400px;text-align:center;">Download</div>
<i class="b" style="transform:translate(703.25px,651.85px)">
</i>
<div class="t" style="top:646.4px;font-size:11.8px;line-height:15.3px;color:#000;left:720.6px;">TWAS publication information</div>
<i class="b" style="transform:translate(1043.05px,651.45px)">
</i>
<div class="t" style="top:646.0px;font-size:11.8px;line-height:15.3px;color:#000;left:1060.7px;">Gene annotation information</div>
<i class="b" style="transform:translate(703.25px,673.45px)">
</i>
<div class="t" style="top:668.0px;font-size:11.8px;line-height:15.3px;color:#000;left:720.6px;">Significant eQTLs</div>
<i class="b" style="transform:translate(1043.05px,673.05px)">
</i>
<div class="t" style="top:667.6px;font-size:11.8px;line-height:15.3px;color:#000;left:1060.7px;">Trait information</div>
</body>
</html>
